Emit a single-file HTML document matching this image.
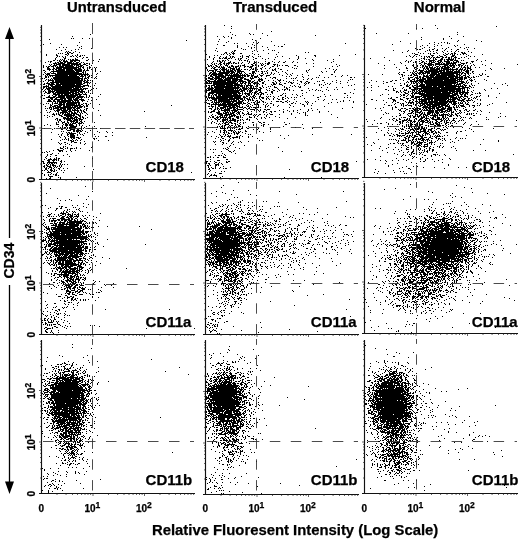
<!DOCTYPE html><html><head><meta charset="utf-8"><title>Figure</title><style>html,body{margin:0;padding:0;background:#fff}#f{position:relative;width:520px;height:540px;overflow:hidden;background:#fff}</style></head><body><div id="f"><svg width="520" height="540" viewBox="0 0 520 540" style="position:absolute;left:0;top:0">
<defs><filter id="b" x="0" y="0" width="520" height="540" filterUnits="userSpaceOnUse"><feGaussianBlur stdDeviation="0.4"/></filter></defs>
<g fill="none" stroke="#000" stroke-width="1.05" stroke-linecap="square" filter="url(#b)">
<path transform="translate(41.5 179.5) scale(1 -1)" d="M0 0m5 1zm3 0zm1 0zm10 0zm-10 1zm8 0zm2 0zm16 0zm-27 1zm1 0zm1 0zm1 0zm-8 1zm4 0zm7 0zm1 0zm2 0zm-14 1zm4 0zm2 0zm3 0zm2 0zm1 0zm-14 1zm9 0zm5 0zm-9 1zm1 0zm1 0zm1 0zm7 0zm6 0zm128 0zm-143 1zm3 0zm2 0zm1 0zm-12 1zm2 0zm3 0zm3 0zm1 0zm1 0zm2 0zm2 0zm5 0zm3 0zm-19 1zm1 0zm4 0zm1 0zm3 0zm5 0zm34 0zm-48 1zm1 0zm2 0zm3 0zm2 0zm5 0zm1 0zm4 0zm4 0zm-23 1zm2 0zm3 0zm1 0zm1 0zm3 0zm2 0zm4 0zm-17 1zm1 0zm3 0zm1 0zm1 0zm1 0zm3 0zm2 0zm2 0zm2 0zm2 0zm23 0zm-40 1zm2 0zm1 0zm3 0zm2 0zm1 0zm1 0zm1 0zm4 0zm2 0zm-15 1zm2 0zm2 0zm2 0zm1 0zm7 0zm2 0zm2 0zm3 0zm-24 1zm1 0zm3 0zm2 0zm2 0zm1 0zm2 0zm2 0zm4 0zm-17 1zm4 0zm1 0zm1 0zm1 0zm1 0zm1 0zm1 0zm1 0zm1 0zm1 0zm5 0zm-19 1zm1 0zm5 0zm1 0zm4 0zm7 0zm1 0zm3 0zm-17 1zm1 0zm1 0zm3 0zm1 0zm1 0zm2 0zm2 0zm3 0zm-17 1zm4 0zm1 0zm1 0zm1 0zm2 0zm1 0zm1 0zm1 0zm2 0zm-12 1zm4 0zm4 0zm2 0zm2 0zm1 0zm33 0zm-47 1zm11 0zm-10 1zm4 0zm19 0zm-22 1zm8 0zm1 0zm7 0zm-16 1zm3 0zm1 0zm16 0zm-15 1zm6 0zm-16 1zm2 0zm3 0zm-1 1zm3 0zm10 0zm1 0zm2 0zm4 0zm5 0zm-18 1zm5 0zm1 0zm1 0zm1 0zm1 0zm8 0zm5 0zm14 0zm-32 1zm1 0zm5 0zm7 0zm-10 1zm1 0zm1 0zm3 0zm2 0zm3 0zm1 0zm1 0zm2 0zm2 0zm4 0zm-20 1zm3 0zm4 0zm9 0zm15 0zm-28 1zm2 0zm27 0zm-21 1zm-11 1zm5 0zm4 0zm15 0zm-25 1zm2 0zm6 0zm13 0zm5 0zm-27 1zm6 0zm1 0zm6 0zm3 0zm1 0zm1 0zm4 0zm-9 1zm1 0zm1 0zm11 0zm-24 1zm8 0zm2 0zm1 0zm2 0zm2 0zm2 0zm3 0zm18 0zm10 0zm-57 1zm11 0zm2 0zm2 0zm2 0zm4 0zm4 0zm5 0zm13 0zm-29 1zm3 0zm3 0zm2 0zm1 0zm4 0zm1 0zm14 0zm1 0zm2 0zm-36 1zm5 0zm5 0zm1 0zm1 0zm1 0zm1 0zm2 0zm1 0zm1 0zm2 0zm66 0zm-87 1zm5 0zm4 0zm2 0zm1 0zm1 0zm1 0zm1 0zm21 0zm3 0zm7 0zm1 0zm-45 1zm6 0zm3 0zm1 0zm1 0zm1 0zm1 0zm3 0zm6 0zm29 0zm-54 1zm3 0zm6 0zm1 0zm2 0zm1 0zm1 0zm1 0zm4 0zm3 0zm2 0zm12 0zm-32 1zm5 0zm2 0zm1 0zm1 0zm1 0zm1 0zm1 0zm1 0zm4 0zm5 0zm-33 1zm15 0zm2 0zm1 0zm2 0zm6 0zm2 0zm8 0zm12 0zm8 0zm5 0zm-51 1zm2 0zm10 0zm1 0zm2 0zm1 0zm1 0zm2 0zm1 0zm4 0zm12 0zm9 0zm-39 1zm1 0zm1 0zm1 0zm3 0zm1 0zm2 0zm1 0zm1 0zm1 0zm1 0zm2 0zm8 0zm-38 1zm9 0zm1 0zm4 0zm4 0zm1 0zm1 0zm1 0zm1 0zm3 0zm1 0zm3 0zm-37 1zm10 0zm7 0zm3 0zm3 0zm2 0zm1 0zm1 0zm3 0zm5 0zm2 0zm2 0zm5 0zm1 0zm7 0zm4 0zm-40 1zm2 0zm2 0zm1 0zm2 0zm2 0zm1 0zm1 0zm1 0zm1 0zm1 0zm1 0zm6 0zm3 0zm-26 1zm4 0zm4 0zm4 0zm1 0zm1 0zm1 0zm1 0zm1 0zm1 0zm5 0zm5 0zm8 0zm51 0zm-101 1zm6 0zm12 0zm3 0zm1 0zm1 0zm2 0zm1 0zm1 0zm1 0zm1 0zm3 0zm3 0zm3 0zm7 0zm-42 1zm9 0zm1 0zm1 0zm5 0zm2 0zm1 0zm1 0zm2 0zm1 0zm1 0zm1 0zm4 0zm3 0zm-23 1zm6 0zm3 0zm1 0zm2 0zm2 0zm2 0zm1 0zm1 0zm1 0zm3 0zm1 0zm1 0zm1 0zm2 0zm-27 1zm2 0zm4 0zm1 0zm1 0zm3 0zm1 0zm3 0zm2 0zm2 0zm1 0zm1 0zm2 0zm2 0zm1 0zm12 0zm-36 1zm3 0zm3 0zm3 0zm3 0zm1 0zm1 0zm1 0zm1 0zm2 0zm1 0zm3 0zm1 0zm3 0zm-27 1zm2 0zm1 0zm7 0zm1 0zm1 0zm1 0zm1 0zm2 0zm1 0zm1 0zm1 0zm1 0zm2 0zm2 0zm-26 1zm2 0zm2 0zm1 0zm4 0zm2 0zm1 0zm1 0zm1 0zm1 0zm2 0zm2 0zm1 0zm1 0zm1 0zm2 0zm1 0zm1 0zm1 0zm-26 1zm1 0zm6 0zm1 0zm1 0zm1 0zm1 0zm1 0zm1 0zm1 0zm1 0zm1 0zm1 0zm1 0zm2 0zm2 0zm1 0zm1 0zm3 0zm2 0zm-38 1zm16 0zm1 0zm1 0zm2 0zm1 0zm2 0zm1 0zm1 0zm2 0zm1 0zm1 0zm1 0zm3 0zm2 0zm1 0zm4 0zm-38 1zm3 0zm9 0zm1 0zm4 0zm1 0zm1 0zm1 0zm1 0zm1 0zm2 0zm2 0zm1 0zm3 0zm1 0zm2 0zm-38 1zm3 0zm7 0zm5 0zm1 0zm1 0zm3 0zm1 0zm1 0zm1 0zm1 0zm1 0zm1 0zm1 0zm1 0zm1 0zm1 0zm4 0zm1 0zm1 0zm5 0zm15 0zm-48 1zm1 0zm1 0zm2 0zm2 0zm1 0zm3 0zm2 0zm1 0zm1 0zm1 0zm1 0zm1 0zm1 0zm1 0zm2 0zm1 0zm2 0zm1 0zm1 0zm2 0zm7 0zm-34 1zm3 0zm2 0zm2 0zm2 0zm1 0zm2 0zm2 0zm1 0zm1 0zm2 0zm1 0zm1 0zm1 0zm1 0zm1 0zm4 0zm2 0zm4 0zm-39 1zm2 0zm9 0zm2 0zm1 0zm1 0zm1 0zm1 0zm1 0zm1 0zm1 0zm2 0zm2 0zm1 0zm2 0zm1 0zm2 0zm2 0zm2 0zm3 0zm1 0zm-35 1zm5 0zm2 0zm1 0zm4 0zm1 0zm1 0zm1 0zm1 0zm2 0zm1 0zm1 0zm1 0zm3 0zm3 0zm1 0zm3 0zm2 0zm1 0zm60 0zm-98 1zm8 0zm2 0zm1 0zm1 0zm1 0zm2 0zm1 0zm1 0zm1 0zm1 0zm1 0zm1 0zm2 0zm1 0zm2 0zm1 0zm1 0zm1 0zm1 0zm1 0zm1 0zm2 0zm1 0zm2 0zm3 0zm12 0zm-48 1zm1 0zm2 0zm4 0zm1 0zm1 0zm1 0zm1 0zm2 0zm1 0zm1 0zm2 0zm1 0zm1 0zm1 0zm2 0zm2 0zm1 0zm2 0zm3 0zm4 0zm2 0zm-41 1zm2 0zm2 0zm2 0zm2 0zm1 0zm1 0zm1 0zm1 0zm1 0zm2 0zm1 0zm1 0zm1 0zm1 0zm1 0zm2 0zm1 0zm1 0zm1 0zm1 0zm2 0zm1 0zm2 0zm1 0zm1 0zm1 0zm7 0zm1 0zm6 0zm-44 1zm1 0zm1 0zm2 0zm2 0zm1 0zm1 0zm1 0zm1 0zm1 0zm1 0zm1 0zm1 0zm1 0zm1 0zm1 0zm1 0zm1 0zm1 0zm1 0zm1 0zm1 0zm1 0zm1 0zm1 0zm2 0zm1 0zm1 0zm1 0zm1 0zm3 0zm-39 1zm5 0zm2 0zm1 0zm1 0zm1 0zm2 0zm1 0zm1 0zm1 0zm3 0zm1 0zm1 0zm1 0zm1 0zm1 0zm1 0zm1 0zm2 0zm2 0zm1 0zm1 0zm1 0zm2 0zm1 0zm1 0zm1 0zm2 0zm2 0zm1 0zm-37 1zm1 0zm3 0zm1 0zm1 0zm1 0zm2 0zm1 0zm1 0zm2 0zm1 0zm2 0zm1 0zm1 0zm1 0zm1 0zm1 0zm1 0zm1 0zm1 0zm1 0zm1 0zm1 0zm1 0zm1 0zm1 0zm3 0zm3 0zm1 0zm84 0zm-128 1zm7 0zm2 0zm6 0zm1 0zm1 0zm1 0zm1 0zm1 0zm1 0zm2 0zm1 0zm1 0zm1 0zm1 0zm1 0zm1 0zm1 0zm1 0zm2 0zm2 0zm1 0zm2 0zm1 0zm4 0zm2 0zm11 0zm-53 1zm2 0zm4 0zm2 0zm1 0zm1 0zm1 0zm2 0zm1 0zm1 0zm2 0zm1 0zm2 0zm1 0zm1 0zm1 0zm1 0zm1 0zm1 0zm1 0zm1 0zm1 0zm1 0zm2 0zm1 0zm4 0zm2 0zm1 0zm4 0zm-38 1zm3 0zm2 0zm2 0zm1 0zm1 0zm1 0zm1 0zm1 0zm1 0zm2 0zm1 0zm1 0zm1 0zm1 0zm1 0zm1 0zm1 0zm1 0zm1 0zm1 0zm1 0zm1 0zm-32 1zm1 0zm1 0zm1 0zm1 0zm2 0zm1 0zm1 0zm2 0zm1 0zm1 0zm1 0zm1 0zm1 0zm1 0zm1 0zm1 0zm1 0zm1 0zm1 0zm1 0zm1 0zm2 0zm1 0zm2 0zm2 0zm1 0zm4 0zm5 0zm-39 1zm1 0zm1 0zm3 0zm1 0zm3 0zm1 0zm1 0zm2 0zm1 0zm1 0zm1 0zm1 0zm1 0zm1 0zm1 0zm1 0zm1 0zm1 0zm1 0zm2 0zm1 0zm1 0zm1 0zm1 0zm3 0zm1 0zm1 0zm1 0zm7 0zm-43 1zm1 0zm2 0zm1 0zm2 0zm1 0zm1 0zm1 0zm1 0zm1 0zm1 0zm1 0zm1 0zm2 0zm1 0zm3 0zm1 0zm1 0zm1 0zm2 0zm1 0zm1 0zm1 0zm1 0zm2 0zm1 0zm1 0zm1 0zm1 0zm5 0zm8 0zm-53 1zm1 0zm6 0zm1 0zm1 0zm3 0zm1 0zm4 0zm1 0zm1 0zm1 0zm1 0zm1 0zm2 0zm1 0zm1 0zm1 0zm1 0zm2 0zm2 0zm1 0zm1 0zm1 0zm3 0zm-35 1zm1 0zm1 0zm1 0zm1 0zm1 0zm1 0zm1 0zm1 0zm2 0zm1 0zm1 0zm1 0zm1 0zm1 0zm1 0zm1 0zm1 0zm2 0zm1 0zm1 0zm1 0zm1 0zm1 0zm1 0zm1 0zm1 0zm2 0zm1 0zm1 0zm1 0zm1 0zm1 0zm1 0zm2 0zm2 0zm2 0zm3 0zm-43 1zm1 0zm4 0zm1 0zm1 0zm3 0zm1 0zm1 0zm1 0zm1 0zm1 0zm1 0zm2 0zm1 0zm1 0zm1 0zm1 0zm1 0zm1 0zm1 0zm1 0zm1 0zm2 0zm1 0zm1 0zm1 0zm1 0zm1 0zm1 0zm3 0zm3 0zm9 0zm-56 1zm2 0zm5 0zm3 0zm3 0zm1 0zm2 0zm1 0zm1 0zm1 0zm1 0zm1 0zm1 0zm1 0zm1 0zm1 0zm1 0zm1 0zm1 0zm1 0zm1 0zm1 0zm1 0zm1 0zm1 0zm1 0zm2 0zm1 0zm6 0zm3 0zm-36 1zm1 0zm1 0zm1 0zm1 0zm1 0zm1 0zm2 0zm1 0zm2 0zm1 0zm1 0zm1 0zm1 0zm2 0zm1 0zm1 0zm1 0zm2 0zm1 0zm1 0zm1 0zm1 0zm1 0zm1 0zm2 0zm1 0zm1 0zm1 0zm14 0zm-56 1zm3 0zm1 0zm1 0zm4 0zm1 0zm1 0zm2 0zm1 0zm1 0zm1 0zm1 0zm1 0zm1 0zm1 0zm1 0zm1 0zm1 0zm1 0zm1 0zm1 0zm2 0zm1 0zm1 0zm1 0zm1 0zm2 0zm1 0zm3 0zm3 0zm5 0zm2 0zm-47 1zm1 0zm2 0zm1 0zm1 0zm2 0zm1 0zm2 0zm1 0zm1 0zm1 0zm1 0zm1 0zm1 0zm1 0zm1 0zm1 0zm1 0zm1 0zm1 0zm1 0zm1 0zm1 0zm1 0zm1 0zm1 0zm2 0zm1 0zm1 0zm1 0zm2 0zm1 0zm1 0zm2 0zm2 0zm2 0zm-45 1zm2 0zm3 0zm1 0zm1 0zm1 0zm1 0zm1 0zm1 0zm2 0zm1 0zm1 0zm1 0zm1 0zm1 0zm1 0zm1 0zm1 0zm1 0zm1 0zm1 0zm1 0zm2 0zm1 0zm1 0zm1 0zm1 0zm1 0zm1 0zm2 0zm1 0zm1 0zm1 0zm1 0zm1 0zm1 0zm4 0zm-44 1zm4 0zm1 0zm1 0zm2 0zm2 0zm1 0zm1 0zm1 0zm1 0zm1 0zm1 0zm1 0zm1 0zm1 0zm1 0zm1 0zm1 0zm1 0zm1 0zm1 0zm1 0zm1 0zm1 0zm1 0zm1 0zm1 0zm1 0zm1 0zm1 0zm1 0zm2 0zm1 0zm6 0zm2 0zm-48 1zm3 0zm2 0zm1 0zm1 0zm2 0zm1 0zm1 0zm1 0zm1 0zm1 0zm1 0zm1 0zm1 0zm1 0zm1 0zm1 0zm1 0zm1 0zm1 0zm1 0zm1 0zm1 0zm1 0zm1 0zm1 0zm1 0zm1 0zm1 0zm1 0zm1 0zm1 0zm1 0zm1 0zm1 0zm1 0zm1 0zm1 0zm2 0zm6 0zm-48 1zm3 0zm1 0zm1 0zm1 0zm1 0zm1 0zm1 0zm1 0zm1 0zm1 0zm1 0zm1 0zm1 0zm1 0zm1 0zm1 0zm1 0zm1 0zm1 0zm1 0zm1 0zm1 0zm1 0zm1 0zm1 0zm1 0zm2 0zm1 0zm1 0zm1 0zm1 0zm1 0zm2 0zm1 0zm2 0zm1 0zm1 0zm1 0zm1 0zm6 0zm3 0zm-53 1zm1 0zm2 0zm2 0zm1 0zm1 0zm2 0zm1 0zm1 0zm1 0zm1 0zm1 0zm1 0zm1 0zm1 0zm1 0zm1 0zm1 0zm1 0zm1 0zm1 0zm1 0zm1 0zm1 0zm1 0zm1 0zm1 0zm1 0zm2 0zm1 0zm1 0zm1 0zm1 0zm1 0zm2 0zm10 0zm-49 1zm1 0zm1 0zm1 0zm1 0zm1 0zm3 0zm1 0zm1 0zm1 0zm1 0zm1 0zm1 0zm1 0zm1 0zm1 0zm1 0zm1 0zm1 0zm1 0zm1 0zm1 0zm1 0zm1 0zm1 0zm1 0zm1 0zm1 0zm1 0zm1 0zm1 0zm1 0zm1 0zm1 0zm1 0zm1 0zm1 0zm1 0zm1 0zm1 0zm4 0zm2 0zm-44 1zm2 0zm2 0zm1 0zm1 0zm3 0zm1 0zm1 0zm1 0zm1 0zm1 0zm2 0zm1 0zm1 0zm1 0zm1 0zm1 0zm1 0zm1 0zm1 0zm1 0zm1 0zm1 0zm1 0zm1 0zm1 0zm1 0zm1 0zm1 0zm1 0zm3 0zm1 0zm1 0zm1 0zm1 0zm1 0zm6 0zm-51 1zm1 0zm4 0zm1 0zm1 0zm1 0zm1 0zm1 0zm1 0zm2 0zm1 0zm1 0zm1 0zm1 0zm1 0zm1 0zm1 0zm1 0zm1 0zm1 0zm1 0zm1 0zm1 0zm1 0zm1 0zm1 0zm1 0zm1 0zm2 0zm1 0zm1 0zm1 0zm1 0zm1 0zm1 0zm5 0zm-43 1zm2 0zm1 0zm1 0zm1 0zm2 0zm1 0zm1 0zm3 0zm1 0zm1 0zm2 0zm1 0zm1 0zm1 0zm1 0zm1 0zm1 0zm1 0zm1 0zm1 0zm1 0zm1 0zm1 0zm1 0zm1 0zm1 0zm1 0zm1 0zm1 0zm1 0zm1 0zm1 0zm2 0zm1 0zm3 0zm2 0zm6 0zm-48 1zm3 0zm1 0zm1 0zm1 0zm1 0zm1 0zm1 0zm1 0zm1 0zm1 0zm1 0zm1 0zm1 0zm1 0zm1 0zm1 0zm1 0zm1 0zm1 0zm1 0zm1 0zm1 0zm1 0zm1 0zm1 0zm1 0zm1 0zm1 0zm1 0zm1 0zm1 0zm1 0zm3 0zm1 0zm1 0zm1 0zm1 0zm2 0zm-47 1zm5 0zm4 0zm1 0zm2 0zm1 0zm1 0zm1 0zm1 0zm1 0zm1 0zm1 0zm1 0zm1 0zm1 0zm1 0zm1 0zm1 0zm1 0zm1 0zm1 0zm1 0zm1 0zm1 0zm1 0zm1 0zm1 0zm1 0zm1 0zm1 0zm1 0zm2 0zm1 0zm2 0zm1 0zm5 0zm-47 1zm3 0zm1 0zm1 0zm1 0zm1 0zm1 0zm2 0zm1 0zm1 0zm1 0zm1 0zm1 0zm1 0zm1 0zm1 0zm1 0zm1 0zm1 0zm1 0zm1 0zm1 0zm1 0zm1 0zm1 0zm1 0zm1 0zm1 0zm1 0zm1 0zm1 0zm1 0zm1 0zm1 0zm1 0zm2 0zm1 0zm2 0zm1 0zm2 0zm2 0zm-46 1zm2 0zm2 0zm2 0zm2 0zm1 0zm1 0zm1 0zm1 0zm1 0zm1 0zm1 0zm1 0zm1 0zm1 0zm1 0zm1 0zm1 0zm1 0zm1 0zm1 0zm1 0zm1 0zm1 0zm1 0zm1 0zm1 0zm1 0zm1 0zm1 0zm2 0zm1 0zm2 0zm3 0zm-45 1zm2 0zm7 0zm2 0zm1 0zm1 0zm1 0zm1 0zm1 0zm1 0zm1 0zm1 0zm1 0zm1 0zm1 0zm1 0zm1 0zm1 0zm1 0zm1 0zm1 0zm1 0zm1 0zm1 0zm1 0zm1 0zm1 0zm1 0zm1 0zm1 0zm1 0zm1 0zm1 0zm2 0zm1 0zm1 0zm2 0zm6 0zm2 0zm-51 1zm1 0zm2 0zm5 0zm1 0zm1 0zm1 0zm1 0zm1 0zm1 0zm1 0zm1 0zm1 0zm1 0zm1 0zm1 0zm1 0zm1 0zm1 0zm1 0zm1 0zm1 0zm1 0zm1 0zm1 0zm1 0zm1 0zm1 0zm1 0zm1 0zm3 0zm3 0zm2 0zm1 0zm3 0zm4 0zm-50 1zm1 0zm2 0zm2 0zm2 0zm3 0zm1 0zm1 0zm1 0zm1 0zm1 0zm1 0zm1 0zm1 0zm1 0zm1 0zm1 0zm1 0zm1 0zm1 0zm1 0zm1 0zm1 0zm1 0zm1 0zm1 0zm1 0zm1 0zm1 0zm2 0zm1 0zm1 0zm1 0zm2 0zm3 0zm1 0zm7 0zm-51 1zm2 0zm2 0zm1 0zm1 0zm1 0zm1 0zm1 0zm1 0zm1 0zm1 0zm1 0zm1 0zm1 0zm1 0zm1 0zm1 0zm1 0zm1 0zm1 0zm1 0zm2 0zm1 0zm1 0zm1 0zm1 0zm1 0zm1 0zm1 0zm3 0zm2 0zm1 0zm2 0zm1 0zm2 0zm2 0zm2 0zm-48 1zm3 0zm1 0zm1 0zm1 0zm6 0zm1 0zm1 0zm1 0zm1 0zm1 0zm1 0zm1 0zm1 0zm1 0zm1 0zm1 0zm1 0zm1 0zm1 0zm1 0zm1 0zm1 0zm1 0zm1 0zm1 0zm1 0zm1 0zm1 0zm1 0zm1 0zm1 0zm1 0zm1 0zm1 0zm1 0zm1 0zm1 0zm1 0zm8 0zm-51 1zm2 0zm1 0zm1 0zm2 0zm1 0zm1 0zm1 0zm1 0zm2 0zm1 0zm1 0zm1 0zm1 0zm1 0zm1 0zm1 0zm1 0zm1 0zm1 0zm1 0zm1 0zm1 0zm1 0zm1 0zm1 0zm1 0zm1 0zm1 0zm1 0zm1 0zm1 0zm1 0zm1 0zm2 0zm2 0zm2 0zm5 0zm5 0zm-53 1zm6 0zm3 0zm4 0zm1 0zm1 0zm1 0zm1 0zm1 0zm1 0zm1 0zm1 0zm1 0zm1 0zm1 0zm1 0zm1 0zm1 0zm1 0zm1 0zm1 0zm1 0zm1 0zm1 0zm1 0zm4 0zm1 0zm2 0zm-40 1zm6 0zm1 0zm1 0zm1 0zm1 0zm1 0zm1 0zm1 0zm1 0zm1 0zm1 0zm1 0zm1 0zm1 0zm1 0zm1 0zm1 0zm1 0zm1 0zm1 0zm1 0zm1 0zm1 0zm1 0zm2 0zm1 0zm1 0zm1 0zm1 0zm1 0zm2 0zm2 0zm10 0zm5 0zm-57 1zm1 0zm5 0zm4 0zm3 0zm1 0zm1 0zm1 0zm1 0zm1 0zm1 0zm1 0zm1 0zm2 0zm1 0zm1 0zm1 0zm1 0zm1 0zm1 0zm1 0zm2 0zm1 0zm1 0zm1 0zm1 0zm1 0zm1 0zm2 0zm1 0zm2 0zm1 0zm1 0zm7 0zm-48 1zm1 0zm1 0zm1 0zm2 0zm1 0zm2 0zm1 0zm2 0zm1 0zm1 0zm1 0zm1 0zm1 0zm1 0zm2 0zm1 0zm1 0zm1 0zm1 0zm1 0zm1 0zm2 0zm1 0zm1 0zm1 0zm1 0zm1 0zm1 0zm1 0zm3 0zm3 0zm4 0zm4 0zm-48 1zm1 0zm1 0zm4 0zm1 0zm2 0zm1 0zm1 0zm1 0zm1 0zm1 0zm2 0zm1 0zm1 0zm1 0zm1 0zm1 0zm1 0zm1 0zm1 0zm1 0zm1 0zm1 0zm1 0zm1 0zm2 0zm1 0zm1 0zm3 0zm4 0zm2 0zm6 0zm-52 1zm4 0zm1 0zm5 0zm3 0zm1 0zm1 0zm1 0zm1 0zm1 0zm1 0zm1 0zm1 0zm1 0zm1 0zm1 0zm1 0zm1 0zm1 0zm1 0zm1 0zm1 0zm1 0zm1 0zm1 0zm1 0zm1 0zm2 0zm2 0zm1 0zm4 0zm2 0zm1 0zm4 0zm2 0zm-53 1zm3 0zm2 0zm1 0zm2 0zm1 0zm1 0zm2 0zm2 0zm2 0zm1 0zm1 0zm1 0zm1 0zm2 0zm1 0zm1 0zm1 0zm1 0zm1 0zm1 0zm1 0zm1 0zm3 0zm2 0zm1 0zm1 0zm1 0zm2 0zm6 0zm-46 1zm7 0zm3 0zm1 0zm1 0zm1 0zm3 0zm1 0zm2 0zm1 0zm1 0zm1 0zm1 0zm1 0zm1 0zm1 0zm1 0zm1 0zm1 0zm2 0zm2 0zm1 0zm1 0zm2 0zm1 0zm1 0zm4 0zm1 0zm4 0zm-42 1zm2 0zm3 0zm2 0zm1 0zm1 0zm1 0zm1 0zm2 0zm1 0zm1 0zm1 0zm1 0zm1 0zm1 0zm1 0zm2 0zm1 0zm1 0zm1 0zm1 0zm1 0zm1 0zm1 0zm1 0zm1 0zm3 0zm1 0zm1 0zm4 0zm-36 1zm1 0zm1 0zm1 0zm2 0zm1 0zm1 0zm1 0zm1 0zm1 0zm1 0zm3 0zm1 0zm1 0zm1 0zm1 0zm1 0zm1 0zm1 0zm1 0zm1 0zm1 0zm2 0zm1 0zm4 0zm2 0zm1 0zm2 0zm3 0zm-47 1zm5 0zm5 0zm2 0zm1 0zm2 0zm1 0zm1 0zm2 0zm1 0zm2 0zm1 0zm1 0zm1 0zm1 0zm2 0zm3 0zm1 0zm1 0zm3 0zm2 0zm-35 1zm2 0zm1 0zm8 0zm1 0zm3 0zm1 0zm1 0zm1 0zm1 0zm3 0zm1 0zm1 0zm2 0zm1 0zm4 0zm19 0zm-45 1zm1 0zm3 0zm2 0zm2 0zm2 0zm1 0zm2 0zm4 0zm1 0zm1 0zm1 0zm1 0zm1 0zm1 0zm1 0zm1 0zm1 0zm7 0zm1 0zm6 0zm-38 1zm5 0zm2 0zm2 0zm4 0zm2 0zm2 0zm1 0zm2 0zm1 0zm1 0zm11 0zm11 0zm-44 1zm9 0zm1 0zm10 0zm7 0zm-26 1zm7 0zm2 0zm12 0zm6 0zm3 0zm1 0zm-30 1zm2 0zm3 0zm3 0zm5 0zm1 0zm2 0zm3 0zm3 0zm1 0zm-34 1zm10 0zm1 0zm10 0zm5 0zm3 0zm2 0zm3 0zm2 0zm2 0zm-38 1zm10 0zm9 0zm1 0zm2 0zm9 0zm-19 1zm2 0zm2 0zm5 0zm1 0zm3 0zm1 0zm-7 1zm2 0zm2 0zm1 0zm3 0zm6 0zm-13 1zm2 0zm7 0zm-14 1zm10 0zm-15 1zm9 0zm10 0zm3 0zm3 1zm10 0zm-32 1zm4 0zm3 0zm13 0zm2 1zm-4 1zm-34 1zm18 0zm-11 1zm29 1zm107 2zm-137 1zm22 1zm2 0zm9 0zm7 0zm-17 2zm18 2z"/>
<path transform="translate(205.5 178.5) scale(1 -1)" d="M0 0m15 1zm64 0zm37 0zm-112 1zm7 0zm6 0zm-12 1zm1 0zm2 0zm1 0zm1 0zm1 0zm-9 1zm4 0zm3 0zm-6 1zm11 0zm1 0zm1 0zm-6 1zm-6 1zm12 0zm3 0zm-14 1zm124 0zm-126 1zm1 0zm80 0zm-80 1zm3 0zm1 0zm2 0zm4 0zm4 0zm2 0zm1 0zm-18 1zm3 0zm4 0zm5 0zm10 0zm-22 1zm7 0zm8 0zm-16 1zm1 0zm2 0zm5 0zm1 0zm2 0zm126 0zm-135 1zm6 0zm1 0zm1 0zm1 0zm4 0zm-16 1zm2 0zm1 0zm5 0zm4 0zm3 0zm-15 1zm9 0zm1 0zm3 0zm7 0zm1 0zm-21 1zm1 0zm3 0zm4 0zm12 0zm2 0zm1 0zm127 0zm-139 1zm1 0zm1 0zm-9 1zm16 0zm1 0zm-20 2zm1 0zm2 0zm3 0zm4 0zm1 0zm5 0zm1 0zm1 0zm-15 1zm13 0zm-8 1zm3 0zm1 0zm2 0zm4 0zm-1 1zm-2 1zm13 0zm-22 1zm18 0zm-10 1zm8 0zm1 0zm3 0zm49 0zm19 0zm-73 1zm6 0zm-24 1zm3 0zm2 0zm11 0zm1 0zm-4 1zm2 0zm3 0zm11 0zm-12 1zm8 0zm43 0zm-49 1zm1 1zm14 0zm-29 1zm7 0zm11 0zm-10 1zm3 0zm5 0zm-17 1zm8 0zm1 0zm9 0zm6 0zm3 0zm-28 1zm2 0zm5 0zm8 0zm5 0zm7 0zm8 0zm-27 1zm2 0zm5 0zm1 0zm30 0zm3 0zm-42 1zm5 0zm4 0zm-14 1zm7 0zm1 0zm7 0zm3 0zm6 0zm18 0zm27 0zm-66 1zm3 0zm8 0zm3 0zm1 0zm1 0zm1 0zm1 0zm1 0zm2 0zm9 0zm-37 1zm5 0zm5 0zm1 0zm2 0zm3 0zm1 0zm1 0zm1 0zm6 0zm1 0zm2 0zm3 0zm6 0zm4 0zm-32 1zm5 0zm3 0zm2 0zm10 0zm40 0zm8 0zm-81 1zm12 0zm4 0zm2 0zm2 0zm7 0zm3 0zm11 0zm2 0zm62 0zm39 0zm-127 1zm4 0zm1 0zm2 0zm3 0zm2 0zm1 0zm1 0zm7 0zm-37 1zm6 0zm6 0zm3 0zm1 0zm2 0zm2 0zm5 0zm1 0zm2 0zm2 0zm1 0zm3 0zm21 0zm-51 1zm8 0zm4 0zm2 0zm5 0zm2 0zm2 0zm3 0zm2 0zm5 0zm1 0zm13 0zm11 0zm-50 1zm3 0zm1 0zm1 0zm3 0zm1 0zm1 0zm1 0zm1 0zm2 0zm11 0zm-29 1zm8 0zm6 0zm6 0zm2 0zm1 0zm1 0zm13 0zm4 0zm13 0zm-50 1zm1 0zm1 0zm1 0zm1 0zm1 0zm2 0zm3 0zm2 0zm2 0zm5 0zm2 0zm1 0zm5 0zm1 0zm10 0zm12 0zm33 0zm9 0zm-100 1zm5 0zm3 0zm2 0zm2 0zm3 0zm2 0zm4 0zm2 0zm1 0zm6 0zm4 0zm33 0zm16 0zm-78 1zm2 0zm2 0zm1 0zm2 0zm4 0zm2 0zm4 0zm2 0zm2 0zm1 0zm1 0zm2 0zm6 0zm15 0zm20 0zm-61 1zm2 0zm1 0zm4 0zm2 0zm1 0zm3 0zm3 0zm1 0zm14 0zm8 0zm2 0zm-45 1zm2 0zm5 0zm1 0zm1 0zm1 0zm7 0zm2 0zm3 0zm13 0zm10 0zm1 0zm4 0zm17 0zm1 0zm16 0zm-91 1zm5 0zm3 0zm3 0zm2 0zm1 0zm3 0zm3 0zm1 0zm2 0zm1 0zm4 0zm4 0zm18 0zm28 0zm-78 1zm3 0zm9 0zm2 0zm1 0zm1 0zm2 0zm1 0zm1 0zm6 0zm3 0zm3 0zm2 0zm7 0zm1 0zm6 0zm1 0zm3 0zm1 0zm20 0zm36 0zm-108 1zm5 0zm3 0zm2 0zm1 0zm3 0zm2 0zm2 0zm4 0zm1 0zm2 0zm21 0zm-50 1zm9 0zm5 0zm1 0zm1 0zm1 0zm2 0zm2 0zm1 0zm1 0zm1 0zm1 0zm1 0zm1 0zm2 0zm1 0zm2 0zm3 0zm6 0zm23 0zm-61 1zm4 0zm1 0zm2 0zm1 0zm3 0zm1 0zm1 0zm1 0zm1 0zm1 0zm3 0zm2 0zm1 0zm1 0zm1 0zm5 0zm2 0zm4 0zm1 0zm2 0zm8 0zm-49 1zm6 0zm1 0zm2 0zm3 0zm3 0zm2 0zm2 0zm2 0zm1 0zm2 0zm1 0zm4 0zm1 0zm9 0zm9 0zm5 0zm4 0zm22 0zm-77 1zm2 0zm1 0zm3 0zm1 0zm1 0zm2 0zm1 0zm1 0zm1 0zm1 0zm1 0zm1 0zm2 0zm1 0zm1 0zm6 0zm1 0zm1 0zm2 0zm2 0zm7 0zm1 0zm1 0zm3 0zm7 0zm3 0zm5 0zm10 0zm16 0zm42 0zm-128 1zm3 0zm1 0zm4 0zm2 0zm1 0zm2 0zm2 0zm2 0zm3 0zm1 0zm1 0zm1 0zm2 0zm2 0zm1 0zm1 0zm2 0zm9 0zm5 0zm3 0zm9 0zm9 0zm-64 1zm4 0zm5 0zm1 0zm1 0zm2 0zm1 0zm1 0zm1 0zm2 0zm2 0zm1 0zm1 0zm1 0zm1 0zm5 0zm3 0zm10 0zm2 0zm3 0zm8 0zm39 0zm2 0zm-95 1zm6 0zm1 0zm1 0zm1 0zm1 0zm3 0zm1 0zm1 0zm1 0zm1 0zm1 0zm1 0zm2 0zm1 0zm3 0zm2 0zm5 0zm2 0zm2 0zm1 0zm1 0zm1 0zm3 0zm2 0zm3 0zm1 0zm4 0zm3 0zm3 0zm1 0zm1 0zm7 0zm12 0zm14 0zm26 0zm-114 1zm1 0zm1 0zm1 0zm1 0zm2 0zm1 0zm1 0zm1 0zm2 0zm2 0zm1 0zm1 0zm1 0zm3 0zm2 0zm1 0zm3 0zm1 0zm4 0zm1 0zm3 0zm18 0zm22 0zm8 0zm6 0zm-97 1zm2 0zm1 0zm5 0zm1 0zm1 0zm1 0zm4 0zm2 0zm1 0zm1 0zm1 0zm2 0zm2 0zm1 0zm1 0zm3 0zm1 0zm1 0zm3 0zm6 0zm15 0zm3 0zm5 0zm12 0zm14 0zm6 0zm2 0zm14 0zm-111 1zm3 0zm1 0zm1 0zm1 0zm4 0zm1 0zm5 0zm1 0zm2 0zm2 0zm3 0zm2 0zm1 0zm1 0zm2 0zm2 0zm7 0zm4 0zm8 0zm4 0zm1 0zm6 0zm1 0zm3 0zm1 0zm8 0zm6 0zm4 0zm14 0zm12 0zm9 0zm-115 1zm1 0zm4 0zm3 0zm1 0zm1 0zm1 0zm1 0zm1 0zm1 0zm1 0zm1 0zm2 0zm1 0zm1 0zm1 0zm1 0zm1 0zm1 0zm6 0zm11 0zm4 0zm2 0zm6 0zm13 0zm8 0zm6 0zm4 0zm11 0zm4 0zm-101 1zm3 0zm1 0zm2 0zm2 0zm2 0zm3 0zm1 0zm1 0zm1 0zm1 0zm1 0zm4 0zm1 0zm1 0zm2 0zm1 0zm1 0zm1 0zm1 0zm1 0zm5 0zm3 0zm1 0zm1 0zm1 0zm1 0zm3 0zm3 0zm4 0zm1 0zm2 0zm1 0zm1 0zm14 0zm17 0zm8 0zm9 0zm-108 1zm1 0zm1 0zm4 0zm2 0zm1 0zm2 0zm1 0zm1 0zm1 0zm2 0zm2 0zm1 0zm1 0zm1 0zm1 0zm2 0zm1 0zm2 0zm1 0zm6 0zm3 0zm2 0zm1 0zm6 0zm56 0zm31 0zm-130 1zm3 0zm2 0zm3 0zm1 0zm1 0zm1 0zm1 0zm1 0zm2 0zm2 0zm1 0zm1 0zm1 0zm1 0zm1 0zm1 0zm2 0zm2 0zm1 0zm1 0zm1 0zm2 0zm1 0zm4 0zm2 0zm2 0zm1 0zm1 0zm1 0zm1 0zm1 0zm2 0zm5 0zm5 0zm19 0zm63 0zm-144 1zm1 0zm2 0zm1 0zm1 0zm2 0zm3 0zm1 0zm4 0zm1 0zm1 0zm1 0zm1 0zm1 0zm1 0zm1 0zm2 0zm1 0zm1 0zm2 0zm1 0zm1 0zm1 0zm3 0zm5 0zm1 0zm2 0zm8 0zm7 0zm2 0zm10 0zm16 0zm11 0zm20 0zm-113 1zm4 0zm3 0zm1 0zm1 0zm1 0zm1 0zm1 0zm1 0zm1 0zm1 0zm2 0zm1 0zm1 0zm1 0zm1 0zm1 0zm1 0zm1 0zm1 0zm1 0zm2 0zm7 0zm2 0zm4 0zm6 0zm7 0zm3 0zm5 0zm5 0zm12 0zm14 0zm7 0zm-102 1zm2 0zm1 0zm1 0zm1 0zm1 0zm1 0zm1 0zm1 0zm1 0zm1 0zm1 0zm1 0zm1 0zm1 0zm1 0zm1 0zm1 0zm1 0zm1 0zm1 0zm1 0zm1 0zm1 0zm1 0zm1 0zm1 0zm2 0zm1 0zm3 0zm5 0zm3 0zm4 0zm1 0zm2 0zm1 0zm5 0zm3 0zm7 0zm16 0zm13 0zm1 0zm4 0zm-100 1zm1 0zm1 0zm4 0zm2 0zm1 0zm2 0zm2 0zm2 0zm1 0zm1 0zm1 0zm2 0zm1 0zm1 0zm1 0zm1 0zm1 0zm2 0zm1 0zm1 0zm1 0zm1 0zm1 0zm1 0zm1 0zm2 0zm1 0zm1 0zm3 0zm1 0zm5 0zm3 0zm10 0zm3 0zm1 0zm20 0zm1 0zm3 0zm5 0zm7 0zm5 0zm16 0zm-122 1zm5 0zm1 0zm2 0zm1 0zm1 0zm1 0zm1 0zm1 0zm2 0zm2 0zm1 0zm1 0zm1 0zm1 0zm1 0zm1 0zm1 0zm2 0zm1 0zm3 0zm1 0zm1 0zm1 0zm1 0zm1 0zm2 0zm4 0zm4 0zm2 0zm1 0zm3 0zm1 0zm1 0zm4 0zm2 0zm17 0zm1 0zm4 0zm6 0zm13 0zm2 0zm23 0zm6 0zm16 0zm-141 1zm2 0zm2 0zm2 0zm1 0zm1 0zm1 0zm1 0zm1 0zm1 0zm1 0zm1 0zm1 0zm1 0zm1 0zm1 0zm1 0zm1 0zm1 0zm1 0zm1 0zm1 0zm2 0zm1 0zm1 0zm1 0zm1 0zm6 0zm7 0zm2 0zm2 0zm3 0zm1 0zm8 0zm5 0zm1 0zm1 0zm2 0zm1 0zm4 0zm1 0zm3 0zm7 0zm9 0zm2 0zm8 0zm25 0zm3 0zm10 0zm-147 1zm2 0zm2 0zm1 0zm3 0zm1 0zm1 0zm2 0zm1 0zm1 0zm1 0zm1 0zm1 0zm1 0zm1 0zm1 0zm1 0zm1 0zm1 0zm2 0zm2 0zm1 0zm1 0zm1 0zm2 0zm1 0zm3 0zm1 0zm2 0zm3 0zm2 0zm2 0zm1 0zm3 0zm1 0zm4 0zm26 0zm36 0zm20 0zm6 0zm-142 1zm5 0zm1 0zm1 0zm1 0zm1 0zm2 0zm1 0zm1 0zm1 0zm1 0zm1 0zm1 0zm1 0zm1 0zm1 0zm1 0zm1 0zm1 0zm1 0zm1 0zm1 0zm1 0zm2 0zm1 0zm1 0zm2 0zm1 0zm1 0zm2 0zm3 0zm1 0zm1 0zm1 0zm2 0zm8 0zm6 0zm3 0zm4 0zm5 0zm1 0zm3 0zm1 0zm11 0zm24 0zm6 0zm8 0zm4 0zm-129 1zm2 0zm2 0zm1 0zm1 0zm1 0zm1 0zm1 0zm1 0zm1 0zm1 0zm1 0zm1 0zm1 0zm1 0zm1 0zm1 0zm1 0zm1 0zm2 0zm1 0zm1 0zm1 0zm1 0zm1 0zm1 0zm1 0zm1 0zm1 0zm1 0zm1 0zm1 0zm1 0zm2 0zm2 0zm1 0zm2 0zm3 0zm2 0zm2 0zm3 0zm3 0zm1 0zm3 0zm2 0zm5 0zm4 0zm5 0zm3 0zm3 0zm16 0zm-98 1zm2 0zm1 0zm1 0zm1 0zm1 0zm1 0zm1 0zm2 0zm1 0zm1 0zm1 0zm1 0zm1 0zm1 0zm1 0zm1 0zm1 0zm1 0zm1 0zm1 0zm1 0zm1 0zm1 0zm1 0zm2 0zm1 0zm1 0zm1 0zm1 0zm1 0zm1 0zm3 0zm1 0zm1 0zm4 0zm2 0zm2 0zm1 0zm5 0zm2 0zm1 0zm1 0zm4 0zm7 0zm8 0zm1 0zm4 0zm4 0zm3 0zm2 0zm21 0zm1 0zm26 0zm3 0zm3 0zm-144 1zm2 0zm3 0zm2 0zm3 0zm1 0zm1 0zm1 0zm1 0zm1 0zm1 0zm1 0zm1 0zm1 0zm1 0zm1 0zm1 0zm1 0zm1 0zm1 0zm1 0zm1 0zm1 0zm1 0zm1 0zm1 0zm1 0zm1 0zm1 0zm3 0zm1 0zm2 0zm1 0zm3 0zm2 0zm1 0zm2 0zm4 0zm1 0zm6 0zm2 0zm2 0zm3 0zm5 0zm7 0zm15 0zm20 0zm5 0zm-117 1zm1 0zm2 0zm2 0zm2 0zm1 0zm2 0zm1 0zm1 0zm2 0zm1 0zm1 0zm1 0zm1 0zm1 0zm1 0zm1 0zm1 0zm1 0zm1 0zm1 0zm1 0zm1 0zm1 0zm1 0zm1 0zm1 0zm1 0zm1 0zm5 0zm2 0zm1 0zm4 0zm1 0zm6 0zm20 0zm1 0zm4 0zm12 0zm5 0zm11 0zm17 0zm17 0zm-139 1zm1 0zm3 0zm2 0zm1 0zm1 0zm2 0zm1 0zm1 0zm1 0zm1 0zm1 0zm1 0zm1 0zm1 0zm1 0zm1 0zm1 0zm1 0zm1 0zm2 0zm1 0zm1 0zm1 0zm1 0zm2 0zm3 0zm3 0zm2 0zm1 0zm1 0zm2 0zm3 0zm2 0zm2 0zm2 0zm1 0zm2 0zm4 0zm3 0zm12 0zm10 0zm4 0zm28 0zm-116 1zm1 0zm1 0zm1 0zm1 0zm1 0zm3 0zm1 0zm1 0zm1 0zm1 0zm1 0zm1 0zm1 0zm1 0zm1 0zm1 0zm1 0zm1 0zm1 0zm1 0zm1 0zm1 0zm1 0zm1 0zm1 0zm1 0zm2 0zm1 0zm1 0zm2 0zm2 0zm1 0zm1 0zm1 0zm1 0zm1 0zm2 0zm3 0zm1 0zm2 0zm1 0zm3 0zm1 0zm1 0zm9 0zm11 0zm2 0zm17 0zm42 0zm1 0zm8 0zm-147 1zm3 0zm1 0zm1 0zm1 0zm1 0zm1 0zm1 0zm1 0zm1 0zm1 0zm1 0zm1 0zm1 0zm1 0zm1 0zm1 0zm1 0zm1 0zm1 0zm1 0zm1 0zm1 0zm1 0zm1 0zm1 0zm1 0zm1 0zm1 0zm1 0zm1 0zm1 0zm3 0zm3 0zm4 0zm1 0zm2 0zm2 0zm1 0zm1 0zm3 0zm1 0zm1 0zm4 0zm1 0zm5 0zm1 0zm34 0zm44 0zm-144 1zm5 0zm1 0zm1 0zm1 0zm1 0zm1 0zm1 0zm1 0zm1 0zm1 0zm1 0zm1 0zm1 0zm1 0zm1 0zm1 0zm1 0zm1 0zm1 0zm1 0zm1 0zm1 0zm1 0zm1 0zm1 0zm1 0zm1 0zm1 0zm2 0zm1 0zm1 0zm2 0zm3 0zm2 0zm1 0zm1 0zm4 0zm1 0zm1 0zm3 0zm11 0zm1 0zm5 0zm45 0zm-116 1zm1 0zm1 0zm1 0zm2 0zm1 0zm1 0zm1 0zm1 0zm1 0zm1 0zm1 0zm1 0zm1 0zm1 0zm1 0zm1 0zm1 0zm1 0zm1 0zm1 0zm1 0zm1 0zm1 0zm1 0zm1 0zm1 0zm1 0zm1 0zm1 0zm1 0zm1 0zm1 0zm2 0zm1 0zm1 0zm1 0zm3 0zm2 0zm1 0zm1 0zm1 0zm6 0zm1 0zm1 0zm7 0zm2 0zm4 0zm1 0zm5 0zm5 0zm5 0zm4 0zm8 0zm1 0zm7 0zm6 0zm3 0zm2 0zm8 0zm-122 1zm2 0zm1 0zm1 0zm1 0zm1 0zm2 0zm1 0zm1 0zm1 0zm1 0zm1 0zm1 0zm1 0zm1 0zm1 0zm1 0zm1 0zm1 0zm1 0zm1 0zm1 0zm1 0zm1 0zm1 0zm1 0zm2 0zm2 0zm2 0zm1 0zm1 0zm2 0zm1 0zm1 0zm1 0zm2 0zm2 0zm2 0zm2 0zm2 0zm2 0zm1 0zm1 0zm6 0zm6 0zm6 0zm4 0zm2 0zm1 0zm2 0zm2 0zm23 0zm4 0zm10 0zm8 0zm3 0zm17 0zm-147 1zm1 0zm1 0zm1 0zm1 0zm1 0zm1 0zm2 0zm1 0zm1 0zm1 0zm1 0zm1 0zm1 0zm1 0zm1 0zm2 0zm1 0zm1 0zm1 0zm1 0zm1 0zm1 0zm1 0zm1 0zm1 0zm1 0zm1 0zm1 0zm1 0zm2 0zm2 0zm1 0zm1 0zm1 0zm1 0zm1 0zm2 0zm1 0zm1 0zm1 0zm1 0zm1 0zm1 0zm2 0zm3 0zm1 0zm8 0zm8 0zm9 0zm1 0zm21 0zm-100 1zm1 0zm2 0zm1 0zm2 0zm1 0zm1 0zm1 0zm1 0zm1 0zm1 0zm1 0zm1 0zm1 0zm1 0zm1 0zm1 0zm1 0zm1 0zm1 0zm1 0zm1 0zm1 0zm1 0zm1 0zm1 0zm1 0zm1 0zm1 0zm1 0zm3 0zm1 0zm1 0zm2 0zm2 0zm2 0zm1 0zm2 0zm6 0zm1 0zm3 0zm3 0zm8 0zm1 0zm1 0zm8 0zm2 0zm3 0zm10 0zm1 0zm21 0zm6 0zm9 0zm6 0zm-136 1zm3 0zm2 0zm3 0zm1 0zm1 0zm1 0zm1 0zm1 0zm1 0zm1 0zm1 0zm1 0zm1 0zm1 0zm1 0zm1 0zm1 0zm1 0zm1 0zm1 0zm1 0zm2 0zm1 0zm2 0zm1 0zm2 0zm1 0zm1 0zm2 0zm2 0zm1 0zm3 0zm1 0zm2 0zm2 0zm2 0zm5 0zm6 0zm2 0zm4 0zm10 0zm8 0zm3 0zm3 0zm2 0zm-94 1zm2 0zm1 0zm2 0zm1 0zm1 0zm1 0zm2 0zm1 0zm1 0zm1 0zm1 0zm1 0zm1 0zm1 0zm1 0zm2 0zm1 0zm1 0zm1 0zm1 0zm1 0zm1 0zm1 0zm1 0zm1 0zm1 0zm1 0zm1 0zm1 0zm1 0zm1 0zm1 0zm2 0zm2 0zm1 0zm1 0zm1 0zm1 0zm1 0zm1 0zm4 0zm1 0zm5 0zm10 0zm10 0zm8 0zm4 0zm10 0zm15 0zm4 0zm25 0zm3 0zm-138 1zm1 0zm1 0zm1 0zm1 0zm1 0zm1 0zm1 0zm1 0zm1 0zm1 0zm1 0zm1 0zm1 0zm1 0zm1 0zm1 0zm1 0zm1 0zm1 0zm2 0zm1 0zm1 0zm1 0zm1 0zm1 0zm2 0zm4 0zm3 0zm2 0zm4 0zm3 0zm2 0zm6 0zm6 0zm2 0zm1 0zm1 0zm4 0zm1 0zm1 0zm18 0zm6 0zm14 0zm2 0zm4 0zm4 0zm25 0zm-148 1zm1 0zm1 0zm1 0zm1 0zm1 0zm2 0zm1 0zm1 0zm1 0zm1 0zm1 0zm1 0zm1 0zm1 0zm1 0zm1 0zm1 0zm1 0zm1 0zm1 0zm1 0zm1 0zm1 0zm1 0zm1 0zm1 0zm1 0zm1 0zm1 0zm1 0zm3 0zm1 0zm1 0zm2 0zm1 0zm3 0zm1 0zm1 0zm3 0zm1 0zm1 0zm2 0zm1 0zm4 0zm1 0zm10 0zm1 0zm2 0zm3 0zm5 0zm1 0zm6 0zm1 0zm5 0zm7 0zm2 0zm2 0zm6 0zm13 0zm3 0zm10 0zm-134 1zm1 0zm2 0zm2 0zm2 0zm1 0zm1 0zm1 0zm1 0zm1 0zm1 0zm1 0zm1 0zm1 0zm1 0zm1 0zm1 0zm1 0zm1 0zm1 0zm1 0zm1 0zm1 0zm1 0zm1 0zm1 0zm1 0zm2 0zm3 0zm2 0zm1 0zm2 0zm1 0zm2 0zm1 0zm2 0zm1 0zm2 0zm1 0zm1 0zm1 0zm5 0zm1 0zm9 0zm1 0zm3 0zm4 0zm8 0zm2 0zm1 0zm2 0zm8 0zm4 0zm3 0zm1 0zm15 0zm12 0zm11 0zm-141 1zm2 0zm1 0zm1 0zm1 0zm1 0zm1 0zm1 0zm1 0zm1 0zm1 0zm1 0zm1 0zm1 0zm1 0zm1 0zm1 0zm1 0zm1 0zm2 0zm1 0zm1 0zm1 0zm1 0zm1 0zm1 0zm1 0zm1 0zm1 0zm2 0zm1 0zm1 0zm1 0zm1 0zm1 0zm1 0zm1 0zm3 0zm1 0zm1 0zm2 0zm1 0zm4 0zm2 0zm1 0zm4 0zm11 0zm4 0zm7 0zm3 0zm11 0zm1 0zm5 0zm1 0zm10 0zm2 0zm13 0zm8 0zm-133 1zm1 0zm1 0zm5 0zm1 0zm2 0zm1 0zm1 0zm1 0zm1 0zm1 0zm1 0zm1 0zm1 0zm1 0zm1 0zm1 0zm1 0zm1 0zm2 0zm1 0zm1 0zm1 0zm1 0zm1 0zm2 0zm1 0zm1 0zm1 0zm5 0zm1 0zm1 0zm1 0zm4 0zm4 0zm1 0zm2 0zm1 0zm6 0zm5 0zm5 0zm1 0zm1 0zm3 0zm10 0zm4 0zm25 0zm1 0zm13 0zm12 0zm-142 1zm4 0zm1 0zm1 0zm1 0zm2 0zm1 0zm2 0zm1 0zm1 0zm1 0zm1 0zm2 0zm1 0zm1 0zm1 0zm1 0zm1 0zm1 0zm2 0zm1 0zm1 0zm1 0zm1 0zm1 0zm1 0zm1 0zm1 0zm1 0zm3 0zm1 0zm1 0zm1 0zm1 0zm3 0zm7 0zm1 0zm1 0zm1 0zm1 0zm15 0zm3 0zm23 0zm4 0zm4 0zm39 0zm2 0zm-146 1zm2 0zm1 0zm1 0zm1 0zm1 0zm2 0zm1 0zm1 0zm1 0zm1 0zm1 0zm1 0zm1 0zm2 0zm2 0zm1 0zm1 0zm1 0zm1 0zm1 0zm1 0zm1 0zm1 0zm1 0zm1 0zm1 0zm1 0zm3 0zm1 0zm1 0zm2 0zm1 0zm5 0zm1 0zm1 0zm1 0zm6 0zm2 0zm4 0zm7 0zm3 0zm11 0zm5 0zm2 0zm2 0zm13 0zm4 0zm-104 1zm1 0zm3 0zm1 0zm2 0zm1 0zm1 0zm1 0zm1 0zm2 0zm1 0zm1 0zm1 0zm1 0zm2 0zm1 0zm1 0zm1 0zm1 0zm1 0zm2 0zm2 0zm1 0zm1 0zm1 0zm1 0zm1 0zm1 0zm1 0zm7 0zm2 0zm2 0zm1 0zm1 0zm2 0zm12 0zm3 0zm1 0zm1 0zm21 0zm7 0zm13 0zm2 0zm6 0zm4 0zm22 0zm1 0zm3 0zm-148 1zm4 0zm1 0zm1 0zm3 0zm1 0zm1 0zm1 0zm1 0zm1 0zm1 0zm1 0zm1 0zm1 0zm1 0zm3 0zm2 0zm1 0zm1 0zm1 0zm1 0zm1 0zm1 0zm1 0zm1 0zm1 0zm1 0zm2 0zm2 0zm1 0zm2 0zm1 0zm3 0zm1 0zm2 0zm1 0zm1 0zm1 0zm4 0zm5 0zm20 0zm3 0zm13 0zm33 0zm6 0zm-135 1zm2 0zm2 0zm1 0zm2 0zm1 0zm1 0zm1 0zm2 0zm1 0zm1 0zm1 0zm1 0zm1 0zm2 0zm1 0zm1 0zm1 0zm1 0zm1 0zm1 0zm1 0zm1 0zm1 0zm1 0zm1 0zm1 0zm1 0zm1 0zm1 0zm1 0zm1 0zm1 0zm1 0zm1 0zm2 0zm1 0zm1 0zm2 0zm1 0zm1 0zm4 0zm3 0zm1 0zm1 0zm4 0zm1 0zm1 0zm1 0zm13 0zm9 0zm6 0zm11 0zm11 0zm23 0zm5 0zm-138 1zm2 0zm1 0zm1 0zm1 0zm1 0zm1 0zm1 0zm1 0zm1 0zm1 0zm1 0zm1 0zm3 0zm1 0zm1 0zm2 0zm2 0zm2 0zm1 0zm1 0zm1 0zm1 0zm1 0zm2 0zm2 0zm2 0zm2 0zm1 0zm4 0zm2 0zm6 0zm4 0zm7 0zm3 0zm6 0zm8 0zm3 0zm12 0zm29 0zm1 0zm-123 1zm1 0zm2 0zm1 0zm1 0zm1 0zm1 0zm2 0zm1 0zm1 0zm1 0zm1 0zm1 0zm1 0zm1 0zm1 0zm1 0zm1 0zm2 0zm1 0zm1 0zm2 0zm2 0zm1 0zm2 0zm1 0zm1 0zm4 0zm4 0zm1 0zm2 0zm1 0zm2 0zm6 0zm1 0zm3 0zm2 0zm4 0zm3 0zm12 0zm6 0zm-82 1zm1 0zm2 0zm1 0zm1 0zm4 0zm1 0zm1 0zm1 0zm1 0zm1 0zm1 0zm1 0zm1 0zm1 0zm1 0zm2 0zm1 0zm1 0zm1 0zm3 0zm1 0zm1 0zm2 0zm3 0zm8 0zm1 0zm1 0zm8 0zm5 0zm4 0zm7 0zm7 0zm22 0zm15 0zm12 0zm-126 1zm4 0zm1 0zm2 0zm2 0zm1 0zm1 0zm1 0zm3 0zm1 0zm2 0zm1 0zm1 0zm1 0zm1 0zm1 0zm1 0zm1 0zm2 0zm2 0zm1 0zm1 0zm1 0zm1 0zm1 0zm1 0zm9 0zm1 0zm1 0zm2 0zm2 0zm3 0zm1 0zm2 0zm2 0zm10 0zm6 0zm24 0zm15 0zm5 0zm8 0zm-127 1zm2 0zm1 0zm1 0zm1 0zm1 0zm2 0zm1 0zm4 0zm2 0zm1 0zm1 0zm2 0zm1 0zm1 0zm2 0zm1 0zm1 0zm2 0zm1 0zm2 0zm1 0zm1 0zm1 0zm9 0zm6 0zm1 0zm11 0zm5 0zm1 0zm2 0zm12 0zm19 0zm2 0zm27 0zm-128 1zm7 0zm1 0zm1 0zm1 0zm2 0zm2 0zm1 0zm1 0zm1 0zm1 0zm1 0zm2 0zm2 0zm2 0zm1 0zm1 0zm2 0zm1 0zm1 0zm1 0zm2 0zm3 0zm1 0zm2 0zm3 0zm2 0zm1 0zm2 0zm2 0zm4 0zm11 0zm2 0zm1 0zm5 0zm1 0zm28 0zm24 0zm3 0zm-130 1zm5 0zm2 0zm1 0zm6 0zm2 0zm1 0zm1 0zm2 0zm4 0zm1 0zm1 0zm1 0zm1 0zm2 0zm2 0zm1 0zm12 0zm2 0zm2 0zm5 0zm1 0zm4 0zm4 0zm6 0zm3 0zm16 0zm2 0zm29 0zm4 0zm-123 1zm6 0zm2 0zm1 0zm3 0zm1 0zm2 0zm1 0zm1 0zm1 0zm4 0zm1 0zm1 0zm3 0zm2 0zm1 0zm3 0zm5 0zm5 0zm1 0zm1 0zm4 0zm1 0zm6 0zm8 0zm22 0zm-84 1zm1 0zm2 0zm2 0zm3 0zm1 0zm2 0zm2 0zm2 0zm4 0zm2 0zm2 0zm1 0zm1 0zm2 0zm1 0zm1 0zm1 0zm2 0zm4 0zm1 0zm2 0zm1 0zm2 0zm1 0zm1 0zm6 0zm6 0zm8 0zm1 0zm4 0zm11 0zm9 0zm16 0zm19 0zm5 0zm-129 1zm2 0zm1 0zm4 0zm1 0zm4 0zm5 0zm1 0zm1 0zm4 0zm1 0zm6 0zm2 0zm2 0zm1 0zm1 0zm8 0zm1 0zm2 0zm3 0zm3 0zm1 0zm3 0zm9 0zm3 0zm2 0zm3 0zm3 0zm1 0zm1 0zm7 0zm1 0zm44 0zm-132 1zm5 0zm2 0zm4 0zm2 0zm1 0zm3 0zm2 0zm2 0zm16 0zm7 0zm1 0zm3 0zm6 0zm2 0zm4 0zm1 0zm5 0zm1 0zm1 0zm2 0zm59 0zm-125 1zm3 0zm2 0zm3 0zm1 0zm3 0zm1 0zm2 0zm1 0zm1 0zm1 0zm2 0zm2 0zm2 0zm1 0zm2 0zm3 0zm7 0zm5 0zm1 0zm6 0zm2 0zm3 0zm2 0zm1 0zm1 0zm37 0zm7 0zm-101 1zm8 0zm1 0zm3 0zm4 0zm1 0zm1 0zm3 0zm1 0zm4 0zm4 0zm7 0zm5 0zm1 0zm3 0zm10 0zm1 0zm5 0zm4 0zm5 0zm1 0zm8 0zm5 0zm34 0zm-118 1zm4 0zm2 0zm1 0zm2 0zm2 0zm6 0zm17 0zm2 0zm5 0zm11 0zm7 0zm7 0zm6 0zm8 0zm40 0zm-116 1zm2 0zm3 0zm1 0zm2 0zm3 0zm11 0zm2 0zm3 0zm1 0zm2 0zm66 0zm14 0zm-120 1zm6 0zm14 0zm8 0zm3 0zm2 0zm8 0zm5 0zm12 0zm9 0zm23 0zm15 0zm21 0zm-120 1zm6 0zm1 0zm2 0zm2 0zm1 0zm1 0zm2 0zm1 0zm2 0zm7 0zm2 0zm1 0zm5 0zm9 0zm1 0zm6 0zm6 0zm21 0zm9 0zm7 0zm-96 1zm5 0zm5 0zm4 0zm2 0zm1 0zm4 0zm2 0zm2 0zm8 0zm6 0zm5 0zm22 0zm23 0zm-89 1zm11 0zm6 0zm4 0zm2 0zm1 0zm7 0zm2 0zm4 0zm1 0zm1 0zm4 0zm6 0zm2 0zm17 0zm5 0zm16 0zm17 0zm-101 1zm3 0zm12 0zm13 0zm7 0zm47 0zm18 0zm1 0zm24 0zm-133 1zm15 0zm2 0zm4 0zm3 0zm3 0zm21 0zm4 0zm18 0zm79 0zm-131 1zm2 0zm3 0zm3 0zm1 0zm1 0zm6 0zm1 0zm11 0zm16 0zm-43 1zm1 0zm5 0zm2 0zm45 0zm27 0zm3 0zm-91 1zm15 0zm2 0zm18 0zm5 0zm-42 1zm19 0zm1 0zm19 0zm9 0zm9 0zm2 0zm-31 1zm2 0zm23 0zm-52 1zm25 0zm10 0zm-14 1zm14 0zm3 0zm13 0zm-30 1zm11 0zm14 0zm16 0zm3 0zm1 0zm-59 1zm1 0zm13 0zm17 0zm20 0zm-57 1zm35 0zm32 0zm-50 1zm3 0zm9 0zm11 0zm88 0zm-119 1zm27 0zm5 0zm-40 1zm10 0zm43 0zm-16 1zm-36 1zm33 0zm-21 1zm29 0zm-36 1zm7 0zm-14 1zm6 0zm5 0zm7 1zm32 0zm48 0zm-83 1zm18 0zm3 0zm-4 1zm13 0zm-32 1zm41 1zm-40 3zm0 2zm-7 1z"/>
<path transform="translate(364.5 177.5) scale(1 -1)" d="M0 0m13 4zm8 0zm19 0zm2 0zm-32 1zm20 0zm17 0zm-33 1zm22 0zm3 0zm-10 1zm-18 1zm35 0zm-11 1zm9 0zm1 0zm35 0zm-42 1zm21 0zm11 0zm24 0zm8 0zm-78 1zm18 0zm7 0zm4 0zm58 0zm-87 1zm60 0zm-56 1zm56 0zm-63 1zm12 0zm19 0zm-5 1zm31 0zm-56 1zm34 0zm3 0zm1 0zm10 0zm-54 1zm5 0zm7 0zm6 0zm8 0zm19 0zm13 0zm-71 1zm8 0zm28 0zm5 0zm12 0zm5 0zm7 0zm10 0zm8 0zm-54 1zm16 0zm8 0zm7 0zm22 0zm-36 1zm3 0zm6 0zm-42 1zm21 0zm11 0zm2 0zm17 0zm-29 1zm3 0zm5 0zm14 0zm1 0zm6 0zm4 0zm4 0zm6 0zm-48 1zm6 0zm6 0zm2 0zm5 0zm3 0zm3 0zm11 0zm1 0zm1 0zm2 0zm7 0zm69 0zm-119 1zm17 0zm2 0zm1 0zm2 0zm4 0zm-33 1zm16 0zm4 0zm4 0zm1 0zm7 0zm2 0zm2 0zm4 0zm9 0zm-37 1zm9 0zm4 0zm1 0zm11 0zm2 0zm1 0zm5 0zm-61 1zm11 0zm19 0zm12 0zm3 0zm3 0zm3 0zm2 0zm3 0zm2 0zm3 0zm1 0zm23 0zm17 0zm12 0zm-92 1zm5 0zm8 0zm1 0zm1 0zm5 0zm5 0zm2 0zm4 0zm5 0zm3 0zm1 0zm-54 1zm7 0zm20 0zm5 0zm7 0zm2 0zm6 0zm3 0zm1 0zm25 0zm-67 1zm7 0zm6 0zm6 0zm1 0zm3 0zm8 0zm5 0zm5 0zm4 0zm6 0zm3 0zm9 0zm-71 1zm26 0zm5 0zm6 0zm1 0zm3 0zm2 0zm1 0zm1 0zm1 0zm1 0zm3 0zm7 0zm2 0zm4 0zm10 0zm-82 1zm30 0zm2 0zm2 0zm3 0zm5 0zm4 0zm1 0zm1 0zm1 0zm4 0zm3 0zm13 0zm-73 1zm21 0zm14 0zm9 0zm3 0zm1 0zm3 0zm1 0zm2 0zm3 0zm1 0zm1 0zm1 0zm4 0zm3 0zm46 0zm-106 1zm16 0zm3 0zm1 0zm4 0zm2 0zm2 0zm1 0zm8 0zm1 0zm2 0zm2 0zm1 0zm2 0zm1 0zm1 0zm6 0zm2 0zm2 0zm9 0zm2 0zm-69 1zm24 0zm9 0zm1 0zm4 0zm1 0zm1 0zm4 0zm1 0zm1 0zm1 0zm1 0zm1 0zm2 0zm1 0zm4 0zm1 0zm1 0zm1 0zm2 0zm16 0zm4 0zm-56 1zm8 0zm2 0zm3 0zm2 0zm2 0zm2 0zm2 0zm4 0zm4 0zm4 0zm4 0zm17 0zm46 0zm-102 1zm2 0zm3 0zm1 0zm1 0zm1 0zm1 0zm3 0zm1 0zm1 0zm2 0zm4 0zm5 0zm1 0zm1 0zm2 0zm2 0zm2 0zm2 0zm6 0zm5 0zm3 0zm13 0zm40 0zm-120 1zm11 0zm2 0zm2 0zm2 0zm8 0zm2 0zm3 0zm4 0zm1 0zm2 0zm1 0zm2 0zm1 0zm1 0zm2 0zm1 0zm1 0zm2 0zm1 0zm1 0zm10 0zm2 0zm4 0zm6 0zm33 0zm-84 1zm6 0zm1 0zm2 0zm5 0zm3 0zm2 0zm2 0zm1 0zm1 0zm1 0zm5 0zm3 0zm1 0zm4 0zm2 0zm1 0zm3 0zm2 0zm11 0zm5 0zm2 0zm3 0zm-99 1zm38 0zm1 0zm3 0zm1 0zm3 0zm1 0zm1 0zm7 0zm1 0zm2 0zm1 0zm1 0zm3 0zm1 0zm5 0zm1 0zm20 0zm-64 1zm5 0zm2 0zm2 0zm5 0zm1 0zm2 0zm2 0zm3 0zm1 0zm1 0zm1 0zm3 0zm1 0zm1 0zm8 0zm2 0zm2 0zm2 0zm1 0zm1 0zm1 0zm1 0zm2 0zm-58 1zm5 0zm1 0zm4 0zm3 0zm1 0zm1 0zm1 0zm2 0zm1 0zm1 0zm3 0zm2 0zm1 0zm2 0zm2 0zm1 0zm4 0zm1 0zm2 0zm1 0zm2 0zm5 0zm5 0zm2 0zm2 0zm5 0zm3 0zm19 0zm-82 1zm9 0zm3 0zm1 0zm8 0zm7 0zm4 0zm1 0zm1 0zm1 0zm3 0zm3 0zm2 0zm2 0zm4 0zm5 0zm-50 1zm3 0zm8 0zm2 0zm1 0zm1 0zm2 0zm1 0zm1 0zm1 0zm2 0zm2 0zm4 0zm2 0zm5 0zm2 0zm1 0zm1 0zm1 0zm5 0zm1 0zm2 0zm4 0zm16 0zm-80 1zm11 0zm12 0zm6 0zm3 0zm1 0zm2 0zm1 0zm1 0zm2 0zm3 0zm1 0zm1 0zm4 0zm1 0zm1 0zm3 0zm2 0zm1 0zm3 0zm1 0zm2 0zm1 0zm7 0zm1 0zm9 0zm-61 1zm6 0zm6 0zm2 0zm5 0zm2 0zm1 0zm1 0zm2 0zm1 0zm1 0zm1 0zm1 0zm1 0zm2 0zm1 0zm3 0zm1 0zm1 0zm2 0zm3 0zm19 0zm3 0zm1 0zm12 0zm-92 1zm7 0zm11 0zm6 0zm3 0zm2 0zm3 0zm1 0zm2 0zm4 0zm3 0zm1 0zm1 0zm3 0zm2 0zm1 0zm3 0zm7 0zm2 0zm22 0zm-69 1zm2 0zm3 0zm1 0zm1 0zm7 0zm1 0zm1 0zm1 0zm2 0zm1 0zm1 0zm1 0zm2 0zm1 0zm2 0zm1 0zm1 0zm3 0zm1 0zm1 0zm1 0zm5 0zm4 0zm2 0zm2 0zm1 0zm26 0zm-93 1zm10 0zm7 0zm5 0zm2 0zm4 0zm2 0zm1 0zm3 0zm2 0zm1 0zm2 0zm1 0zm1 0zm2 0zm1 0zm1 0zm1 0zm2 0zm5 0zm1 0zm2 0zm3 0zm1 0zm1 0zm8 0zm22 0zm24 0zm-109 1zm20 0zm5 0zm2 0zm3 0zm4 0zm1 0zm2 0zm1 0zm2 0zm2 0zm8 0zm9 0zm3 0zm7 0zm9 0zm-75 1zm3 0zm12 0zm2 0zm2 0zm2 0zm1 0zm1 0zm1 0zm3 0zm1 0zm1 0zm2 0zm1 0zm2 0zm1 0zm6 0zm2 0zm1 0zm4 0zm4 0zm6 0zm3 0zm2 0zm-48 1zm4 0zm2 0zm2 0zm1 0zm4 0zm1 0zm1 0zm2 0zm1 0zm5 0zm1 0zm2 0zm6 0zm1 0zm2 0zm1 0zm1 0zm1 0zm2 0zm1 0zm3 0zm5 0zm1 0zm18 0zm-98 1zm16 0zm4 0zm5 0zm2 0zm7 0zm2 0zm2 0zm1 0zm1 0zm2 0zm1 0zm2 0zm2 0zm1 0zm1 0zm1 0zm8 0zm1 0zm1 0zm1 0zm3 0zm1 0zm1 0zm1 0zm6 0zm3 0zm15 0zm8 0zm7 0zm-101 1zm3 0zm1 0zm7 0zm12 0zm2 0zm8 0zm1 0zm5 0zm1 0zm2 0zm3 0zm6 0zm2 0zm3 0zm2 0zm1 0zm1 0zm2 0zm2 0zm4 0zm1 0zm4 0zm2 0zm4 0zm8 0zm-78 1zm13 0zm1 0zm2 0zm4 0zm2 0zm2 0zm2 0zm2 0zm3 0zm2 0zm3 0zm1 0zm2 0zm1 0zm1 0zm2 0zm1 0zm2 0zm3 0zm1 0zm2 0zm1 0zm5 0zm2 0zm1 0zm1 0zm2 0zm4 0zm11 0zm-98 1zm28 0zm4 0zm1 0zm2 0zm1 0zm4 0zm3 0zm1 0zm2 0zm1 0zm1 0zm3 0zm2 0zm1 0zm1 0zm1 0zm1 0zm3 0zm1 0zm2 0zm2 0zm4 0zm1 0zm3 0zm1 0zm3 0zm2 0zm5 0zm4 0zm3 0zm18 0zm-102 1zm19 0zm3 0zm1 0zm5 0zm1 0zm1 0zm1 0zm1 0zm2 0zm1 0zm1 0zm1 0zm3 0zm4 0zm1 0zm2 0zm1 0zm1 0zm2 0zm1 0zm1 0zm2 0zm6 0zm1 0zm5 0zm1 0zm2 0zm2 0zm1 0zm2 0zm3 0zm1 0zm1 0zm5 0zm2 0zm2 0zm53 0zm-150 1zm23 0zm3 0zm4 0zm3 0zm1 0zm4 0zm2 0zm1 0zm2 0zm5 0zm2 0zm3 0zm1 0zm1 0zm3 0zm2 0zm3 0zm3 0zm1 0zm1 0zm1 0zm1 0zm1 0zm1 0zm1 0zm1 0zm1 0zm2 0zm2 0zm3 0zm5 0zm9 0zm24 0zm2 0zm-108 1zm13 0zm1 0zm5 0zm8 0zm2 0zm6 0zm1 0zm4 0zm1 0zm1 0zm3 0zm1 0zm1 0zm1 0zm3 0zm1 0zm1 0zm4 0zm1 0zm1 0zm2 0zm2 0zm1 0zm2 0zm2 0zm5 0zm1 0zm2 0zm4 0zm9 0zm2 0zm-90 1zm20 0zm2 0zm1 0zm1 0zm5 0zm3 0zm1 0zm4 0zm3 0zm1 0zm1 0zm1 0zm2 0zm4 0zm2 0zm1 0zm2 0zm2 0zm1 0zm1 0zm3 0zm1 0zm2 0zm2 0zm14 0zm2 0zm2 0zm5 0zm16 0zm12 0zm-106 1zm4 0zm13 0zm1 0zm3 0zm1 0zm1 0zm2 0zm1 0zm1 0zm2 0zm2 0zm1 0zm2 0zm2 0zm5 0zm1 0zm1 0zm2 0zm5 0zm1 0zm2 0zm4 0zm1 0zm1 0zm6 0zm3 0zm40 0zm5 0zm-106 1zm1 0zm8 0zm2 0zm2 0zm3 0zm2 0zm2 0zm1 0zm3 0zm2 0zm1 0zm1 0zm3 0zm1 0zm1 0zm1 0zm1 0zm1 0zm1 0zm1 0zm2 0zm1 0zm1 0zm1 0zm1 0zm2 0zm2 0zm1 0zm2 0zm1 0zm2 0zm3 0zm1 0zm2 0zm14 0zm1 0zm-91 1zm17 0zm7 0zm8 0zm1 0zm1 0zm3 0zm1 0zm2 0zm1 0zm1 0zm2 0zm1 0zm1 0zm3 0zm2 0zm1 0zm2 0zm2 0zm2 0zm1 0zm1 0zm1 0zm1 0zm1 0zm1 0zm2 0zm2 0zm1 0zm3 0zm1 0zm10 0zm1 0zm2 0zm2 0zm9 0zm-94 1zm2 0zm11 0zm4 0zm5 0zm1 0zm1 0zm1 0zm2 0zm2 0zm4 0zm2 0zm1 0zm2 0zm3 0zm1 0zm1 0zm1 0zm2 0zm2 0zm2 0zm1 0zm1 0zm5 0zm5 0zm3 0zm4 0zm2 0zm1 0zm2 0zm7 0zm2 0zm2 0zm2 0zm3 0zm24 0zm-115 1zm19 0zm7 0zm1 0zm3 0zm2 0zm1 0zm1 0zm1 0zm2 0zm2 0zm3 0zm1 0zm1 0zm1 0zm1 0zm1 0zm1 0zm2 0zm1 0zm1 0zm1 0zm2 0zm1 0zm1 0zm2 0zm2 0zm5 0zm1 0zm1 0zm6 0zm2 0zm3 0zm25 0zm-88 1zm2 0zm1 0zm5 0zm3 0zm1 0zm2 0zm2 0zm3 0zm1 0zm7 0zm1 0zm1 0zm1 0zm1 0zm1 0zm2 0zm1 0zm1 0zm2 0zm2 0zm1 0zm1 0zm1 0zm1 0zm2 0zm1 0zm1 0zm2 0zm2 0zm3 0zm4 0zm7 0zm1 0zm9 0zm4 0zm-100 1zm18 0zm1 0zm5 0zm4 0zm2 0zm1 0zm2 0zm1 0zm1 0zm1 0zm1 0zm3 0zm2 0zm1 0zm1 0zm1 0zm1 0zm1 0zm1 0zm1 0zm1 0zm1 0zm1 0zm2 0zm1 0zm1 0zm1 0zm1 0zm1 0zm1 0zm1 0zm3 0zm1 0zm1 0zm2 0zm1 0zm1 0zm4 0zm4 0zm1 0zm4 0zm2 0zm3 0zm4 0zm1 0zm6 0zm-88 1zm6 0zm2 0zm6 0zm1 0zm6 0zm1 0zm1 0zm1 0zm1 0zm2 0zm1 0zm2 0zm2 0zm2 0zm1 0zm2 0zm1 0zm2 0zm2 0zm3 0zm1 0zm1 0zm1 0zm1 0zm1 0zm1 0zm1 0zm3 0zm1 0zm1 0zm1 0zm1 0zm3 0zm1 0zm2 0zm8 0zm1 0zm9 0zm-100 1zm5 0zm12 0zm9 0zm1 0zm2 0zm1 0zm4 0zm1 0zm2 0zm1 0zm2 0zm1 0zm1 0zm1 0zm1 0zm1 0zm3 0zm2 0zm1 0zm2 0zm1 0zm1 0zm1 0zm1 0zm1 0zm1 0zm2 0zm1 0zm1 0zm3 0zm1 0zm1 0zm1 0zm1 0zm2 0zm1 0zm1 0zm1 0zm1 0zm3 0zm9 0zm-80 1zm9 0zm3 0zm1 0zm18 0zm3 0zm5 0zm1 0zm1 0zm1 0zm1 0zm1 0zm1 0zm1 0zm1 0zm2 0zm1 0zm1 0zm2 0zm1 0zm1 0zm1 0zm1 0zm2 0zm1 0zm2 0zm3 0zm1 0zm1 0zm1 0zm2 0zm1 0zm2 0zm1 0zm2 0zm6 0zm8 0zm-78 1zm8 0zm8 0zm8 0zm1 0zm3 0zm1 0zm1 0zm1 0zm1 0zm2 0zm1 0zm1 0zm1 0zm1 0zm1 0zm1 0zm1 0zm2 0zm1 0zm1 0zm1 0zm1 0zm3 0zm1 0zm1 0zm1 0zm1 0zm4 0zm3 0zm2 0zm3 0zm1 0zm1 0zm1 0zm5 0zm5 0zm-86 1zm1 0zm2 0zm10 0zm2 0zm2 0zm1 0zm2 0zm1 0zm1 0zm1 0zm4 0zm3 0zm2 0zm1 0zm1 0zm2 0zm1 0zm2 0zm1 0zm1 0zm1 0zm2 0zm1 0zm1 0zm1 0zm1 0zm1 0zm1 0zm1 0zm2 0zm1 0zm1 0zm1 0zm1 0zm1 0zm1 0zm2 0zm5 0zm2 0zm2 0zm2 0zm1 0zm1 0zm1 0zm6 0zm3 0zm1 0zm1 0zm3 0zm2 0zm8 0zm-121 1zm18 0zm10 0zm7 0zm2 0zm4 0zm6 0zm2 0zm1 0zm4 0zm2 0zm1 0zm1 0zm2 0zm1 0zm1 0zm1 0zm1 0zm1 0zm1 0zm1 0zm1 0zm1 0zm1 0zm1 0zm1 0zm1 0zm1 0zm1 0zm1 0zm1 0zm1 0zm1 0zm2 0zm1 0zm4 0zm1 0zm1 0zm1 0zm4 0zm4 0zm3 0zm1 0zm1 0zm12 0zm9 0zm-94 1zm5 0zm2 0zm1 0zm5 0zm2 0zm1 0zm2 0zm3 0zm1 0zm2 0zm1 0zm1 0zm1 0zm1 0zm1 0zm1 0zm1 0zm1 0zm2 0zm1 0zm1 0zm1 0zm2 0zm1 0zm1 0zm1 0zm1 0zm1 0zm1 0zm1 0zm1 0zm1 0zm1 0zm1 0zm1 0zm2 0zm3 0zm2 0zm1 0zm1 0zm1 0zm2 0zm2 0zm1 0zm1 0zm3 0zm2 0zm10 0zm3 0zm12 0zm-106 1zm6 0zm5 0zm1 0zm8 0zm2 0zm1 0zm1 0zm1 0zm1 0zm1 0zm3 0zm2 0zm1 0zm2 0zm1 0zm2 0zm1 0zm1 0zm1 0zm1 0zm1 0zm1 0zm1 0zm1 0zm1 0zm1 0zm1 0zm1 0zm1 0zm1 0zm1 0zm1 0zm1 0zm1 0zm1 0zm1 0zm1 0zm1 0zm1 0zm2 0zm1 0zm1 0zm2 0zm1 0zm1 0zm3 0zm2 0zm2 0zm3 0zm3 0zm5 0zm33 0zm-113 1zm2 0zm10 0zm4 0zm3 0zm3 0zm1 0zm1 0zm2 0zm1 0zm1 0zm1 0zm1 0zm1 0zm1 0zm1 0zm2 0zm1 0zm1 0zm1 0zm1 0zm1 0zm1 0zm1 0zm1 0zm1 0zm2 0zm1 0zm1 0zm1 0zm1 0zm1 0zm1 0zm1 0zm1 0zm1 0zm1 0zm1 0zm1 0zm1 0zm1 0zm1 0zm1 0zm1 0zm5 0zm2 0zm1 0zm3 0zm7 0zm-98 1zm7 0zm10 0zm1 0zm1 0zm8 0zm6 0zm1 0zm3 0zm3 0zm3 0zm2 0zm1 0zm1 0zm1 0zm1 0zm1 0zm2 0zm1 0zm2 0zm1 0zm2 0zm1 0zm1 0zm1 0zm1 0zm1 0zm1 0zm1 0zm1 0zm1 0zm1 0zm1 0zm2 0zm1 0zm2 0zm2 0zm1 0zm1 0zm4 0zm1 0zm1 0zm1 0zm1 0zm1 0zm3 0zm1 0zm1 0zm1 0zm1 0zm2 0zm8 0zm-109 1zm1 0zm20 0zm1 0zm1 0zm6 0zm1 0zm1 0zm5 0zm5 0zm1 0zm3 0zm2 0zm1 0zm1 0zm1 0zm1 0zm1 0zm1 0zm1 0zm1 0zm1 0zm1 0zm1 0zm1 0zm1 0zm1 0zm2 0zm1 0zm1 0zm1 0zm1 0zm1 0zm1 0zm1 0zm1 0zm1 0zm1 0zm1 0zm1 0zm2 0zm1 0zm1 0zm1 0zm1 0zm1 0zm1 0zm1 0zm2 0zm1 0zm1 0zm3 0zm1 0zm1 0zm4 0zm3 0zm6 0zm3 0zm-92 1zm2 0zm1 0zm9 0zm6 0zm1 0zm1 0zm2 0zm4 0zm1 0zm1 0zm3 0zm2 0zm3 0zm1 0zm1 0zm1 0zm1 0zm1 0zm1 0zm1 0zm1 0zm1 0zm1 0zm1 0zm1 0zm1 0zm1 0zm1 0zm1 0zm1 0zm1 0zm1 0zm1 0zm1 0zm1 0zm1 0zm1 0zm2 0zm2 0zm1 0zm1 0zm1 0zm1 0zm1 0zm2 0zm2 0zm3 0zm1 0zm3 0zm1 0zm4 0zm2 0zm-84 1zm5 0zm1 0zm6 0zm1 0zm7 0zm1 0zm1 0zm2 0zm1 0zm1 0zm1 0zm1 0zm3 0zm1 0zm1 0zm1 0zm2 0zm1 0zm1 0zm1 0zm1 0zm1 0zm1 0zm1 0zm1 0zm1 0zm1 0zm1 0zm1 0zm1 0zm1 0zm1 0zm1 0zm1 0zm1 0zm1 0zm1 0zm1 0zm2 0zm1 0zm1 0zm1 0zm1 0zm1 0zm1 0zm2 0zm1 0zm1 0zm3 0zm4 0zm4 0zm3 0zm2 0zm20 0zm-96 1zm6 0zm5 0zm1 0zm1 0zm2 0zm1 0zm1 0zm1 0zm1 0zm1 0zm1 0zm2 0zm1 0zm1 0zm1 0zm1 0zm1 0zm1 0zm1 0zm1 0zm1 0zm2 0zm1 0zm1 0zm1 0zm1 0zm1 0zm1 0zm1 0zm1 0zm1 0zm1 0zm1 0zm1 0zm1 0zm1 0zm1 0zm1 0zm1 0zm1 0zm1 0zm3 0zm2 0zm2 0zm1 0zm1 0zm2 0zm1 0zm1 0zm1 0zm9 0zm1 0zm2 0zm9 0zm-108 1zm21 0zm2 0zm1 0zm3 0zm3 0zm2 0zm1 0zm8 0zm1 0zm1 0zm1 0zm1 0zm1 0zm1 0zm1 0zm1 0zm1 0zm1 0zm1 0zm1 0zm1 0zm1 0zm1 0zm1 0zm1 0zm1 0zm1 0zm1 0zm1 0zm1 0zm1 0zm1 0zm1 0zm1 0zm1 0zm1 0zm1 0zm1 0zm1 0zm1 0zm1 0zm1 0zm2 0zm1 0zm3 0zm3 0zm1 0zm5 0zm10 0zm8 0zm-106 1zm6 0zm12 0zm3 0zm1 0zm4 0zm4 0zm2 0zm5 0zm1 0zm1 0zm1 0zm1 0zm1 0zm1 0zm1 0zm1 0zm1 0zm1 0zm1 0zm1 0zm1 0zm1 0zm1 0zm1 0zm1 0zm1 0zm1 0zm1 0zm1 0zm1 0zm1 0zm1 0zm1 0zm1 0zm1 0zm1 0zm1 0zm1 0zm3 0zm1 0zm1 0zm1 0zm1 0zm1 0zm3 0zm1 0zm1 0zm2 0zm1 0zm2 0zm4 0zm1 0zm-67 1zm1 0zm1 0zm4 0zm1 0zm2 0zm1 0zm1 0zm1 0zm1 0zm1 0zm1 0zm1 0zm1 0zm1 0zm1 0zm2 0zm1 0zm1 0zm1 0zm1 0zm1 0zm1 0zm1 0zm1 0zm1 0zm1 0zm1 0zm1 0zm1 0zm1 0zm1 0zm1 0zm1 0zm1 0zm1 0zm1 0zm1 0zm1 0zm1 0zm1 0zm1 0zm1 0zm2 0zm1 0zm1 0zm1 0zm2 0zm1 0zm2 0zm1 0zm2 0zm1 0zm1 0zm8 0zm2 0zm2 0zm1 0zm19 0zm-103 1zm2 0zm3 0zm3 0zm1 0zm3 0zm4 0zm1 0zm2 0zm1 0zm2 0zm1 0zm1 0zm2 0zm2 0zm1 0zm1 0zm1 0zm1 0zm1 0zm1 0zm1 0zm1 0zm1 0zm1 0zm1 0zm1 0zm1 0zm1 0zm1 0zm1 0zm2 0zm1 0zm1 0zm1 0zm1 0zm1 0zm1 0zm1 0zm1 0zm2 0zm1 0zm1 0zm2 0zm1 0zm2 0zm1 0zm1 0zm1 0zm1 0zm1 0zm1 0zm1 0zm1 0zm1 0zm4 0zm7 0zm-83 1zm1 0zm3 0zm3 0zm5 0zm2 0zm2 0zm2 0zm2 0zm1 0zm2 0zm1 0zm1 0zm1 0zm1 0zm1 0zm1 0zm1 0zm1 0zm1 0zm1 0zm1 0zm1 0zm1 0zm1 0zm1 0zm1 0zm1 0zm1 0zm1 0zm1 0zm1 0zm1 0zm1 0zm1 0zm1 0zm1 0zm1 0zm1 0zm2 0zm1 0zm1 0zm1 0zm1 0zm1 0zm1 0zm1 0zm1 0zm1 0zm1 0zm1 0zm2 0zm1 0zm1 0zm3 0zm4 0zm-100 1zm17 0zm5 0zm1 0zm6 0zm4 0zm1 0zm1 0zm6 0zm1 0zm1 0zm2 0zm2 0zm1 0zm2 0zm1 0zm1 0zm1 0zm1 0zm1 0zm1 0zm1 0zm1 0zm1 0zm1 0zm1 0zm1 0zm1 0zm1 0zm1 0zm1 0zm1 0zm1 0zm1 0zm1 0zm1 0zm1 0zm1 0zm1 0zm1 0zm1 0zm1 0zm1 0zm1 0zm1 0zm1 0zm1 0zm1 0zm2 0zm1 0zm1 0zm1 0zm1 0zm2 0zm2 0zm3 0zm1 0zm5 0zm12 0zm-100 1zm1 0zm7 0zm11 0zm2 0zm5 0zm1 0zm1 0zm1 0zm1 0zm1 0zm1 0zm2 0zm1 0zm1 0zm2 0zm1 0zm1 0zm1 0zm1 0zm1 0zm1 0zm1 0zm1 0zm1 0zm1 0zm1 0zm1 0zm1 0zm1 0zm1 0zm1 0zm1 0zm1 0zm1 0zm1 0zm1 0zm1 0zm1 0zm1 0zm1 0zm1 0zm1 0zm1 0zm1 0zm1 0zm1 0zm1 0zm1 0zm1 0zm1 0zm1 0zm1 0zm2 0zm2 0zm3 0zm17 0zm-91 1zm2 0zm7 0zm7 0zm1 0zm4 0zm1 0zm1 0zm1 0zm1 0zm1 0zm1 0zm1 0zm1 0zm1 0zm1 0zm1 0zm1 0zm1 0zm1 0zm1 0zm1 0zm1 0zm1 0zm1 0zm1 0zm1 0zm1 0zm1 0zm1 0zm1 0zm2 0zm1 0zm1 0zm1 0zm1 0zm1 0zm1 0zm1 0zm1 0zm1 0zm1 0zm1 0zm1 0zm1 0zm1 0zm1 0zm1 0zm1 0zm1 0zm1 0zm1 0zm1 0zm1 0zm1 0zm3 0zm2 0zm22 0zm6 0zm-130 1zm4 0zm32 0zm6 0zm1 0zm3 0zm1 0zm1 0zm1 0zm1 0zm4 0zm1 0zm1 0zm1 0zm1 0zm1 0zm1 0zm1 0zm1 0zm1 0zm1 0zm1 0zm1 0zm1 0zm1 0zm1 0zm1 0zm1 0zm1 0zm1 0zm1 0zm1 0zm1 0zm1 0zm1 0zm1 0zm1 0zm1 0zm1 0zm1 0zm1 0zm1 0zm1 0zm1 0zm1 0zm3 0zm1 0zm3 0zm1 0zm1 0zm1 0zm1 0zm1 0zm1 0zm3 0zm2 0zm-95 1zm10 0zm4 0zm14 0zm1 0zm1 0zm4 0zm1 0zm3 0zm1 0zm1 0zm1 0zm1 0zm1 0zm1 0zm1 0zm1 0zm1 0zm1 0zm1 0zm1 0zm1 0zm1 0zm1 0zm2 0zm1 0zm1 0zm1 0zm2 0zm1 0zm1 0zm1 0zm1 0zm1 0zm2 0zm1 0zm1 0zm1 0zm1 0zm1 0zm1 0zm1 0zm1 0zm1 0zm1 0zm1 0zm1 0zm1 0zm1 0zm1 0zm1 0zm1 0zm1 0zm2 0zm4 0zm1 0zm-99 1zm29 0zm1 0zm5 0zm1 0zm2 0zm3 0zm2 0zm1 0zm2 0zm2 0zm1 0zm1 0zm1 0zm1 0zm1 0zm2 0zm1 0zm1 0zm1 0zm1 0zm1 0zm1 0zm1 0zm1 0zm1 0zm1 0zm1 0zm1 0zm1 0zm1 0zm1 0zm1 0zm1 0zm1 0zm1 0zm1 0zm1 0zm1 0zm1 0zm1 0zm1 0zm1 0zm1 0zm1 0zm1 0zm1 0zm2 0zm2 0zm2 0zm2 0zm1 0zm1 0zm3 0zm3 0zm2 0zm33 0zm-103 1zm3 0zm3 0zm6 0zm1 0zm3 0zm1 0zm1 0zm1 0zm1 0zm2 0zm1 0zm1 0zm1 0zm1 0zm1 0zm1 0zm1 0zm1 0zm1 0zm1 0zm1 0zm1 0zm1 0zm1 0zm1 0zm1 0zm1 0zm1 0zm1 0zm1 0zm1 0zm1 0zm1 0zm1 0zm1 0zm3 0zm2 0zm1 0zm1 0zm1 0zm1 0zm3 0zm1 0zm7 0zm31 0zm-119 1zm11 0zm6 0zm4 0zm7 0zm2 0zm1 0zm2 0zm1 0zm2 0zm2 0zm1 0zm3 0zm1 0zm1 0zm1 0zm1 0zm1 0zm1 0zm1 0zm1 0zm1 0zm1 0zm1 0zm1 0zm1 0zm1 0zm1 0zm1 0zm1 0zm1 0zm1 0zm1 0zm1 0zm1 0zm1 0zm1 0zm1 0zm1 0zm1 0zm1 0zm1 0zm1 0zm2 0zm2 0zm1 0zm1 0zm1 0zm3 0zm2 0zm4 0zm7 0zm16 0zm11 0zm-136 1zm17 0zm1 0zm19 0zm2 0zm3 0zm2 0zm2 0zm1 0zm2 0zm2 0zm1 0zm1 0zm2 0zm1 0zm1 0zm1 0zm1 0zm1 0zm1 0zm1 0zm1 0zm1 0zm1 0zm1 0zm1 0zm1 0zm1 0zm1 0zm1 0zm1 0zm1 0zm1 0zm1 0zm1 0zm1 0zm1 0zm1 0zm1 0zm1 0zm1 0zm1 0zm1 0zm1 0zm1 0zm1 0zm1 0zm4 0zm1 0zm1 0zm1 0zm2 0zm2 0zm-92 1zm7 0zm7 0zm1 0zm16 0zm3 0zm1 0zm1 0zm1 0zm1 0zm1 0zm1 0zm1 0zm2 0zm1 0zm1 0zm1 0zm1 0zm1 0zm1 0zm1 0zm1 0zm1 0zm1 0zm1 0zm1 0zm1 0zm1 0zm1 0zm1 0zm1 0zm1 0zm1 0zm1 0zm1 0zm1 0zm1 0zm1 0zm1 0zm1 0zm1 0zm1 0zm1 0zm1 0zm1 0zm1 0zm1 0zm1 0zm1 0zm1 0zm2 0zm1 0zm1 0zm1 0zm1 0zm1 0zm1 0zm3 0zm5 0zm4 0zm-104 1zm21 0zm3 0zm1 0zm7 0zm7 0zm1 0zm3 0zm2 0zm1 0zm1 0zm1 0zm1 0zm1 0zm1 0zm1 0zm2 0zm1 0zm1 0zm1 0zm1 0zm1 0zm1 0zm1 0zm1 0zm1 0zm1 0zm1 0zm1 0zm1 0zm1 0zm1 0zm1 0zm1 0zm2 0zm1 0zm1 0zm1 0zm1 0zm1 0zm1 0zm1 0zm1 0zm1 0zm1 0zm1 0zm1 0zm1 0zm2 0zm2 0zm6 0zm3 0zm1 0zm1 0zm14 0zm-86 1zm8 0zm1 0zm3 0zm1 0zm1 0zm3 0zm2 0zm1 0zm1 0zm1 0zm1 0zm1 0zm1 0zm2 0zm1 0zm1 0zm1 0zm1 0zm1 0zm1 0zm1 0zm1 0zm1 0zm1 0zm1 0zm1 0zm1 0zm1 0zm1 0zm1 0zm1 0zm1 0zm1 0zm1 0zm1 0zm1 0zm1 0zm1 0zm1 0zm1 0zm1 0zm1 0zm2 0zm1 0zm1 0zm1 0zm1 0zm1 0zm2 0zm5 0zm2 0zm3 0zm10 0zm-81 1zm5 0zm1 0zm5 0zm2 0zm1 0zm1 0zm2 0zm2 0zm1 0zm1 0zm1 0zm2 0zm1 0zm1 0zm1 0zm1 0zm2 0zm1 0zm1 0zm1 0zm1 0zm1 0zm1 0zm1 0zm1 0zm1 0zm1 0zm1 0zm1 0zm1 0zm1 0zm1 0zm2 0zm1 0zm1 0zm1 0zm1 0zm1 0zm1 0zm1 0zm2 0zm1 0zm1 0zm1 0zm2 0zm1 0zm1 0zm4 0zm-70 1zm8 0zm2 0zm1 0zm1 0zm3 0zm1 0zm1 0zm2 0zm1 0zm2 0zm1 0zm3 0zm1 0zm1 0zm1 0zm1 0zm1 0zm1 0zm1 0zm1 0zm1 0zm1 0zm1 0zm1 0zm1 0zm1 0zm1 0zm1 0zm1 0zm1 0zm1 0zm1 0zm1 0zm1 0zm1 0zm1 0zm1 0zm1 0zm1 0zm2 0zm1 0zm1 0zm1 0zm1 0zm1 0zm1 0zm1 0zm2 0zm1 0zm1 0zm2 0zm1 0zm2 0zm2 0zm1 0zm-72 1zm11 0zm4 0zm2 0zm1 0zm3 0zm1 0zm1 0zm1 0zm1 0zm1 0zm2 0zm1 0zm1 0zm1 0zm2 0zm1 0zm1 0zm1 0zm1 0zm1 0zm1 0zm1 0zm1 0zm1 0zm1 0zm1 0zm2 0zm1 0zm1 0zm1 0zm1 0zm1 0zm1 0zm1 0zm1 0zm1 0zm2 0zm2 0zm1 0zm3 0zm2 0zm1 0zm5 0zm3 0zm2 0zm9 0zm1 0zm-86 1zm2 0zm4 0zm2 0zm1 0zm3 0zm1 0zm1 0zm1 0zm6 0zm1 0zm2 0zm1 0zm2 0zm1 0zm1 0zm1 0zm1 0zm1 0zm2 0zm1 0zm1 0zm1 0zm1 0zm1 0zm1 0zm1 0zm1 0zm1 0zm1 0zm1 0zm1 0zm1 0zm1 0zm1 0zm1 0zm1 0zm1 0zm2 0zm1 0zm2 0zm1 0zm3 0zm1 0zm1 0zm4 0zm11 0zm1 0zm-113 1zm14 0zm17 0zm2 0zm1 0zm9 0zm2 0zm1 0zm2 0zm3 0zm2 0zm2 0zm4 0zm3 0zm1 0zm1 0zm1 0zm1 0zm1 0zm1 0zm1 0zm1 0zm1 0zm2 0zm1 0zm1 0zm1 0zm1 0zm1 0zm1 0zm1 0zm1 0zm1 0zm1 0zm1 0zm1 0zm3 0zm1 0zm1 0zm1 0zm2 0zm4 0zm3 0zm11 0zm3 0zm3 0zm-87 1zm14 0zm1 0zm2 0zm1 0zm2 0zm1 0zm1 0zm2 0zm1 0zm1 0zm1 0zm2 0zm1 0zm1 0zm2 0zm1 0zm1 0zm1 0zm1 0zm1 0zm2 0zm1 0zm1 0zm1 0zm1 0zm1 0zm1 0zm1 0zm1 0zm1 0zm1 0zm1 0zm1 0zm1 0zm1 0zm1 0zm1 0zm1 0zm1 0zm1 0zm2 0zm2 0zm1 0zm2 0zm1 0zm2 0zm1 0zm2 0zm3 0zm9 0zm-83 1zm4 0zm1 0zm6 0zm2 0zm2 0zm3 0zm2 0zm1 0zm1 0zm1 0zm1 0zm2 0zm1 0zm1 0zm1 0zm1 0zm2 0zm1 0zm1 0zm1 0zm1 0zm1 0zm1 0zm1 0zm2 0zm1 0zm1 0zm1 0zm1 0zm1 0zm1 0zm1 0zm1 0zm1 0zm1 0zm1 0zm1 0zm1 0zm1 0zm1 0zm1 0zm1 0zm1 0zm1 0zm1 0zm2 0zm1 0zm3 0zm1 0zm1 0zm4 0zm-59 1zm2 0zm1 0zm4 0zm1 0zm1 0zm2 0zm1 0zm1 0zm1 0zm1 0zm1 0zm1 0zm1 0zm1 0zm1 0zm1 0zm1 0zm1 0zm1 0zm1 0zm1 0zm1 0zm1 0zm2 0zm1 0zm2 0zm1 0zm1 0zm1 0zm1 0zm1 0zm1 0zm2 0zm1 0zm1 0zm1 0zm1 0zm1 0zm2 0zm4 0zm1 0zm1 0zm1 0zm4 0zm1 0zm-66 1zm6 0zm5 0zm1 0zm1 0zm1 0zm1 0zm1 0zm3 0zm2 0zm1 0zm1 0zm1 0zm1 0zm1 0zm1 0zm1 0zm1 0zm1 0zm2 0zm1 0zm1 0zm1 0zm1 0zm1 0zm2 0zm1 0zm1 0zm2 0zm2 0zm1 0zm3 0zm2 0zm1 0zm2 0zm2 0zm1 0zm2 0zm1 0zm1 0zm2 0zm15 0zm-86 1zm16 0zm1 0zm3 0zm4 0zm2 0zm2 0zm1 0zm2 0zm1 0zm1 0zm1 0zm1 0zm1 0zm1 0zm1 0zm1 0zm1 0zm2 0zm2 0zm1 0zm1 0zm1 0zm1 0zm1 0zm1 0zm1 0zm1 0zm1 0zm1 0zm1 0zm1 0zm1 0zm1 0zm2 0zm1 0zm1 0zm1 0zm2 0zm1 0zm2 0zm3 0zm1 0zm20 0zm-107 1zm22 0zm1 0zm7 0zm3 0zm6 0zm1 0zm2 0zm1 0zm1 0zm2 0zm1 0zm1 0zm1 0zm1 0zm2 0zm1 0zm1 0zm1 0zm2 0zm1 0zm1 0zm1 0zm1 0zm1 0zm1 0zm1 0zm2 0zm2 0zm4 0zm1 0zm3 0zm2 0zm3 0zm2 0zm1 0zm1 0zm1 0zm20 0zm14 0zm-108 1zm10 0zm8 0zm1 0zm1 0zm4 0zm2 0zm2 0zm2 0zm1 0zm2 0zm1 0zm1 0zm1 0zm2 0zm1 0zm2 0zm2 0zm2 0zm1 0zm2 0zm1 0zm1 0zm1 0zm1 0zm1 0zm3 0zm1 0zm1 0zm4 0zm3 0zm2 0zm1 0zm1 0zm2 0zm1 0zm2 0zm5 0zm4 0zm-66 1zm4 0zm5 0zm1 0zm2 0zm1 0zm1 0zm2 0zm3 0zm4 0zm1 0zm1 0zm2 0zm2 0zm1 0zm1 0zm1 0zm2 0zm1 0zm2 0zm1 0zm2 0zm1 0zm5 0zm2 0zm3 0zm3 0zm3 0zm-86 1zm21 0zm7 0zm1 0zm4 0zm3 0zm2 0zm1 0zm2 0zm3 0zm1 0zm1 0zm1 0zm2 0zm2 0zm4 0zm5 0zm1 0zm1 0zm1 0zm2 0zm1 0zm1 0zm1 0zm1 0zm1 0zm2 0zm2 0zm1 0zm2 0zm1 0zm3 0zm2 0zm4 0zm3 0zm11 0zm-91 1zm19 0zm3 0zm5 0zm3 0zm3 0zm1 0zm1 0zm1 0zm1 0zm1 0zm1 0zm2 0zm1 0zm1 0zm1 0zm1 0zm1 0zm1 0zm1 0zm1 0zm1 0zm1 0zm1 0zm1 0zm1 0zm2 0zm2 0zm1 0zm2 0zm3 0zm1 0zm1 0zm3 0zm10 0zm9 0zm35 0zm-139 1zm23 0zm15 0zm3 0zm1 0zm4 0zm1 0zm1 0zm2 0zm1 0zm1 0zm1 0zm4 0zm1 0zm1 0zm1 0zm1 0zm2 0zm2 0zm1 0zm2 0zm1 0zm1 0zm1 0zm1 0zm1 0zm1 0zm1 0zm1 0zm1 0zm6 0zm1 0zm1 0zm1 0zm2 0zm4 0zm21 0zm-91 1zm8 0zm5 0zm2 0zm6 0zm1 0zm2 0zm5 0zm2 0zm1 0zm1 0zm1 0zm4 0zm1 0zm1 0zm2 0zm4 0zm1 0zm1 0zm1 0zm2 0zm2 0zm1 0zm1 0zm1 0zm2 0zm2 0zm6 0zm1 0zm5 0zm-67 1zm3 0zm2 0zm5 0zm1 0zm3 0zm3 0zm1 0zm3 0zm3 0zm1 0zm1 0zm2 0zm2 0zm2 0zm1 0zm2 0zm1 0zm3 0zm1 0zm1 0zm1 0zm1 0zm1 0zm4 0zm3 0zm1 0zm1 0zm13 0zm1 0zm1 0zm8 0zm-92 1zm17 0zm5 0zm10 0zm8 0zm1 0zm1 0zm1 0zm1 0zm1 0zm4 0zm1 0zm1 0zm1 0zm3 0zm3 0zm1 0zm2 0zm1 0zm1 0zm2 0zm1 0zm1 0zm1 0zm4 0zm2 0zm13 0zm9 0zm-69 1zm3 0zm5 0zm2 0zm2 0zm1 0zm4 0zm2 0zm1 0zm4 0zm1 0zm1 0zm2 0zm2 0zm1 0zm1 0zm1 0zm1 0zm1 0zm1 0zm1 0zm2 0zm22 0zm-107 1zm51 0zm2 0zm1 0zm6 0zm3 0zm2 0zm6 0zm1 0zm6 0zm1 0zm2 0zm2 0zm2 0zm3 0zm1 0zm9 0zm-84 1zm28 0zm12 0zm3 0zm2 0zm2 0zm2 0zm1 0zm2 0zm1 0zm1 0zm1 0zm3 0zm1 0zm2 0zm1 0zm2 0zm1 0zm2 0zm3 0zm1 0zm1 0zm5 0zm3 0zm-58 1zm4 0zm3 0zm3 0zm5 0zm3 0zm2 0zm2 0zm1 0zm3 0zm5 0zm3 0zm1 0zm1 0zm4 0zm5 0zm1 0zm1 0zm2 0zm11 0zm4 0zm4 0zm-65 1zm5 0zm5 0zm12 0zm1 0zm1 0zm6 0zm5 0zm1 0zm7 0zm1 0zm1 0zm14 0zm-53 1zm1 0zm1 0zm13 0zm13 0zm3 0zm1 0zm3 0zm2 0zm2 0zm3 0zm3 0zm3 0zm3 0zm16 0zm-70 1zm2 0zm6 0zm3 0zm5 0zm2 0zm3 0zm1 0zm3 0zm8 0zm3 0zm3 0zm1 0zm2 0zm1 0zm7 0zm1 0zm1 0zm1 0zm-63 1zm16 0zm18 0zm7 0zm11 0zm7 0zm1 0zm2 0zm7 0zm-64 1zm18 0zm5 0zm3 0zm9 0zm5 0zm4 0zm4 0zm3 0zm10 0zm-75 1zm15 0zm19 0zm2 0zm7 0zm1 0zm7 0zm12 0zm-39 1zm2 0zm1 0zm9 0zm3 0zm1 0zm4 0zm8 0zm6 0zm6 0zm1 0zm9 0zm-52 1zm7 0zm12 0zm8 0zm4 0zm18 0zm10 0zm-50 1zm5 0zm19 0zm12 0zm6 0zm2 0zm-48 1zm14 0zm21 0zm-33 1zm5 0zm10 0zm4 0zm13 0zm3 0zm-65 1zm42 0zm30 0zm-54 1zm19 0zm9 0zm9 0zm2 0zm-15 1zm7 0zm3 0zm3 0zm-47 1zm57 0zm24 0zm-23 1zm18 0zm-55 1zm22 0zm0 1zm8 0zm-30 1zm28 1zm14 0zm-6 2zm-81 1zm32 0zm49 1zm-92 4zm51 0zm6 0zm15 0zm59 2zm-61 1z"/>
<path transform="translate(41.5 334.5) scale(1 -1)" d="M0 0m12 1zm-7 1zm1 0zm3 0zm2 0zm6 0zm-13 1zm1 0zm5 0zm-6 1zm6 0zm7 0zm-12 1zm1 0zm-3 1zm3 0zm1 0zm1 0zm1 0zm2 0zm14 0zm80 0zm48 0zm-149 1zm1 0zm6 0zm4 0zm1 0zm7 0zm-10 1zm1 0zm7 0zm5 0zm3 0zm29 0zm-52 1zm2 0zm2 0zm9 0zm5 0zm25 0zm4 0zm-51 1zm2 0zm2 0zm2 0zm2 0zm2 0zm1 0zm1 0zm3 0zm1 0zm-14 1zm1 0zm11 0zm12 0zm-27 1zm3 0zm3 0zm1 0zm1 0zm1 0zm1 0zm5 0zm6 0zm-15 1zm3 0zm2 0zm3 0zm2 0zm9 0zm-25 1zm2 0zm1 0zm2 0zm4 0zm2 0zm11 0zm-20 1zm3 0zm3 0zm4 0zm1 0zm6 0zm-17 1zm1 0zm3 0zm6 0zm-3 1zm3 0zm4 0zm6 0zm-18 1zm5 0zm5 0zm-11 1zm2 0zm6 0zm11 0zm3 0zm2 0zm-26 1zm7 0zm7 0zm1 0zm7 0zm-23 1zm14 0zm2 0zm2 0zm4 0zm-14 1zm4 0zm-11 1zm4 0zm10 0zm8 0zm-10 1zm1 0zm3 0zm-7 1zm6 0zm1 0zm15 0zm31 0zm64 0zm-124 1zm18 0zm-16 1zm6 0zm2 0zm7 0zm2 0zm2 0zm7 0zm-17 1zm11 0zm-21 1zm31 0zm-30 1zm18 0zm3 0zm5 0zm-19 1zm1 0zm9 0zm13 0zm-9 1zm1 0zm2 0zm7 0zm-33 1zm19 0zm1 0zm-5 1zm4 0zm3 0zm4 0zm2 0zm3 0zm4 0zm3 0zm2 0zm10 0zm-24 1zm1 0zm2 0zm1 0zm5 0zm3 0zm2 0zm3 0zm-26 1zm5 0zm4 0zm1 0zm3 0zm2 0zm-13 1zm3 0zm1 0zm1 0zm3 0zm1 0zm19 0zm6 0zm-40 1zm1 0zm1 0zm7 0zm3 0zm1 0zm2 0zm19 0zm-27 1zm1 0zm9 0zm1 0zm-20 1zm5 0zm7 0zm1 0zm3 0zm1 0zm1 0zm5 0zm1 0zm1 0zm1 0zm8 0zm2 0zm1 0zm-46 1zm18 0zm2 0zm1 0zm1 0zm3 0zm5 0zm9 0zm3 0zm-46 1zm23 0zm3 0zm1 0zm2 0zm1 0zm2 0zm3 0zm1 0zm4 0zm2 0zm11 0zm2 0zm1 0zm-33 1zm1 0zm1 0zm1 0zm1 0zm5 0zm1 0zm1 0zm2 0zm1 0zm2 0zm19 0zm-35 1zm1 0zm1 0zm3 0zm1 0zm1 0zm1 0zm3 0zm3 0zm1 0zm1 0zm18 0zm-39 1zm1 0zm2 0zm3 0zm3 0zm4 0zm4 0zm1 0zm3 0zm1 0zm1 0zm4 0zm2 0zm8 0zm-47 1zm13 0zm1 0zm2 0zm2 0zm1 0zm2 0zm1 0zm1 0zm3 0zm4 0zm1 0zm1 0zm1 0zm8 0zm-36 1zm5 0zm5 0zm1 0zm1 0zm1 0zm1 0zm3 0zm1 0zm1 0zm2 0zm2 0zm1 0zm2 0zm3 0zm16 0zm12 0zm-64 1zm5 0zm10 0zm2 0zm2 0zm1 0zm1 0zm1 0zm3 0zm1 0zm4 0zm-26 1zm5 0zm4 0zm3 0zm1 0zm1 0zm1 0zm1 0zm2 0zm1 0zm3 0zm1 0zm1 0zm3 0zm1 0zm1 0zm1 0zm22 0zm6 0zm-48 1zm3 0zm2 0zm1 0zm1 0zm1 0zm2 0zm1 0zm2 0zm1 0zm2 0zm2 0zm12 0zm11 0zm-55 1zm8 0zm4 0zm2 0zm2 0zm3 0zm2 0zm2 0zm1 0zm1 0zm1 0zm6 0zm2 0zm10 0zm20 0zm-60 1zm1 0zm5 0zm3 0zm1 0zm1 0zm3 0zm4 0zm1 0zm1 0zm2 0zm1 0zm2 0zm2 0zm3 0zm11 0zm-33 1zm1 0zm1 0zm3 0zm1 0zm2 0zm1 0zm1 0zm2 0zm1 0zm1 0zm3 0zm17 0zm4 0zm-48 1zm5 0zm3 0zm2 0zm4 0zm1 0zm1 0zm1 0zm1 0zm1 0zm2 0zm1 0zm2 0zm3 0zm1 0zm5 0zm9 0zm-42 1zm6 0zm6 0zm4 0zm1 0zm2 0zm1 0zm1 0zm1 0zm2 0zm1 0zm1 0zm1 0zm1 0zm3 0zm1 0zm2 0zm-31 1zm10 0zm3 0zm2 0zm1 0zm1 0zm2 0zm3 0zm1 0zm1 0zm2 0zm4 0zm1 0zm-30 1zm2 0zm1 0zm3 0zm3 0zm2 0zm1 0zm1 0zm2 0zm1 0zm1 0zm2 0zm2 0zm2 0zm2 0zm1 0zm2 0zm2 0zm-34 1zm8 0zm1 0zm3 0zm1 0zm1 0zm1 0zm1 0zm3 0zm1 0zm1 0zm1 0zm1 0zm2 0zm1 0zm1 0zm-25 1zm1 0zm5 0zm2 0zm2 0zm1 0zm1 0zm1 0zm1 0zm1 0zm2 0zm1 0zm3 0zm1 0zm2 0zm3 0zm2 0zm2 0zm-33 1zm3 0zm3 0zm1 0zm1 0zm1 0zm1 0zm1 0zm1 0zm1 0zm1 0zm1 0zm1 0zm1 0zm4 0zm3 0zm1 0zm1 0zm3 0zm3 0zm-35 1zm3 0zm3 0zm1 0zm1 0zm5 0zm3 0zm1 0zm1 0zm2 0zm1 0zm1 0zm1 0zm1 0zm1 0zm1 0zm1 0zm2 0zm2 0zm8 0zm-41 1zm13 0zm2 0zm1 0zm1 0zm1 0zm1 0zm1 0zm1 0zm1 0zm1 0zm1 0zm2 0zm1 0zm1 0zm2 0zm1 0zm1 0zm7 0zm3 0zm-36 1zm3 0zm4 0zm1 0zm2 0zm1 0zm1 0zm1 0zm1 0zm1 0zm1 0zm1 0zm1 0zm1 0zm1 0zm1 0zm1 0zm1 0zm1 0zm1 0zm2 0zm2 0zm7 0zm-36 1zm5 0zm3 0zm1 0zm2 0zm2 0zm1 0zm1 0zm2 0zm1 0zm2 0zm1 0zm1 0zm2 0zm1 0zm1 0zm1 0zm3 0zm3 0zm3 0zm2 0zm-34 1zm1 0zm3 0zm1 0zm3 0zm2 0zm1 0zm1 0zm2 0zm1 0zm1 0zm1 0zm1 0zm1 0zm2 0zm2 0zm1 0zm1 0zm6 0zm4 0zm-40 1zm2 0zm1 0zm2 0zm2 0zm1 0zm1 0zm1 0zm1 0zm1 0zm2 0zm1 0zm3 0zm1 0zm1 0zm1 0zm1 0zm1 0zm1 0zm1 0zm1 0zm2 0zm2 0zm1 0zm7 0zm37 0zm-71 1zm2 0zm1 0zm1 0zm1 0zm2 0zm1 0zm1 0zm1 0zm1 0zm2 0zm1 0zm1 0zm4 0zm1 0zm2 0zm2 0zm1 0zm1 0zm1 0zm1 0zm7 0zm-34 1zm3 0zm2 0zm1 0zm2 0zm1 0zm1 0zm1 0zm1 0zm1 0zm1 0zm1 0zm1 0zm5 0zm1 0zm1 0zm1 0zm1 0zm-31 1zm3 0zm1 0zm2 0zm5 0zm1 0zm1 0zm2 0zm1 0zm1 0zm1 0zm2 0zm1 0zm1 0zm1 0zm1 0zm1 0zm1 0zm2 0zm1 0zm1 0zm5 0zm10 0zm-46 1zm2 0zm1 0zm2 0zm2 0zm2 0zm1 0zm1 0zm1 0zm1 0zm1 0zm1 0zm1 0zm1 0zm1 0zm1 0zm1 0zm1 0zm1 0zm1 0zm1 0zm1 0zm1 0zm1 0zm1 0zm1 0zm2 0zm1 0zm2 0zm2 0zm4 0zm-46 1zm5 0zm1 0zm4 0zm2 0zm3 0zm1 0zm1 0zm1 0zm1 0zm1 0zm2 0zm1 0zm1 0zm1 0zm1 0zm1 0zm1 0zm1 0zm1 0zm1 0zm1 0zm3 0zm2 0zm1 0zm2 0zm1 0zm16 0zm-56 1zm3 0zm3 0zm3 0zm2 0zm1 0zm2 0zm1 0zm1 0zm2 0zm1 0zm2 0zm1 0zm1 0zm1 0zm1 0zm1 0zm1 0zm1 0zm2 0zm4 0zm1 0zm2 0zm1 0zm4 0zm1 0zm4 0zm-40 1zm2 0zm3 0zm1 0zm2 0zm1 0zm2 0zm1 0zm2 0zm1 0zm1 0zm1 0zm1 0zm1 0zm1 0zm2 0zm1 0zm1 0zm3 0zm4 0zm3 0zm11 0zm-50 1zm2 0zm2 0zm1 0zm2 0zm2 0zm1 0zm1 0zm1 0zm1 0zm1 0zm1 0zm1 0zm1 0zm1 0zm1 0zm1 0zm1 0zm1 0zm1 0zm1 0zm1 0zm2 0zm1 0zm1 0zm1 0zm1 0zm1 0zm1 0zm1 0zm1 0zm1 0zm2 0zm4 0zm3 0zm-40 1zm3 0zm1 0zm2 0zm1 0zm1 0zm1 0zm1 0zm1 0zm1 0zm1 0zm1 0zm2 0zm2 0zm1 0zm1 0zm1 0zm1 0zm3 0zm1 0zm2 0zm1 0zm5 0zm2 0zm-42 1zm2 0zm2 0zm6 0zm2 0zm1 0zm1 0zm1 0zm1 0zm1 0zm1 0zm1 0zm1 0zm1 0zm2 0zm1 0zm1 0zm1 0zm1 0zm3 0zm1 0zm3 0zm1 0zm1 0zm2 0zm1 0zm1 0zm4 0zm3 0zm17 0zm-62 1zm3 0zm1 0zm6 0zm1 0zm1 0zm1 0zm1 0zm1 0zm1 0zm1 0zm1 0zm1 0zm1 0zm1 0zm1 0zm1 0zm2 0zm1 0zm1 0zm1 0zm1 0zm1 0zm1 0zm5 0zm7 0zm1 0zm11 0zm-56 1zm4 0zm3 0zm2 0zm1 0zm2 0zm1 0zm2 0zm2 0zm1 0zm1 0zm1 0zm2 0zm1 0zm1 0zm1 0zm1 0zm1 0zm1 0zm1 0zm1 0zm1 0zm1 0zm1 0zm1 0zm1 0zm3 0zm5 0zm6 0zm-53 1zm9 0zm4 0zm1 0zm1 0zm1 0zm1 0zm1 0zm2 0zm2 0zm1 0zm1 0zm1 0zm2 0zm1 0zm1 0zm1 0zm1 0zm1 0zm1 0zm1 0zm1 0zm3 0zm2 0zm3 0zm6 0zm2 0zm-51 1zm1 0zm4 0zm1 0zm2 0zm4 0zm1 0zm1 0zm1 0zm2 0zm1 0zm1 0zm1 0zm1 0zm1 0zm1 0zm1 0zm1 0zm1 0zm2 0zm1 0zm1 0zm2 0zm1 0zm1 0zm1 0zm2 0zm1 0zm1 0zm1 0zm2 0zm9 0zm-49 1zm2 0zm3 0zm2 0zm3 0zm2 0zm2 0zm1 0zm1 0zm1 0zm1 0zm1 0zm2 0zm1 0zm1 0zm1 0zm1 0zm1 0zm1 0zm1 0zm1 0zm1 0zm2 0zm1 0zm1 0zm2 0zm1 0zm1 0zm1 0zm2 0zm1 0zm2 0zm-43 1zm1 0zm3 0zm3 0zm2 0zm1 0zm1 0zm1 0zm1 0zm1 0zm2 0zm1 0zm1 0zm1 0zm1 0zm1 0zm1 0zm1 0zm1 0zm1 0zm1 0zm1 0zm1 0zm1 0zm1 0zm1 0zm1 0zm1 0zm1 0zm1 0zm1 0zm1 0zm9 0zm-46 1zm2 0zm3 0zm1 0zm1 0zm1 0zm1 0zm1 0zm1 0zm1 0zm1 0zm1 0zm1 0zm1 0zm1 0zm1 0zm1 0zm1 0zm1 0zm1 0zm1 0zm1 0zm1 0zm1 0zm1 0zm2 0zm1 0zm1 0zm1 0zm1 0zm1 0zm1 0zm1 0zm4 0zm1 0zm3 0zm-40 1zm1 0zm1 0zm1 0zm1 0zm1 0zm1 0zm1 0zm2 0zm1 0zm1 0zm1 0zm1 0zm1 0zm1 0zm1 0zm1 0zm1 0zm2 0zm1 0zm1 0zm1 0zm1 0zm1 0zm1 0zm1 0zm1 0zm1 0zm1 0zm1 0zm1 0zm1 0zm1 0zm2 0zm1 0zm3 0zm-46 1zm2 0zm2 0zm2 0zm1 0zm2 0zm1 0zm1 0zm1 0zm1 0zm1 0zm1 0zm1 0zm1 0zm1 0zm1 0zm1 0zm1 0zm1 0zm1 0zm1 0zm1 0zm1 0zm1 0zm1 0zm1 0zm1 0zm1 0zm1 0zm1 0zm1 0zm1 0zm1 0zm1 0zm1 0zm2 0zm2 0zm4 0zm1 0zm4 0zm1 0zm-50 1zm5 0zm1 0zm2 0zm1 0zm1 0zm1 0zm1 0zm1 0zm1 0zm1 0zm1 0zm1 0zm1 0zm1 0zm1 0zm1 0zm1 0zm1 0zm1 0zm1 0zm1 0zm1 0zm1 0zm1 0zm1 0zm1 0zm1 0zm1 0zm1 0zm1 0zm1 0zm3 0zm1 0zm1 0zm1 0zm-45 1zm2 0zm1 0zm6 0zm1 0zm2 0zm1 0zm1 0zm2 0zm1 0zm1 0zm1 0zm1 0zm1 0zm1 0zm1 0zm1 0zm1 0zm1 0zm1 0zm1 0zm1 0zm1 0zm1 0zm1 0zm1 0zm2 0zm1 0zm1 0zm1 0zm1 0zm1 0zm1 0zm2 0zm1 0zm1 0zm3 0zm4 0zm-49 1zm1 0zm2 0zm1 0zm1 0zm2 0zm1 0zm3 0zm1 0zm2 0zm1 0zm1 0zm1 0zm2 0zm1 0zm1 0zm1 0zm1 0zm1 0zm1 0zm1 0zm1 0zm1 0zm1 0zm1 0zm1 0zm1 0zm1 0zm1 0zm1 0zm2 0zm1 0zm2 0zm1 0zm1 0zm8 0zm8 0zm-57 1zm2 0zm1 0zm1 0zm4 0zm1 0zm1 0zm1 0zm1 0zm1 0zm1 0zm1 0zm1 0zm1 0zm1 0zm1 0zm1 0zm1 0zm1 0zm1 0zm1 0zm1 0zm1 0zm1 0zm1 0zm1 0zm1 0zm1 0zm1 0zm1 0zm1 0zm1 0zm2 0zm-39 1zm2 0zm2 0zm1 0zm1 0zm1 0zm1 0zm1 0zm1 0zm1 0zm2 0zm2 0zm1 0zm1 0zm1 0zm1 0zm1 0zm1 0zm1 0zm1 0zm1 0zm1 0zm1 0zm1 0zm1 0zm1 0zm1 0zm1 0zm1 0zm1 0zm2 0zm2 0zm1 0zm2 0zm2 0zm3 0zm9 0zm47 0zm-98 1zm2 0zm1 0zm1 0zm2 0zm1 0zm1 0zm1 0zm1 0zm1 0zm1 0zm1 0zm1 0zm1 0zm1 0zm1 0zm1 0zm1 0zm1 0zm1 0zm1 0zm1 0zm1 0zm1 0zm1 0zm1 0zm1 0zm1 0zm1 0zm1 0zm1 0zm2 0zm2 0zm1 0zm1 0zm1 0zm3 0zm6 0zm2 0zm-51 1zm2 0zm3 0zm3 0zm1 0zm1 0zm1 0zm1 0zm1 0zm1 0zm1 0zm1 0zm1 0zm1 0zm1 0zm1 0zm1 0zm1 0zm1 0zm1 0zm1 0zm1 0zm1 0zm1 0zm1 0zm1 0zm1 0zm1 0zm1 0zm1 0zm1 0zm1 0zm1 0zm14 0zm-55 1zm1 0zm3 0zm2 0zm2 0zm1 0zm1 0zm1 0zm1 0zm2 0zm1 0zm1 0zm1 0zm1 0zm1 0zm1 0zm1 0zm1 0zm1 0zm1 0zm1 0zm1 0zm1 0zm1 0zm1 0zm1 0zm1 0zm1 0zm1 0zm1 0zm1 0zm1 0zm1 0zm1 0zm1 0zm1 0zm1 0zm1 0zm1 0zm1 0zm5 0zm2 0zm-51 1zm1 0zm1 0zm1 0zm3 0zm1 0zm2 0zm1 0zm1 0zm1 0zm1 0zm1 0zm1 0zm2 0zm1 0zm1 0zm1 0zm1 0zm1 0zm1 0zm1 0zm1 0zm1 0zm1 0zm1 0zm1 0zm1 0zm1 0zm1 0zm1 0zm1 0zm1 0zm1 0zm1 0zm2 0zm4 0zm3 0zm2 0zm2 0zm-49 1zm2 0zm4 0zm1 0zm2 0zm2 0zm2 0zm1 0zm1 0zm1 0zm1 0zm1 0zm1 0zm1 0zm1 0zm1 0zm1 0zm2 0zm1 0zm1 0zm1 0zm2 0zm3 0zm4 0zm1 0zm1 0zm1 0zm2 0zm1 0zm1 0zm2 0zm6 0zm12 0zm-62 1zm3 0zm1 0zm2 0zm2 0zm1 0zm1 0zm1 0zm1 0zm1 0zm1 0zm1 0zm1 0zm1 0zm1 0zm1 0zm1 0zm1 0zm1 0zm1 0zm1 0zm1 0zm1 0zm1 0zm1 0zm1 0zm1 0zm1 0zm1 0zm1 0zm1 0zm1 0zm1 0zm1 0zm1 0zm1 0zm1 0zm1 0zm2 0zm-45 1zm3 0zm2 0zm2 0zm1 0zm1 0zm2 0zm1 0zm1 0zm1 0zm1 0zm1 0zm1 0zm1 0zm1 0zm1 0zm1 0zm1 0zm1 0zm1 0zm1 0zm1 0zm1 0zm1 0zm1 0zm1 0zm1 0zm1 0zm1 0zm1 0zm1 0zm1 0zm1 0zm1 0zm1 0zm1 0zm1 0zm1 0zm1 0zm1 0zm4 0zm4 0zm-50 1zm2 0zm1 0zm1 0zm1 0zm1 0zm2 0zm1 0zm1 0zm1 0zm1 0zm1 0zm1 0zm1 0zm1 0zm1 0zm1 0zm1 0zm1 0zm1 0zm1 0zm1 0zm1 0zm1 0zm1 0zm1 0zm1 0zm1 0zm1 0zm1 0zm2 0zm1 0zm1 0zm1 0zm1 0zm1 0zm1 0zm1 0zm1 0zm2 0zm1 0zm2 0zm2 0zm-46 1zm2 0zm1 0zm1 0zm1 0zm1 0zm1 0zm1 0zm1 0zm1 0zm1 0zm1 0zm1 0zm1 0zm1 0zm1 0zm1 0zm1 0zm1 0zm1 0zm1 0zm1 0zm1 0zm1 0zm1 0zm1 0zm1 0zm1 0zm1 0zm1 0zm1 0zm1 0zm1 0zm2 0zm4 0zm2 0zm2 0zm7 0zm-50 1zm1 0zm1 0zm1 0zm1 0zm1 0zm1 0zm1 0zm1 0zm1 0zm1 0zm1 0zm1 0zm2 0zm1 0zm1 0zm1 0zm2 0zm1 0zm1 0zm1 0zm1 0zm1 0zm1 0zm1 0zm1 0zm1 0zm1 0zm1 0zm1 0zm1 0zm1 0zm1 0zm2 0zm1 0zm4 0zm3 0zm4 0zm-53 1zm4 0zm1 0zm3 0zm1 0zm1 0zm1 0zm1 0zm1 0zm1 0zm1 0zm1 0zm1 0zm1 0zm1 0zm1 0zm1 0zm1 0zm1 0zm1 0zm1 0zm1 0zm1 0zm1 0zm2 0zm1 0zm1 0zm1 0zm1 0zm1 0zm1 0zm1 0zm1 0zm2 0zm1 0zm1 0zm2 0zm8 0zm3 0zm-53 1zm2 0zm2 0zm2 0zm1 0zm2 0zm1 0zm1 0zm1 0zm1 0zm1 0zm1 0zm2 0zm1 0zm1 0zm1 0zm1 0zm1 0zm1 0zm1 0zm1 0zm1 0zm1 0zm1 0zm1 0zm1 0zm1 0zm1 0zm1 0zm1 0zm1 0zm1 0zm1 0zm1 0zm1 0zm2 0zm1 0zm1 0zm7 0zm-52 1zm7 0zm1 0zm2 0zm1 0zm1 0zm1 0zm1 0zm1 0zm1 0zm1 0zm1 0zm1 0zm1 0zm1 0zm1 0zm1 0zm1 0zm1 0zm1 0zm1 0zm1 0zm1 0zm1 0zm1 0zm1 0zm1 0zm1 0zm1 0zm1 0zm1 0zm1 0zm1 0zm1 0zm1 0zm2 0zm1 0zm1 0zm1 0zm2 0zm-44 1zm3 0zm3 0zm3 0zm1 0zm1 0zm1 0zm1 0zm1 0zm1 0zm1 0zm1 0zm1 0zm1 0zm1 0zm1 0zm1 0zm1 0zm1 0zm1 0zm1 0zm1 0zm1 0zm1 0zm2 0zm1 0zm1 0zm1 0zm2 0zm1 0zm-39 1zm3 0zm1 0zm1 0zm2 0zm1 0zm1 0zm1 0zm1 0zm1 0zm1 0zm1 0zm1 0zm1 0zm1 0zm1 0zm1 0zm1 0zm1 0zm1 0zm1 0zm1 0zm1 0zm1 0zm2 0zm1 0zm1 0zm1 0zm1 0zm1 0zm1 0zm1 0zm1 0zm3 0zm68 0zm-105 1zm1 0zm1 0zm1 0zm2 0zm2 0zm1 0zm1 0zm1 0zm1 0zm1 0zm1 0zm1 0zm1 0zm1 0zm1 0zm1 0zm1 0zm1 0zm1 0zm1 0zm1 0zm1 0zm1 0zm1 0zm1 0zm1 0zm1 0zm1 0zm1 0zm1 0zm1 0zm1 0zm1 0zm4 0zm1 0zm1 0zm2 0zm-44 1zm1 0zm2 0zm3 0zm1 0zm1 0zm1 0zm1 0zm2 0zm1 0zm1 0zm1 0zm1 0zm1 0zm1 0zm1 0zm1 0zm1 0zm1 0zm1 0zm1 0zm1 0zm1 0zm1 0zm1 0zm1 0zm3 0zm1 0zm2 0zm1 0zm2 0zm2 0zm1 0zm2 0zm3 0zm1 0zm1 0zm-49 1zm2 0zm2 0zm7 0zm1 0zm1 0zm1 0zm1 0zm1 0zm1 0zm1 0zm1 0zm1 0zm1 0zm1 0zm1 0zm1 0zm1 0zm1 0zm1 0zm1 0zm1 0zm1 0zm1 0zm1 0zm1 0zm3 0zm1 0zm2 0zm1 0zm1 0zm2 0zm2 0zm9 0zm9 0zm32 0zm-96 1zm8 0zm1 0zm1 0zm1 0zm1 0zm1 0zm2 0zm1 0zm1 0zm1 0zm1 0zm1 0zm3 0zm3 0zm1 0zm1 0zm1 0zm1 0zm1 0zm1 0zm1 0zm1 0zm1 0zm2 0zm2 0zm2 0zm1 0zm2 0zm-45 1zm3 0zm8 0zm2 0zm1 0zm2 0zm1 0zm1 0zm1 0zm1 0zm1 0zm1 0zm1 0zm1 0zm1 0zm1 0zm1 0zm1 0zm1 0zm1 0zm1 0zm1 0zm1 0zm1 0zm1 0zm1 0zm4 0zm1 0zm1 0zm-41 1zm7 0zm1 0zm1 0zm2 0zm1 0zm1 0zm3 0zm1 0zm2 0zm1 0zm1 0zm2 0zm1 0zm2 0zm1 0zm1 0zm1 0zm1 0zm1 0zm2 0zm1 0zm1 0zm1 0zm1 0zm1 0zm2 0zm2 0zm2 0zm2 0zm4 0zm3 0zm-52 1zm10 0zm3 0zm2 0zm1 0zm1 0zm1 0zm1 0zm1 0zm3 0zm1 0zm1 0zm1 0zm1 0zm1 0zm1 0zm1 0zm1 0zm1 0zm1 0zm1 0zm1 0zm1 0zm1 0zm5 0zm3 0zm3 0zm1 0zm2 0zm-46 1zm2 0zm1 0zm2 0zm1 0zm5 0zm4 0zm1 0zm2 0zm2 0zm1 0zm1 0zm1 0zm1 0zm1 0zm1 0zm1 0zm1 0zm1 0zm1 0zm1 0zm1 0zm1 0zm2 0zm1 0zm-41 1zm5 0zm2 0zm1 0zm1 0zm1 0zm1 0zm1 0zm2 0zm1 0zm2 0zm1 0zm2 0zm1 0zm1 0zm2 0zm1 0zm1 0zm1 0zm3 0zm1 0zm2 0zm3 0zm2 0zm1 0zm16 0zm-56 1zm6 0zm4 0zm4 0zm1 0zm1 0zm2 0zm1 0zm1 0zm1 0zm1 0zm1 0zm1 0zm1 0zm1 0zm2 0zm1 0zm2 0zm3 0zm4 0zm5 0zm7 0zm-43 1zm2 0zm1 0zm1 0zm1 0zm5 0zm1 0zm1 0zm1 0zm1 0zm4 0zm1 0zm2 0zm1 0zm3 0zm1 0zm4 0zm4 0zm1 0zm-39 1zm15 0zm1 0zm1 0zm3 0zm1 0zm1 0zm2 0zm1 0zm2 0zm4 0zm10 0zm9 0zm-53 1zm5 0zm1 0zm2 0zm2 0zm3 0zm3 0zm3 0zm1 0zm1 0zm3 0zm2 0zm1 0zm1 0zm1 0zm2 0zm1 0zm1 0zm1 0zm1 0zm5 0zm10 0zm-46 1zm2 0zm9 0zm2 0zm1 0zm4 0zm3 0zm2 0zm1 0zm1 0zm4 0zm2 0zm4 0zm3 0zm4 0zm-41 1zm1 0zm1 0zm4 0zm4 0zm4 0zm1 0zm2 0zm2 0zm1 0zm1 0zm1 0zm2 0zm2 0zm1 0zm2 0zm1 0zm-27 1zm9 0zm1 0zm1 0zm1 0zm1 0zm1 0zm3 0zm4 0zm6 0zm22 0zm-58 1zm6 0zm13 0zm2 0zm3 0zm1 0zm6 0zm2 0zm12 0zm-24 1zm3 0zm3 0zm3 0zm2 0zm6 0zm2 0zm-27 1zm9 0zm3 0zm12 0zm-23 1zm11 0zm2 0zm7 0zm2 0zm-30 1zm8 0zm1 0zm3 0zm1 0zm18 0zm-29 1zm11 0zm4 0zm1 0zm7 0zm2 0zm11 0zm-27 1zm2 0zm1 0zm21 0zm-41 1zm3 0zm27 0zm5 0zm11 1zm-29 1zm24 0zm-23 3zm5 0zm6 0zm-2 1zm17 0zm-29 1zm31 2zm-10 1zm-32 2zm46 2zm-42 3zm35 2z"/>
<path transform="translate(205.5 334.5) scale(1 -1)" d="M0 0m12 1zm2 0zm-9 1zm48 0zm-48 1zm1 0zm5 0zm101 0zm-108 1zm3 0zm2 0zm1 0zm26 0zm-28 1zm8 0zm68 0zm-80 1zm7 0zm-9 1zm3 0zm2 0zm49 0zm-55 1zm8 0zm1 0zm2 0zm16 0zm-24 1zm3 0zm2 0zm3 0zm-10 1zm1 0zm5 0zm2 0zm2 0zm-7 1zm1 0zm-3 1zm10 0zm6 0zm36 0zm-45 1zm11 0zm1 0zm-15 1zm3 0zm-4 1zm1 0zm1 0zm-7 1zm11 0zm2 0zm1 0zm-12 2zm2 0zm12 0zm128 0zm-129 1zm1 0zm2 0zm-11 1zm1 0zm4 0zm-6 1zm5 0zm12 0zm14 0zm-30 1zm1 0zm4 0zm3 0zm3 0zm17 0zm-21 1zm11 0zm-20 1zm10 0zm2 0zm1 0zm122 1zm-121 1zm-13 1zm7 0zm12 0zm7 0zm-30 1zm8 0zm4 0zm4 0zm7 0zm2 0zm-8 1zm5 0zm1 0zm63 0zm-71 1zm4 0zm5 0zm2 0zm6 0zm-21 1zm2 0zm4 0zm10 0zm3 0zm-16 1zm6 0zm7 0zm6 0zm-17 1zm2 0zm8 0zm1 0zm1 0zm34 0zm-52 1zm10 0zm12 0zm1 0zm-16 1zm4 0zm5 0zm4 0zm8 0zm103 0zm-132 1zm4 0zm4 0zm2 0zm1 0zm5 0zm4 0zm1 0zm1 0zm2 0zm3 0zm-23 1zm5 0zm6 0zm2 0zm5 0zm1 0zm-32 1zm15 0zm2 0zm6 0zm6 0zm-20 1zm7 0zm2 0zm3 0zm6 0zm5 0zm6 0zm61 0zm-94 1zm9 0zm1 0zm1 0zm1 0zm1 0zm1 0zm5 0zm1 0zm5 0zm3 0zm2 0zm1 0zm2 0zm77 0zm-96 1zm2 0zm1 0zm2 0zm3 0zm2 0zm1 0zm10 0zm3 0zm-34 1zm6 0zm3 0zm4 0zm2 0zm2 0zm1 0zm3 0zm4 0zm18 0zm-39 1zm2 0zm2 0zm2 0zm3 0zm2 0zm1 0zm7 0zm2 0zm2 0zm49 0zm-80 1zm12 0zm3 0zm1 0zm3 0zm2 0zm1 0zm6 0zm51 0zm-69 1zm5 0zm3 0zm1 0zm2 0zm2 0zm5 0zm1 0zm1 0zm-21 1zm3 0zm1 0zm1 0zm1 0zm1 0zm3 0zm1 0zm4 0zm2 0zm5 0zm7 0zm-25 1zm2 0zm2 0zm1 0zm2 0zm3 0zm1 0zm1 0zm6 0zm2 0zm15 0zm-54 1zm8 0zm10 0zm3 0zm4 0zm1 0zm3 0zm4 0zm3 0zm3 0zm25 0zm28 0zm-91 1zm5 0zm10 0zm2 0zm3 0zm2 0zm1 0zm3 0zm2 0zm5 0zm1 0zm1 0zm4 0zm-31 1zm5 0zm2 0zm3 0zm1 0zm2 0zm1 0zm1 0zm2 0zm2 0zm2 0zm3 0zm7 0zm3 0zm63 0zm-99 1zm7 0zm1 0zm1 0zm1 0zm1 0zm7 0zm4 0zm2 0zm1 0zm1 0zm2 0zm-32 1zm12 0zm11 0zm1 0zm3 0zm4 0zm10 0zm2 0zm12 0zm74 0zm-129 1zm8 0zm4 0zm2 0zm4 0zm1 0zm1 0zm1 0zm1 0zm2 0zm1 0zm2 0zm2 0zm1 0zm2 0zm7 0zm-43 1zm1 0zm1 0zm11 0zm1 0zm4 0zm1 0zm1 0zm1 0zm1 0zm2 0zm1 0zm2 0zm1 0zm1 0zm3 0zm1 0zm2 0zm16 0zm36 0zm11 0zm-93 1zm4 0zm2 0zm2 0zm1 0zm1 0zm3 0zm2 0zm2 0zm1 0zm2 0zm3 0zm1 0zm1 0zm5 0zm1 0zm5 0zm5 0zm13 0zm1 0zm-48 1zm2 0zm4 0zm1 0zm3 0zm2 0zm1 0zm4 0zm2 0zm1 0zm4 0zm3 0zm1 0zm-33 1zm8 0zm3 0zm2 0zm1 0zm1 0zm3 0zm1 0zm1 0zm1 0zm1 0zm1 0zm4 0zm1 0zm7 0zm5 0zm15 0zm8 0zm-62 1zm2 0zm4 0zm1 0zm4 0zm1 0zm1 0zm2 0zm1 0zm1 0zm2 0zm2 0zm1 0zm1 0zm11 0zm4 0zm6 0zm22 0zm-71 1zm1 0zm4 0zm2 0zm1 0zm1 0zm6 0zm1 0zm1 0zm3 0zm1 0zm2 0zm1 0zm2 0zm1 0zm1 0zm1 0zm4 0zm1 0zm3 0zm5 0zm3 0zm21 0zm-65 1zm2 0zm11 0zm2 0zm2 0zm2 0zm1 0zm1 0zm1 0zm2 0zm1 0zm2 0zm1 0zm3 0zm1 0zm5 0zm1 0zm2 0zm12 0zm4 0zm12 0zm10 0zm5 0zm21 0zm-104 1zm4 0zm4 0zm5 0zm1 0zm2 0zm1 0zm1 0zm1 0zm1 0zm2 0zm1 0zm1 0zm1 0zm1 0zm3 0zm2 0zm1 0zm1 0zm2 0zm2 0zm2 0zm1 0zm6 0zm67 0zm-117 1zm6 0zm5 0zm3 0zm2 0zm3 0zm1 0zm1 0zm4 0zm1 0zm1 0zm1 0zm1 0zm2 0zm3 0zm2 0zm2 0zm13 0zm2 0zm-52 1zm4 0zm10 0zm2 0zm4 0zm2 0zm2 0zm3 0zm1 0zm1 0zm3 0zm2 0zm1 0zm1 0zm2 0zm3 0zm3 0zm2 0zm34 0zm29 0zm-107 1zm3 0zm1 0zm3 0zm4 0zm3 0zm1 0zm2 0zm1 0zm1 0zm2 0zm1 0zm1 0zm4 0zm9 0zm1 0zm2 0zm1 0zm1 0zm7 0zm1 0zm-49 1zm1 0zm4 0zm5 0zm1 0zm2 0zm6 0zm1 0zm1 0zm2 0zm1 0zm1 0zm5 0zm1 0zm2 0zm1 0zm1 0zm1 0zm4 0zm2 0zm4 0zm2 0zm37 0zm9 0zm-87 1zm1 0zm3 0zm1 0zm1 0zm4 0zm1 0zm3 0zm2 0zm1 0zm2 0zm3 0zm1 0zm1 0zm3 0zm1 0zm3 0zm14 0zm6 0zm14 0zm19 0zm-88 1zm3 0zm1 0zm4 0zm2 0zm4 0zm1 0zm1 0zm1 0zm2 0zm1 0zm3 0zm1 0zm6 0zm9 0zm4 0zm11 0zm5 0zm6 0zm11 0zm3 0zm12 0zm13 0zm-107 1zm4 0zm1 0zm1 0zm1 0zm4 0zm2 0zm1 0zm1 0zm1 0zm4 0zm1 0zm3 0zm1 0zm1 0zm4 0zm1 0zm2 0zm1 0zm7 0zm1 0zm4 0zm6 0zm1 0zm3 0zm2 0zm7 0zm4 0zm-69 1zm2 0zm2 0zm4 0zm1 0zm1 0zm1 0zm1 0zm2 0zm2 0zm1 0zm1 0zm2 0zm2 0zm2 0zm1 0zm2 0zm1 0zm1 0zm6 0zm2 0zm1 0zm1 0zm6 0zm2 0zm4 0zm10 0zm9 0zm4 0zm7 0zm9 0zm20 0zm17 0zm-130 1zm2 0zm1 0zm1 0zm2 0zm1 0zm2 0zm1 0zm1 0zm2 0zm1 0zm3 0zm1 0zm1 0zm1 0zm2 0zm1 0zm1 0zm1 0zm1 0zm3 0zm1 0zm2 0zm3 0zm8 0zm3 0zm3 0zm1 0zm4 0zm14 0zm16 0zm8 0zm-90 1zm2 0zm2 0zm1 0zm1 0zm2 0zm3 0zm1 0zm1 0zm2 0zm1 0zm2 0zm1 0zm1 0zm2 0zm1 0zm2 0zm2 0zm1 0zm2 0zm1 0zm2 0zm1 0zm4 0zm3 0zm1 0zm2 0zm3 0zm3 0zm7 0zm16 0zm7 0zm17 0zm7 0zm28 0zm-133 1zm2 0zm1 0zm1 0zm1 0zm1 0zm2 0zm1 0zm1 0zm2 0zm1 0zm2 0zm1 0zm1 0zm1 0zm1 0zm1 0zm1 0zm2 0zm1 0zm2 0zm1 0zm1 0zm1 0zm1 0zm1 0zm2 0zm4 0zm1 0zm2 0zm1 0zm2 0zm3 0zm8 0zm1 0zm2 0zm6 0zm3 0zm20 0zm6 0zm-91 1zm1 0zm2 0zm2 0zm2 0zm1 0zm1 0zm1 0zm1 0zm1 0zm1 0zm1 0zm1 0zm1 0zm2 0zm1 0zm3 0zm1 0zm1 0zm1 0zm1 0zm1 0zm1 0zm1 0zm1 0zm1 0zm1 0zm3 0zm1 0zm1 0zm2 0zm1 0zm1 0zm1 0zm2 0zm39 0zm5 0zm36 0zm-126 1zm1 0zm4 0zm3 0zm3 0zm1 0zm1 0zm1 0zm1 0zm1 0zm1 0zm1 0zm1 0zm1 0zm1 0zm1 0zm2 0zm1 0zm1 0zm1 0zm1 0zm2 0zm3 0zm2 0zm2 0zm1 0zm1 0zm2 0zm1 0zm1 0zm1 0zm7 0zm8 0zm2 0zm12 0zm14 0zm3 0zm3 0zm-93 1zm2 0zm1 0zm1 0zm4 0zm2 0zm1 0zm1 0zm1 0zm1 0zm1 0zm1 0zm1 0zm1 0zm1 0zm1 0zm1 0zm1 0zm1 0zm3 0zm1 0zm1 0zm1 0zm2 0zm3 0zm1 0zm1 0zm2 0zm3 0zm7 0zm2 0zm15 0zm5 0zm5 0zm8 0zm15 0zm-95 1zm2 0zm1 0zm1 0zm2 0zm1 0zm1 0zm1 0zm1 0zm1 0zm1 0zm1 0zm2 0zm1 0zm1 0zm1 0zm2 0zm1 0zm1 0zm1 0zm1 0zm1 0zm1 0zm2 0zm3 0zm2 0zm2 0zm4 0zm3 0zm5 0zm1 0zm1 0zm4 0zm1 0zm6 0zm12 0zm4 0zm7 0zm3 0zm7 0zm17 0zm12 0zm-125 1zm1 0zm2 0zm1 0zm2 0zm1 0zm2 0zm1 0zm1 0zm1 0zm1 0zm1 0zm1 0zm1 0zm1 0zm1 0zm2 0zm1 0zm1 0zm1 0zm1 0zm1 0zm1 0zm2 0zm2 0zm1 0zm1 0zm1 0zm1 0zm1 0zm2 0zm5 0zm3 0zm2 0zm2 0zm12 0zm4 0zm1 0zm2 0zm2 0zm14 0zm13 0zm-97 1zm1 0zm2 0zm5 0zm1 0zm1 0zm1 0zm1 0zm1 0zm1 0zm1 0zm2 0zm1 0zm1 0zm1 0zm1 0zm1 0zm1 0zm1 0zm1 0zm2 0zm1 0zm2 0zm1 0zm1 0zm2 0zm1 0zm1 0zm2 0zm3 0zm1 0zm1 0zm2 0zm3 0zm2 0zm2 0zm6 0zm4 0zm4 0zm7 0zm3 0zm6 0zm10 0zm17 0zm-109 1zm2 0zm1 0zm1 0zm2 0zm1 0zm2 0zm1 0zm2 0zm1 0zm1 0zm1 0zm1 0zm1 0zm1 0zm1 0zm1 0zm2 0zm1 0zm1 0zm1 0zm1 0zm1 0zm1 0zm1 0zm1 0zm1 0zm1 0zm2 0zm3 0zm1 0zm4 0zm6 0zm1 0zm1 0zm3 0zm8 0zm1 0zm4 0zm6 0zm4 0zm2 0zm1 0zm2 0zm21 0zm-102 1zm2 0zm1 0zm2 0zm1 0zm1 0zm1 0zm1 0zm1 0zm1 0zm1 0zm1 0zm1 0zm1 0zm1 0zm1 0zm1 0zm1 0zm1 0zm1 0zm1 0zm1 0zm1 0zm1 0zm1 0zm1 0zm1 0zm1 0zm1 0zm2 0zm5 0zm3 0zm1 0zm1 0zm2 0zm1 0zm2 0zm2 0zm3 0zm3 0zm1 0zm4 0zm3 0zm1 0zm2 0zm6 0zm8 0zm15 0zm5 0zm31 0zm-130 1zm1 0zm2 0zm2 0zm1 0zm3 0zm1 0zm1 0zm2 0zm1 0zm1 0zm1 0zm1 0zm1 0zm1 0zm1 0zm1 0zm1 0zm2 0zm1 0zm1 0zm2 0zm1 0zm1 0zm1 0zm2 0zm1 0zm1 0zm1 0zm3 0zm1 0zm2 0zm2 0zm1 0zm6 0zm1 0zm1 0zm7 0zm25 0zm1 0zm1 0zm15 0zm6 0zm11 0zm3 0zm22 0zm-144 1zm2 0zm2 0zm1 0zm2 0zm1 0zm1 0zm1 0zm1 0zm1 0zm1 0zm1 0zm1 0zm1 0zm1 0zm1 0zm1 0zm1 0zm1 0zm2 0zm1 0zm1 0zm1 0zm1 0zm1 0zm1 0zm1 0zm1 0zm1 0zm2 0zm1 0zm3 0zm1 0zm1 0zm2 0zm7 0zm2 0zm3 0zm3 0zm1 0zm2 0zm4 0zm2 0zm2 0zm15 0zm3 0zm2 0zm10 0zm6 0zm12 0zm14 0zm-131 1zm3 0zm1 0zm1 0zm2 0zm2 0zm1 0zm1 0zm1 0zm1 0zm1 0zm1 0zm1 0zm1 0zm1 0zm1 0zm1 0zm1 0zm1 0zm1 0zm1 0zm1 0zm1 0zm1 0zm1 0zm2 0zm1 0zm2 0zm1 0zm2 0zm2 0zm3 0zm1 0zm2 0zm1 0zm2 0zm1 0zm4 0zm2 0zm5 0zm3 0zm4 0zm3 0zm8 0zm1 0zm2 0zm7 0zm20 0zm36 0zm-142 1zm2 0zm1 0zm1 0zm1 0zm1 0zm1 0zm1 0zm1 0zm1 0zm1 0zm1 0zm2 0zm1 0zm1 0zm1 0zm1 0zm1 0zm1 0zm1 0zm1 0zm1 0zm1 0zm2 0zm1 0zm1 0zm1 0zm1 0zm1 0zm1 0zm2 0zm1 0zm1 0zm1 0zm2 0zm3 0zm2 0zm3 0zm1 0zm1 0zm1 0zm1 0zm5 0zm3 0zm3 0zm5 0zm3 0zm1 0zm8 0zm49 0zm-129 1zm1 0zm1 0zm1 0zm1 0zm1 0zm1 0zm1 0zm1 0zm1 0zm1 0zm1 0zm1 0zm1 0zm1 0zm1 0zm1 0zm1 0zm1 0zm1 0zm1 0zm1 0zm1 0zm1 0zm2 0zm2 0zm1 0zm1 0zm1 0zm1 0zm1 0zm1 0zm1 0zm1 0zm1 0zm6 0zm1 0zm3 0zm1 0zm3 0zm1 0zm5 0zm3 0zm2 0zm2 0zm2 0zm1 0zm4 0zm1 0zm2 0zm2 0zm1 0zm7 0zm9 0zm12 0zm4 0zm1 0zm11 0zm6 0zm2 0zm16 0zm-144 1zm1 0zm3 0zm1 0zm2 0zm1 0zm1 0zm1 0zm1 0zm1 0zm1 0zm1 0zm1 0zm1 0zm1 0zm1 0zm1 0zm1 0zm1 0zm1 0zm1 0zm1 0zm1 0zm1 0zm1 0zm1 0zm1 0zm1 0zm1 0zm1 0zm1 0zm1 0zm1 0zm4 0zm3 0zm2 0zm1 0zm1 0zm1 0zm3 0zm4 0zm1 0zm4 0zm1 0zm8 0zm4 0zm4 0zm8 0zm4 0zm2 0zm10 0zm1 0zm7 0zm12 0zm15 0zm-134 1zm2 0zm1 0zm1 0zm1 0zm1 0zm1 0zm2 0zm1 0zm2 0zm1 0zm1 0zm1 0zm1 0zm1 0zm1 0zm1 0zm1 0zm1 0zm1 0zm1 0zm1 0zm1 0zm1 0zm1 0zm2 0zm1 0zm3 0zm2 0zm1 0zm1 0zm1 0zm3 0zm1 0zm1 0zm1 0zm3 0zm1 0zm15 0zm1 0zm3 0zm2 0zm1 0zm16 0zm2 0zm16 0zm20 0zm6 0zm-130 1zm1 0zm1 0zm1 0zm2 0zm1 0zm1 0zm1 0zm1 0zm1 0zm1 0zm1 0zm1 0zm1 0zm1 0zm1 0zm1 0zm1 0zm1 0zm1 0zm1 0zm1 0zm1 0zm1 0zm1 0zm1 0zm1 0zm1 0zm1 0zm1 0zm1 0zm1 0zm2 0zm1 0zm1 0zm2 0zm3 0zm2 0zm1 0zm2 0zm2 0zm1 0zm1 0zm1 0zm1 0zm3 0zm1 0zm1 0zm4 0zm4 0zm3 0zm2 0zm4 0zm1 0zm2 0zm5 0zm1 0zm13 0zm19 0zm9 0zm1 0zm-125 1zm3 0zm1 0zm1 0zm1 0zm1 0zm2 0zm1 0zm1 0zm1 0zm1 0zm1 0zm1 0zm1 0zm1 0zm1 0zm1 0zm1 0zm1 0zm1 0zm1 0zm1 0zm1 0zm1 0zm1 0zm1 0zm1 0zm1 0zm1 0zm1 0zm1 0zm4 0zm2 0zm2 0zm1 0zm2 0zm3 0zm1 0zm9 0zm2 0zm2 0zm3 0zm2 0zm8 0zm3 0zm7 0zm2 0zm8 0zm11 0zm10 0zm14 0zm9 0zm-139 1zm2 0zm2 0zm1 0zm1 0zm1 0zm1 0zm1 0zm1 0zm1 0zm1 0zm1 0zm1 0zm1 0zm1 0zm1 0zm1 0zm1 0zm1 0zm1 0zm1 0zm1 0zm1 0zm1 0zm1 0zm1 0zm1 0zm1 0zm1 0zm1 0zm1 0zm1 0zm2 0zm3 0zm1 0zm2 0zm1 0zm1 0zm1 0zm1 0zm1 0zm2 0zm1 0zm1 0zm1 0zm1 0zm9 0zm1 0zm2 0zm7 0zm5 0zm2 0zm5 0zm4 0zm2 0zm8 0zm2 0zm8 0zm4 0zm2 0zm29 0zm-139 1zm2 0zm1 0zm1 0zm1 0zm1 0zm1 0zm1 0zm1 0zm1 0zm1 0zm1 0zm1 0zm1 0zm1 0zm1 0zm1 0zm1 0zm1 0zm1 0zm1 0zm1 0zm1 0zm1 0zm1 0zm1 0zm1 0zm1 0zm1 0zm1 0zm1 0zm1 0zm1 0zm1 0zm1 0zm2 0zm1 0zm1 0zm4 0zm2 0zm2 0zm1 0zm1 0zm3 0zm9 0zm1 0zm7 0zm5 0zm1 0zm6 0zm4 0zm5 0zm3 0zm5 0zm1 0zm1 0zm18 0zm5 0zm8 0zm5 0zm-139 1zm2 0zm1 0zm1 0zm1 0zm2 0zm1 0zm1 0zm1 0zm1 0zm1 0zm1 0zm1 0zm1 0zm1 0zm1 0zm1 0zm1 0zm1 0zm1 0zm1 0zm1 0zm1 0zm1 0zm1 0zm1 0zm1 0zm1 0zm1 0zm1 0zm2 0zm1 0zm1 0zm1 0zm1 0zm1 0zm1 0zm2 0zm1 0zm1 0zm1 0zm1 0zm2 0zm1 0zm1 0zm1 0zm1 0zm1 0zm2 0zm2 0zm4 0zm3 0zm2 0zm3 0zm3 0zm10 0zm21 0zm10 0zm7 0zm1 0zm9 0zm13 0zm-141 1zm2 0zm1 0zm1 0zm1 0zm1 0zm1 0zm1 0zm1 0zm1 0zm1 0zm1 0zm1 0zm1 0zm2 0zm1 0zm1 0zm1 0zm1 0zm1 0zm1 0zm1 0zm1 0zm1 0zm1 0zm1 0zm1 0zm1 0zm1 0zm1 0zm1 0zm2 0zm2 0zm5 0zm1 0zm2 0zm3 0zm2 0zm1 0zm2 0zm6 0zm1 0zm2 0zm6 0zm4 0zm2 0zm1 0zm4 0zm7 0zm2 0zm15 0zm1 0zm14 0zm5 0zm9 0zm15 0zm-146 1zm1 0zm1 0zm1 0zm1 0zm1 0zm1 0zm1 0zm1 0zm1 0zm1 0zm1 0zm1 0zm1 0zm2 0zm1 0zm1 0zm1 0zm1 0zm1 0zm1 0zm1 0zm1 0zm1 0zm1 0zm1 0zm1 0zm1 0zm1 0zm1 0zm1 0zm1 0zm2 0zm2 0zm2 0zm1 0zm1 0zm2 0zm3 0zm4 0zm6 0zm1 0zm5 0zm2 0zm2 0zm4 0zm10 0zm18 0zm4 0zm33 0zm6 0zm-141 1zm1 0zm1 0zm1 0zm1 0zm1 0zm1 0zm1 0zm2 0zm1 0zm1 0zm1 0zm2 0zm1 0zm1 0zm1 0zm1 0zm1 0zm1 0zm1 0zm1 0zm1 0zm1 0zm1 0zm2 0zm1 0zm1 0zm1 0zm1 0zm1 0zm1 0zm4 0zm2 0zm1 0zm2 0zm1 0zm1 0zm5 0zm1 0zm1 0zm1 0zm2 0zm1 0zm2 0zm3 0zm4 0zm3 0zm2 0zm1 0zm2 0zm4 0zm2 0zm10 0zm1 0zm1 0zm19 0zm1 0zm6 0zm21 0zm-137 1zm1 0zm1 0zm1 0zm1 0zm1 0zm1 0zm1 0zm2 0zm1 0zm2 0zm1 0zm1 0zm1 0zm1 0zm1 0zm1 0zm1 0zm1 0zm1 0zm1 0zm1 0zm2 0zm1 0zm1 0zm1 0zm1 0zm1 0zm1 0zm2 0zm1 0zm1 0zm1 0zm1 0zm2 0zm1 0zm2 0zm1 0zm1 0zm2 0zm3 0zm9 0zm2 0zm4 0zm3 0zm5 0zm1 0zm1 0zm4 0zm2 0zm8 0zm2 0zm21 0zm2 0zm9 0zm2 0zm-121 1zm1 0zm1 0zm1 0zm1 0zm1 0zm2 0zm1 0zm2 0zm1 0zm1 0zm1 0zm1 0zm1 0zm1 0zm1 0zm1 0zm1 0zm1 0zm1 0zm1 0zm1 0zm2 0zm1 0zm1 0zm1 0zm1 0zm1 0zm1 0zm1 0zm1 0zm5 0zm2 0zm1 0zm1 0zm2 0zm1 0zm2 0zm1 0zm2 0zm1 0zm3 0zm1 0zm17 0zm5 0zm10 0zm13 0zm3 0zm10 0zm13 0zm-126 1zm2 0zm1 0zm1 0zm1 0zm1 0zm1 0zm1 0zm1 0zm1 0zm1 0zm1 0zm1 0zm1 0zm1 0zm1 0zm1 0zm1 0zm1 0zm1 0zm1 0zm2 0zm2 0zm1 0zm2 0zm1 0zm1 0zm1 0zm1 0zm3 0zm1 0zm3 0zm3 0zm2 0zm1 0zm1 0zm2 0zm2 0zm3 0zm1 0zm2 0zm4 0zm9 0zm1 0zm3 0zm1 0zm2 0zm2 0zm1 0zm3 0zm3 0zm3 0zm8 0zm6 0zm6 0zm7 0zm3 0zm5 0zm11 0zm9 0zm-146 1zm1 0zm1 0zm1 0zm2 0zm1 0zm1 0zm1 0zm1 0zm1 0zm1 0zm1 0zm1 0zm1 0zm1 0zm1 0zm1 0zm1 0zm1 0zm1 0zm1 0zm1 0zm1 0zm1 0zm1 0zm1 0zm1 0zm1 0zm1 0zm1 0zm2 0zm1 0zm1 0zm1 0zm1 0zm3 0zm1 0zm1 0zm1 0zm1 0zm1 0zm2 0zm1 0zm9 0zm2 0zm1 0zm1 0zm3 0zm2 0zm2 0zm3 0zm1 0zm2 0zm1 0zm1 0zm1 0zm2 0zm3 0zm4 0zm9 0zm1 0zm10 0zm7 0zm30 0zm-142 1zm1 0zm1 0zm1 0zm1 0zm1 0zm1 0zm1 0zm1 0zm1 0zm1 0zm1 0zm1 0zm1 0zm1 0zm1 0zm1 0zm1 0zm1 0zm1 0zm4 0zm1 0zm1 0zm1 0zm1 0zm1 0zm1 0zm1 0zm1 0zm1 0zm1 0zm3 0zm1 0zm1 0zm2 0zm1 0zm1 0zm1 0zm1 0zm1 0zm1 0zm5 0zm2 0zm1 0zm5 0zm3 0zm1 0zm1 0zm4 0zm9 0zm1 0zm7 0zm1 0zm3 0zm2 0zm3 0zm2 0zm9 0zm2 0zm31 0zm2 0zm1 0zm4 0zm-144 1zm2 0zm1 0zm1 0zm1 0zm1 0zm2 0zm1 0zm1 0zm1 0zm1 0zm1 0zm1 0zm1 0zm1 0zm1 0zm1 0zm2 0zm1 0zm1 0zm1 0zm1 0zm1 0zm1 0zm2 0zm1 0zm2 0zm1 0zm1 0zm1 0zm1 0zm1 0zm1 0zm1 0zm2 0zm2 0zm1 0zm1 0zm2 0zm2 0zm1 0zm2 0zm4 0zm2 0zm2 0zm12 0zm1 0zm7 0zm1 0zm2 0zm2 0zm3 0zm30 0zm8 0zm-125 1zm2 0zm1 0zm1 0zm1 0zm2 0zm1 0zm1 0zm1 0zm1 0zm1 0zm2 0zm1 0zm1 0zm1 0zm1 0zm2 0zm1 0zm1 0zm1 0zm1 0zm1 0zm1 0zm1 0zm1 0zm1 0zm1 0zm1 0zm4 0zm1 0zm1 0zm2 0zm3 0zm2 0zm1 0zm2 0zm3 0zm1 0zm1 0zm1 0zm2 0zm2 0zm2 0zm2 0zm16 0zm6 0zm4 0zm4 0zm4 0zm2 0zm29 0zm10 0zm-134 1zm1 0zm1 0zm1 0zm1 0zm1 0zm2 0zm1 0zm1 0zm1 0zm1 0zm1 0zm2 0zm1 0zm1 0zm1 0zm1 0zm2 0zm1 0zm1 0zm1 0zm1 0zm1 0zm1 0zm2 0zm2 0zm1 0zm1 0zm7 0zm3 0zm1 0zm2 0zm1 0zm6 0zm1 0zm2 0zm1 0zm4 0zm5 0zm1 0zm4 0zm6 0zm5 0zm13 0zm1 0zm1 0zm8 0zm1 0zm6 0zm4 0zm29 0zm-146 1zm5 0zm1 0zm2 0zm1 0zm1 0zm1 0zm1 0zm1 0zm1 0zm1 0zm1 0zm1 0zm1 0zm1 0zm1 0zm1 0zm1 0zm1 0zm1 0zm1 0zm1 0zm1 0zm1 0zm3 0zm3 0zm1 0zm1 0zm1 0zm2 0zm3 0zm1 0zm1 0zm1 0zm1 0zm2 0zm2 0zm1 0zm4 0zm1 0zm7 0zm4 0zm2 0zm2 0zm7 0zm7 0zm5 0zm15 0zm2 0zm12 0zm4 0zm5 0zm-129 1zm1 0zm1 0zm1 0zm1 0zm1 0zm2 0zm2 0zm2 0zm1 0zm1 0zm1 0zm1 0zm1 0zm1 0zm1 0zm1 0zm1 0zm1 0zm1 0zm1 0zm1 0zm1 0zm1 0zm1 0zm1 0zm1 0zm2 0zm2 0zm1 0zm1 0zm7 0zm4 0zm2 0zm5 0zm1 0zm7 0zm3 0zm2 0zm13 0zm6 0zm6 0zm9 0zm17 0zm18 0zm-135 1zm3 0zm1 0zm1 0zm2 0zm1 0zm1 0zm2 0zm1 0zm1 0zm1 0zm1 0zm1 0zm2 0zm1 0zm1 0zm1 0zm1 0zm1 0zm1 0zm1 0zm1 0zm1 0zm1 0zm1 0zm1 0zm1 0zm1 0zm1 0zm1 0zm4 0zm1 0zm3 0zm1 0zm1 0zm2 0zm3 0zm1 0zm1 0zm5 0zm3 0zm1 0zm4 0zm1 0zm16 0zm4 0zm3 0zm1 0zm2 0zm16 0zm-106 1zm3 0zm2 0zm1 0zm1 0zm1 0zm1 0zm2 0zm1 0zm1 0zm1 0zm1 0zm1 0zm1 0zm1 0zm1 0zm1 0zm1 0zm1 0zm1 0zm1 0zm1 0zm1 0zm1 0zm1 0zm2 0zm1 0zm1 0zm1 0zm1 0zm3 0zm2 0zm3 0zm1 0zm2 0zm1 0zm4 0zm1 0zm16 0zm1 0zm3 0zm11 0zm18 0zm5 0zm5 0zm18 0zm-128 1zm1 0zm2 0zm1 0zm1 0zm1 0zm1 0zm1 0zm1 0zm1 0zm3 0zm1 0zm1 0zm1 0zm2 0zm1 0zm1 0zm3 0zm5 0zm1 0zm2 0zm1 0zm1 0zm1 0zm5 0zm1 0zm1 0zm1 0zm1 0zm3 0zm6 0zm4 0zm2 0zm14 0zm1 0zm17 0zm12 0zm22 0zm-124 1zm5 0zm2 0zm1 0zm1 0zm1 0zm1 0zm1 0zm3 0zm1 0zm1 0zm1 0zm1 0zm2 0zm1 0zm1 0zm3 0zm1 0zm2 0zm1 0zm2 0zm3 0zm4 0zm1 0zm1 0zm6 0zm1 0zm1 0zm7 0zm1 0zm3 0zm1 0zm1 0zm2 0zm3 0zm9 0zm2 0zm13 0zm1 0zm14 0zm12 0zm3 0zm5 0zm6 0zm6 0zm1 0zm-139 1zm1 0zm1 0zm1 0zm4 0zm2 0zm1 0zm1 0zm1 0zm2 0zm3 0zm1 0zm1 0zm3 0zm1 0zm1 0zm2 0zm1 0zm1 0zm1 0zm5 0zm1 0zm1 0zm1 0zm1 0zm6 0zm1 0zm3 0zm1 0zm2 0zm1 0zm1 0zm3 0zm2 0zm2 0zm3 0zm3 0zm5 0zm2 0zm3 0zm6 0zm1 0zm8 0zm42 0zm-133 1zm1 0zm1 0zm2 0zm2 0zm3 0zm2 0zm1 0zm1 0zm3 0zm2 0zm1 0zm1 0zm1 0zm1 0zm2 0zm2 0zm1 0zm5 0zm2 0zm1 0zm12 0zm1 0zm1 0zm9 0zm3 0zm4 0zm3 0zm10 0zm16 0zm26 0zm-120 1zm2 0zm2 0zm1 0zm1 0zm2 0zm3 0zm4 0zm1 0zm1 0zm1 0zm1 0zm1 0zm1 0zm1 0zm1 0zm1 0zm1 0zm1 0zm4 0zm2 0zm1 0zm4 0zm1 0zm3 0zm1 0zm3 0zm4 0zm1 0zm2 0zm1 0zm2 0zm5 0zm3 0zm16 0zm18 0zm5 0zm15 0zm-116 1zm4 0zm2 0zm7 0zm1 0zm1 0zm1 0zm1 0zm2 0zm1 0zm1 0zm1 0zm2 0zm1 0zm1 0zm1 0zm5 0zm10 0zm1 0zm4 0zm4 0zm6 0zm10 0zm1 0zm3 0zm9 0zm25 0zm14 0zm-121 1zm2 0zm4 0zm5 0zm1 0zm3 0zm1 0zm1 0zm3 0zm1 0zm1 0zm1 0zm1 0zm2 0zm4 0zm4 0zm1 0zm1 0zm1 0zm3 0zm2 0zm4 0zm2 0zm2 0zm2 0zm16 0zm2 0zm15 0zm5 0zm11 0zm4 0zm-104 1zm6 0zm1 0zm6 0zm3 0zm3 0zm1 0zm1 0zm1 0zm2 0zm1 0zm6 0zm2 0zm7 0zm3 0zm8 0zm1 0zm20 0zm1 0zm19 0zm-89 1zm1 0zm3 0zm2 0zm2 0zm1 0zm3 0zm2 0zm3 0zm2 0zm2 0zm3 0zm2 0zm6 0zm2 0zm5 0zm2 0zm6 0zm5 0zm2 0zm8 0zm7 0zm16 0zm7 0zm20 0zm-115 1zm1 0zm2 0zm2 0zm3 0zm6 0zm2 0zm1 0zm3 0zm1 0zm2 0zm1 0zm3 0zm3 0zm1 0zm4 0zm1 0zm1 0zm2 0zm43 0zm3 0zm58 0zm3 0zm-143 1zm4 0zm3 0zm3 0zm1 0zm2 0zm1 0zm2 0zm1 0zm1 0zm5 0zm5 0zm3 0zm1 0zm7 0zm4 0zm3 0zm8 0zm4 0zm15 0zm7 0zm55 0zm-135 1zm3 0zm6 0zm1 0zm1 0zm1 0zm3 0zm1 0zm28 0zm1 0zm2 0zm1 0zm1 0zm1 0zm3 0zm8 0zm22 0zm-81 1zm3 0zm6 0zm1 0zm1 0zm1 0zm1 0zm1 0zm1 0zm1 0zm1 0zm4 0zm12 0zm2 0zm1 0zm1 0zm1 0zm5 0zm2 0zm2 0zm15 0zm12 0zm23 0zm5 0zm13 0zm-121 1zm10 0zm1 0zm2 0zm3 0zm3 0zm1 0zm5 0zm2 0zm8 0zm6 0zm2 0zm2 0zm1 0zm2 0zm1 0zm44 0zm4 0zm-92 1zm15 0zm17 0zm5 0zm17 0zm1 0zm16 0zm35 0zm-102 1zm2 0zm3 0zm5 0zm3 0zm3 0zm1 0zm7 0zm1 0zm2 0zm11 0zm4 0zm4 0zm-50 1zm1 0zm4 0zm5 0zm5 0zm6 0zm5 0zm4 0zm7 0zm1 0zm3 0zm7 0zm-45 1zm8 0zm6 0zm7 0zm6 0zm19 0zm2 0zm25 0zm19 0zm-96 1zm5 0zm1 0zm10 0zm5 0zm7 0zm9 0zm3 0zm20 0zm47 0zm-99 1zm9 0zm9 0zm4 0zm8 0zm55 0zm33 0zm-116 1zm2 0zm5 0zm10 0zm15 0zm7 0zm3 0zm12 0zm3 0zm2 0zm-71 1zm11 0zm4 0zm5 0zm3 0zm5 0zm4 0zm4 0zm4 0zm6 0zm-32 1zm3 0zm9 0zm4 0zm2 0zm-28 1zm21 0zm-22 1zm5 0zm22 0zm2 0zm8 0zm4 0zm26 0zm20 0zm-58 1zm23 0zm3 0zm80 0zm-119 1zm15 0zm-13 1zm5 2zm3 0zm-21 1zm40 1zm-25 1zm19 0zm46 0zm-85 1zm14 0zm-3 1zm-6 1zm63 0zm64 0zm-110 1zm15 0zm-27 3zm2 2zm15 3z"/>
<path transform="translate(364.5 333.5) scale(1 -1)" d="M0 0m47 1zm-15 1zm2 0zm-24 1zm24 0zm-10 2zm3 0zm-20 1zm81 0zm43 0zm-117 1zm27 0zm7 1zm97 0zm-103 1zm3 0zm-23 1zm27 0zm1 0zm55 0zm-104 1zm42 1zm22 0zm-59 1zm56 1zm-10 1zm14 0zm7 0zm-2 2zm7 0zm-25 1zm-35 2zm28 0zm2 0zm9 0zm4 0zm6 0zm32 0zm17 0zm-110 1zm35 0zm16 0zm5 0zm20 0zm-36 1zm13 0zm10 0zm16 0zm-79 1zm28 0zm7 0zm5 0zm15 0zm4 0zm1 0zm11 0zm10 0zm-68 1zm16 0zm5 0zm11 0zm20 0zm15 0zm2 0zm-52 1zm3 0zm10 0zm12 0zm4 0zm3 0zm-39 1zm10 0zm4 0zm4 0zm2 0zm4 0zm5 0zm5 0zm1 0zm10 0zm5 0zm-75 1zm28 0zm1 0zm2 0zm3 0zm3 0zm2 0zm2 0zm9 0zm3 0zm-29 1zm4 0zm1 0zm1 0zm1 0zm1 0zm3 0zm4 0zm6 0zm18 0zm-51 1zm8 0zm5 0zm14 0zm6 0zm2 0zm2 0zm2 0zm4 0zm2 0zm4 0zm2 0zm1 0zm6 0zm7 0zm4 0zm-59 1zm5 0zm8 0zm19 0zm1 0zm2 0zm9 0zm4 0zm6 0zm5 0zm31 0zm-114 1zm14 0zm11 0zm12 0zm2 0zm6 0zm3 0zm1 0zm10 0zm1 0zm1 0zm4 0zm10 0zm28 0zm-84 1zm7 0zm10 0zm3 0zm3 0zm1 0zm3 0zm1 0zm1 0zm2 0zm1 0zm5 0zm2 0zm4 0zm9 0zm45 0zm-106 1zm9 0zm14 0zm3 0zm1 0zm3 0zm9 0zm8 0zm3 0zm10 0zm8 0zm11 0zm7 0zm52 0zm-149 1zm24 0zm5 0zm4 0zm5 0zm1 0zm5 0zm3 0zm5 0zm1 0zm2 0zm4 0zm3 0zm5 0zm7 0zm7 0zm8 0zm-58 1zm1 0zm4 0zm11 0zm1 0zm2 0zm6 0zm1 0zm4 0zm5 0zm1 0zm2 0zm1 0zm2 0zm12 0zm4 0zm56 0zm-135 1zm13 0zm16 0zm1 0zm2 0zm1 0zm5 0zm1 0zm1 0zm2 0zm1 0zm3 0zm1 0zm1 0zm3 0zm1 0zm2 0zm4 0zm1 0zm1 0zm7 0zm1 0zm9 0zm53 0zm-118 1zm7 0zm5 0zm3 0zm6 0zm2 0zm3 0zm1 0zm1 0zm1 0zm2 0zm1 0zm3 0zm1 0zm1 0zm2 0zm1 0zm1 0zm1 0zm3 0zm5 0zm1 0zm3 0zm1 0zm7 0zm7 0zm12 0zm-74 1zm1 0zm8 0zm3 0zm1 0zm2 0zm5 0zm5 0zm1 0zm1 0zm2 0zm2 0zm4 0zm8 0zm2 0zm2 0zm2 0zm1 0zm1 0zm28 0zm-82 1zm5 0zm2 0zm1 0zm1 0zm1 0zm4 0zm1 0zm2 0zm3 0zm5 0zm2 0zm1 0zm1 0zm1 0zm8 0zm1 0zm1 0zm2 0zm1 0zm1 0zm5 0zm1 0zm6 0zm40 0zm-113 1zm16 0zm3 0zm3 0zm2 0zm4 0zm2 0zm2 0zm1 0zm1 0zm2 0zm1 0zm3 0zm2 0zm1 0zm2 0zm1 0zm1 0zm2 0zm2 0zm4 0zm1 0zm1 0zm1 0zm5 0zm-54 1zm7 0zm1 0zm3 0zm4 0zm5 0zm3 0zm3 0zm1 0zm6 0zm3 0zm4 0zm2 0zm4 0zm2 0zm1 0zm2 0zm1 0zm4 0zm8 0zm1 0zm3 0zm5 0zm1 0zm14 0zm-90 1zm9 0zm8 0zm1 0zm1 0zm1 0zm1 0zm5 0zm2 0zm1 0zm1 0zm1 0zm2 0zm5 0zm1 0zm2 0zm2 0zm2 0zm2 0zm2 0zm4 0zm2 0zm3 0zm2 0zm3 0zm5 0zm2 0zm3 0zm-75 1zm9 0zm4 0zm8 0zm2 0zm3 0zm2 0zm1 0zm1 0zm2 0zm4 0zm2 0zm1 0zm7 0zm1 0zm1 0zm1 0zm2 0zm1 0zm2 0zm1 0zm1 0zm1 0zm1 0zm3 0zm1 0zm1 0zm4 0zm1 0zm1 0zm4 0zm1 0zm-61 1zm8 0zm4 0zm1 0zm8 0zm4 0zm1 0zm1 0zm1 0zm1 0zm1 0zm1 0zm1 0zm3 0zm2 0zm2 0zm2 0zm2 0zm2 0zm1 0zm2 0zm7 0zm7 0zm6 0zm9 0zm6 0zm-107 1zm9 0zm6 0zm10 0zm5 0zm3 0zm1 0zm1 0zm2 0zm1 0zm2 0zm2 0zm3 0zm1 0zm1 0zm1 0zm4 0zm1 0zm1 0zm1 0zm1 0zm1 0zm2 0zm8 0zm1 0zm4 0zm2 0zm10 0zm5 0zm-79 1zm3 0zm6 0zm10 0zm1 0zm2 0zm4 0zm2 0zm1 0zm2 0zm1 0zm1 0zm2 0zm1 0zm9 0zm1 0zm1 0zm1 0zm1 0zm1 0zm1 0zm9 0zm1 0zm2 0zm2 0zm7 0zm7 0zm6 0zm3 0zm3 0zm-79 1zm19 0zm1 0zm3 0zm2 0zm1 0zm1 0zm1 0zm1 0zm2 0zm1 0zm2 0zm3 0zm1 0zm4 0zm1 0zm2 0zm4 0zm3 0zm1 0zm6 0zm2 0zm2 0zm1 0zm-70 1zm10 0zm3 0zm4 0zm2 0zm5 0zm3 0zm5 0zm1 0zm7 0zm2 0zm1 0zm3 0zm1 0zm2 0zm5 0zm3 0zm2 0zm4 0zm6 0zm8 0zm49 0zm-131 1zm1 0zm13 0zm3 0zm1 0zm3 0zm3 0zm2 0zm1 0zm2 0zm5 0zm1 0zm1 0zm1 0zm4 0zm3 0zm4 0zm1 0zm1 0zm4 0zm3 0zm3 0zm6 0zm3 0zm3 0zm2 0zm16 0zm2 0zm12 0zm-98 1zm9 0zm4 0zm5 0zm2 0zm2 0zm1 0zm2 0zm1 0zm5 0zm4 0zm1 0zm2 0zm1 0zm1 0zm4 0zm3 0zm1 0zm4 0zm1 0zm2 0zm2 0zm6 0zm4 0zm-83 1zm15 0zm14 0zm3 0zm4 0zm4 0zm1 0zm1 0zm1 0zm1 0zm5 0zm1 0zm1 0zm1 0zm1 0zm1 0zm1 0zm1 0zm1 0zm3 0zm2 0zm1 0zm1 0zm1 0zm2 0zm1 0zm1 0zm5 0zm2 0zm1 0zm2 0zm5 0zm2 0zm2 0zm13 0zm15 0zm-102 1zm3 0zm4 0zm4 0zm2 0zm1 0zm6 0zm1 0zm1 0zm5 0zm1 0zm1 0zm1 0zm1 0zm4 0zm4 0zm3 0zm1 0zm1 0zm4 0zm2 0zm2 0zm1 0zm1 0zm2 0zm2 0zm5 0zm9 0zm2 0zm-68 1zm10 0zm3 0zm1 0zm1 0zm2 0zm2 0zm2 0zm1 0zm3 0zm1 0zm1 0zm3 0zm2 0zm1 0zm1 0zm1 0zm1 0zm1 0zm1 0zm1 0zm2 0zm1 0zm1 0zm3 0zm2 0zm1 0zm1 0zm2 0zm2 0zm3 0zm4 0zm3 0zm2 0zm2 0zm1 0zm10 0zm2 0zm7 0zm-104 1zm25 0zm1 0zm3 0zm1 0zm1 0zm2 0zm3 0zm1 0zm1 0zm2 0zm1 0zm1 0zm2 0zm5 0zm2 0zm3 0zm1 0zm1 0zm1 0zm4 0zm4 0zm1 0zm1 0zm2 0zm2 0zm1 0zm4 0zm5 0zm3 0zm3 0zm1 0zm46 0zm-116 1zm3 0zm9 0zm2 0zm2 0zm2 0zm3 0zm5 0zm2 0zm3 0zm1 0zm1 0zm1 0zm1 0zm2 0zm2 0zm1 0zm1 0zm1 0zm2 0zm1 0zm2 0zm4 0zm2 0zm1 0zm3 0zm2 0zm4 0zm4 0zm22 0zm-103 1zm10 0zm8 0zm9 0zm1 0zm1 0zm3 0zm2 0zm2 0zm2 0zm1 0zm2 0zm1 0zm1 0zm2 0zm1 0zm4 0zm2 0zm1 0zm1 0zm1 0zm1 0zm2 0zm4 0zm1 0zm1 0zm2 0zm2 0zm4 0zm3 0zm1 0zm6 0zm3 0zm2 0zm3 0zm-90 1zm15 0zm4 0zm2 0zm1 0zm1 0zm5 0zm1 0zm3 0zm4 0zm1 0zm1 0zm6 0zm1 0zm1 0zm1 0zm1 0zm2 0zm6 0zm3 0zm1 0zm1 0zm1 0zm1 0zm2 0zm1 0zm1 0zm1 0zm1 0zm3 0zm1 0zm4 0zm2 0zm4 0zm1 0zm6 0zm7 0zm-100 1zm12 0zm6 0zm6 0zm1 0zm1 0zm1 0zm3 0zm3 0zm3 0zm3 0zm3 0zm1 0zm1 0zm4 0zm3 0zm1 0zm2 0zm6 0zm2 0zm1 0zm1 0zm5 0zm1 0zm2 0zm1 0zm1 0zm1 0zm3 0zm3 0zm3 0zm2 0zm3 0zm-61 1zm1 0zm8 0zm1 0zm1 0zm3 0zm1 0zm1 0zm3 0zm1 0zm2 0zm1 0zm1 0zm1 0zm1 0zm2 0zm1 0zm2 0zm2 0zm2 0zm2 0zm2 0zm2 0zm2 0zm1 0zm2 0zm3 0zm1 0zm2 0zm3 0zm1 0zm2 0zm1 0zm18 0zm-91 1zm9 0zm1 0zm7 0zm3 0zm4 0zm1 0zm4 0zm1 0zm1 0zm2 0zm3 0zm1 0zm1 0zm2 0zm2 0zm1 0zm1 0zm1 0zm2 0zm1 0zm1 0zm2 0zm1 0zm2 0zm1 0zm1 0zm2 0zm3 0zm2 0zm1 0zm1 0zm2 0zm1 0zm1 0zm5 0zm11 0zm-84 1zm4 0zm7 0zm1 0zm3 0zm4 0zm1 0zm2 0zm1 0zm1 0zm1 0zm1 0zm1 0zm4 0zm1 0zm1 0zm1 0zm1 0zm1 0zm3 0zm1 0zm5 0zm1 0zm1 0zm1 0zm1 0zm1 0zm1 0zm1 0zm1 0zm2 0zm1 0zm8 0zm2 0zm1 0zm4 0zm3 0zm4 0zm1 0zm4 0zm1 0zm-102 1zm9 0zm18 0zm1 0zm2 0zm3 0zm7 0zm4 0zm2 0zm1 0zm1 0zm1 0zm2 0zm1 0zm1 0zm3 0zm1 0zm1 0zm1 0zm2 0zm3 0zm1 0zm3 0zm4 0zm2 0zm1 0zm3 0zm3 0zm2 0zm1 0zm1 0zm1 0zm2 0zm4 0zm1 0zm4 0zm3 0zm1 0zm14 0zm-102 1zm5 0zm2 0zm5 0zm4 0zm2 0zm2 0zm1 0zm2 0zm2 0zm1 0zm1 0zm3 0zm1 0zm1 0zm2 0zm2 0zm1 0zm1 0zm1 0zm1 0zm2 0zm1 0zm4 0zm5 0zm1 0zm1 0zm2 0zm1 0zm1 0zm1 0zm2 0zm1 0zm5 0zm1 0zm2 0zm1 0zm2 0zm2 0zm3 0zm2 0zm7 0zm-91 1zm7 0zm1 0zm3 0zm4 0zm4 0zm2 0zm1 0zm1 0zm3 0zm1 0zm2 0zm6 0zm1 0zm2 0zm3 0zm2 0zm1 0zm2 0zm1 0zm2 0zm1 0zm1 0zm1 0zm1 0zm1 0zm1 0zm2 0zm1 0zm2 0zm2 0zm1 0zm1 0zm3 0zm1 0zm1 0zm1 0zm5 0zm1 0zm1 0zm2 0zm2 0zm4 0zm2 0zm2 0zm-69 1zm2 0zm2 0zm5 0zm2 0zm4 0zm1 0zm1 0zm5 0zm2 0zm3 0zm1 0zm1 0zm1 0zm1 0zm3 0zm2 0zm1 0zm2 0zm1 0zm1 0zm2 0zm3 0zm1 0zm1 0zm1 0zm1 0zm1 0zm1 0zm2 0zm1 0zm1 0zm1 0zm4 0zm1 0zm2 0zm5 0zm8 0zm5 0zm-109 1zm16 0zm3 0zm3 0zm4 0zm5 0zm3 0zm4 0zm1 0zm4 0zm2 0zm5 0zm2 0zm3 0zm1 0zm1 0zm1 0zm1 0zm1 0zm1 0zm3 0zm1 0zm1 0zm2 0zm1 0zm1 0zm1 0zm1 0zm1 0zm1 0zm1 0zm4 0zm2 0zm1 0zm1 0zm1 0zm1 0zm1 0zm4 0zm4 0zm2 0zm12 0zm-104 1zm19 0zm2 0zm4 0zm1 0zm1 0zm7 0zm1 0zm1 0zm1 0zm2 0zm1 0zm1 0zm1 0zm3 0zm2 0zm1 0zm1 0zm1 0zm1 0zm1 0zm1 0zm1 0zm1 0zm1 0zm1 0zm2 0zm1 0zm1 0zm2 0zm1 0zm2 0zm2 0zm2 0zm1 0zm2 0zm1 0zm1 0zm1 0zm1 0zm3 0zm2 0zm2 0zm1 0zm2 0zm3 0zm2 0zm3 0zm7 0zm-98 1zm10 0zm6 0zm5 0zm1 0zm1 0zm2 0zm1 0zm2 0zm2 0zm3 0zm2 0zm1 0zm2 0zm1 0zm3 0zm1 0zm1 0zm5 0zm1 0zm2 0zm2 0zm1 0zm1 0zm2 0zm1 0zm1 0zm1 0zm2 0zm1 0zm1 0zm1 0zm2 0zm1 0zm1 0zm2 0zm1 0zm3 0zm1 0zm3 0zm1 0zm1 0zm6 0zm4 0zm6 0zm-106 1zm18 0zm4 0zm1 0zm1 0zm2 0zm4 0zm1 0zm4 0zm3 0zm1 0zm3 0zm1 0zm1 0zm4 0zm1 0zm1 0zm1 0zm1 0zm1 0zm1 0zm2 0zm1 0zm2 0zm1 0zm1 0zm1 0zm2 0zm1 0zm1 0zm1 0zm1 0zm1 0zm1 0zm1 0zm1 0zm2 0zm1 0zm1 0zm1 0zm1 0zm1 0zm1 0zm2 0zm1 0zm2 0zm1 0zm2 0zm6 0zm3 0zm3 0zm18 0zm2 0zm-103 1zm1 0zm4 0zm1 0zm5 0zm3 0zm4 0zm2 0zm1 0zm1 0zm1 0zm1 0zm1 0zm3 0zm1 0zm1 0zm1 0zm1 0zm1 0zm2 0zm1 0zm1 0zm1 0zm2 0zm1 0zm1 0zm2 0zm2 0zm3 0zm1 0zm1 0zm1 0zm1 0zm2 0zm1 0zm1 0zm1 0zm4 0zm2 0zm2 0zm1 0zm2 0zm7 0zm3 0zm5 0zm1 0zm1 0zm14 0zm-92 1zm2 0zm1 0zm3 0zm2 0zm1 0zm1 0zm1 0zm1 0zm3 0zm1 0zm2 0zm2 0zm1 0zm1 0zm1 0zm2 0zm1 0zm1 0zm1 0zm1 0zm2 0zm2 0zm1 0zm1 0zm4 0zm1 0zm1 0zm1 0zm1 0zm1 0zm1 0zm1 0zm1 0zm1 0zm3 0zm3 0zm1 0zm1 0zm4 0zm2 0zm2 0zm1 0zm3 0zm2 0zm1 0zm6 0zm2 0zm14 0zm-111 1zm5 0zm1 0zm9 0zm3 0zm3 0zm1 0zm3 0zm3 0zm3 0zm1 0zm1 0zm1 0zm1 0zm2 0zm2 0zm1 0zm1 0zm1 0zm1 0zm1 0zm1 0zm1 0zm1 0zm1 0zm1 0zm1 0zm1 0zm1 0zm1 0zm1 0zm1 0zm1 0zm1 0zm1 0zm1 0zm1 0zm3 0zm1 0zm1 0zm1 0zm1 0zm1 0zm1 0zm1 0zm1 0zm1 0zm1 0zm1 0zm1 0zm1 0zm1 0zm1 0zm1 0zm2 0zm1 0zm1 0zm3 0zm1 0zm3 0zm2 0zm1 0zm10 0zm-103 1zm17 0zm2 0zm2 0zm1 0zm4 0zm2 0zm2 0zm1 0zm2 0zm1 0zm1 0zm1 0zm1 0zm1 0zm1 0zm2 0zm1 0zm1 0zm2 0zm1 0zm1 0zm1 0zm1 0zm1 0zm1 0zm1 0zm1 0zm1 0zm1 0zm1 0zm1 0zm2 0zm1 0zm1 0zm1 0zm1 0zm1 0zm1 0zm1 0zm1 0zm1 0zm1 0zm1 0zm2 0zm3 0zm1 0zm1 0zm1 0zm1 0zm1 0zm1 0zm2 0zm2 0zm1 0zm1 0zm2 0zm4 0zm4 0zm5 0zm-96 1zm4 0zm1 0zm1 0zm3 0zm2 0zm3 0zm4 0zm1 0zm1 0zm1 0zm2 0zm1 0zm2 0zm1 0zm1 0zm1 0zm2 0zm3 0zm1 0zm1 0zm1 0zm1 0zm2 0zm1 0zm2 0zm1 0zm1 0zm1 0zm1 0zm1 0zm1 0zm1 0zm1 0zm1 0zm1 0zm1 0zm1 0zm1 0zm1 0zm1 0zm1 0zm1 0zm1 0zm1 0zm1 0zm1 0zm2 0zm1 0zm1 0zm1 0zm1 0zm2 0zm1 0zm1 0zm1 0zm1 0zm1 0zm2 0zm1 0zm1 0zm2 0zm6 0zm3 0zm6 0zm-102 1zm4 0zm3 0zm4 0zm4 0zm2 0zm3 0zm3 0zm2 0zm2 0zm2 0zm2 0zm1 0zm1 0zm1 0zm4 0zm2 0zm1 0zm1 0zm1 0zm1 0zm1 0zm1 0zm2 0zm1 0zm1 0zm1 0zm1 0zm1 0zm1 0zm1 0zm1 0zm1 0zm1 0zm2 0zm1 0zm1 0zm1 0zm1 0zm1 0zm1 0zm1 0zm1 0zm1 0zm1 0zm1 0zm1 0zm1 0zm1 0zm1 0zm1 0zm1 0zm2 0zm2 0zm1 0zm4 0zm1 0zm1 0zm1 0zm1 0zm3 0zm2 0zm-94 1zm5 0zm2 0zm1 0zm8 0zm2 0zm3 0zm2 0zm1 0zm1 0zm2 0zm2 0zm1 0zm1 0zm1 0zm3 0zm3 0zm1 0zm1 0zm1 0zm1 0zm1 0zm1 0zm1 0zm1 0zm1 0zm1 0zm1 0zm1 0zm1 0zm1 0zm2 0zm1 0zm1 0zm1 0zm1 0zm1 0zm1 0zm1 0zm1 0zm1 0zm1 0zm1 0zm1 0zm1 0zm1 0zm1 0zm1 0zm1 0zm1 0zm2 0zm2 0zm1 0zm2 0zm1 0zm3 0zm1 0zm1 0zm5 0zm2 0zm4 0zm6 0zm8 0zm-117 1zm15 0zm6 0zm5 0zm2 0zm4 0zm1 0zm1 0zm1 0zm1 0zm1 0zm2 0zm1 0zm2 0zm1 0zm1 0zm1 0zm1 0zm1 0zm1 0zm2 0zm1 0zm1 0zm1 0zm1 0zm1 0zm1 0zm1 0zm1 0zm1 0zm2 0zm1 0zm1 0zm1 0zm1 0zm1 0zm1 0zm1 0zm1 0zm1 0zm1 0zm1 0zm1 0zm1 0zm1 0zm1 0zm1 0zm1 0zm1 0zm1 0zm1 0zm1 0zm1 0zm1 0zm1 0zm1 0zm1 0zm1 0zm1 0zm1 0zm2 0zm1 0zm3 0zm3 0zm8 0zm2 0zm2 0zm2 0zm-120 1zm16 0zm3 0zm2 0zm4 0zm2 0zm1 0zm6 0zm2 0zm1 0zm1 0zm6 0zm1 0zm2 0zm1 0zm1 0zm1 0zm1 0zm2 0zm1 0zm1 0zm3 0zm1 0zm1 0zm1 0zm1 0zm1 0zm1 0zm1 0zm1 0zm1 0zm1 0zm1 0zm1 0zm1 0zm1 0zm1 0zm1 0zm1 0zm1 0zm1 0zm1 0zm1 0zm2 0zm1 0zm1 0zm1 0zm1 0zm1 0zm1 0zm2 0zm1 0zm1 0zm1 0zm1 0zm1 0zm1 0zm1 0zm2 0zm2 0zm4 0zm7 0zm15 0zm-103 1zm4 0zm6 0zm2 0zm6 0zm1 0zm2 0zm1 0zm2 0zm3 0zm1 0zm1 0zm1 0zm2 0zm1 0zm1 0zm1 0zm1 0zm1 0zm1 0zm1 0zm1 0zm2 0zm1 0zm1 0zm1 0zm1 0zm1 0zm1 0zm1 0zm1 0zm1 0zm1 0zm1 0zm1 0zm1 0zm1 0zm1 0zm1 0zm1 0zm1 0zm1 0zm1 0zm1 0zm1 0zm1 0zm1 0zm2 0zm1 0zm1 0zm1 0zm1 0zm1 0zm1 0zm1 0zm1 0zm1 0zm1 0zm5 0zm1 0zm6 0zm8 0zm4 0zm-118 1zm22 0zm4 0zm1 0zm1 0zm3 0zm1 0zm2 0zm1 0zm2 0zm2 0zm2 0zm1 0zm1 0zm1 0zm1 0zm2 0zm1 0zm1 0zm1 0zm1 0zm2 0zm1 0zm1 0zm1 0zm1 0zm1 0zm1 0zm1 0zm1 0zm1 0zm1 0zm1 0zm1 0zm1 0zm1 0zm1 0zm1 0zm1 0zm1 0zm1 0zm1 0zm1 0zm1 0zm1 0zm1 0zm1 0zm1 0zm1 0zm1 0zm1 0zm1 0zm1 0zm1 0zm2 0zm3 0zm1 0zm1 0zm1 0zm1 0zm1 0zm1 0zm1 0zm2 0zm36 0zm-129 1zm6 0zm10 0zm1 0zm4 0zm5 0zm1 0zm1 0zm3 0zm1 0zm1 0zm1 0zm3 0zm1 0zm1 0zm1 0zm1 0zm1 0zm1 0zm1 0zm1 0zm1 0zm1 0zm1 0zm1 0zm1 0zm1 0zm1 0zm1 0zm1 0zm1 0zm1 0zm1 0zm1 0zm1 0zm1 0zm2 0zm1 0zm1 0zm1 0zm1 0zm1 0zm1 0zm1 0zm1 0zm1 0zm1 0zm1 0zm1 0zm1 0zm1 0zm1 0zm1 0zm1 0zm1 0zm1 0zm1 0zm1 0zm1 0zm1 0zm1 0zm1 0zm4 0zm1 0zm2 0zm3 0zm-105 1zm14 0zm7 0zm11 0zm1 0zm1 0zm3 0zm2 0zm1 0zm3 0zm1 0zm1 0zm1 0zm1 0zm1 0zm1 0zm1 0zm1 0zm1 0zm1 0zm2 0zm1 0zm1 0zm1 0zm1 0zm1 0zm1 0zm1 0zm1 0zm1 0zm1 0zm1 0zm1 0zm1 0zm1 0zm1 0zm1 0zm1 0zm1 0zm1 0zm1 0zm1 0zm1 0zm1 0zm1 0zm1 0zm1 0zm1 0zm1 0zm1 0zm1 0zm2 0zm1 0zm3 0zm1 0zm1 0zm2 0zm1 0zm1 0zm3 0zm1 0zm4 0zm3 0zm-95 1zm9 0zm2 0zm7 0zm2 0zm2 0zm1 0zm2 0zm1 0zm3 0zm2 0zm1 0zm2 0zm1 0zm2 0zm1 0zm1 0zm1 0zm1 0zm1 0zm1 0zm1 0zm1 0zm1 0zm1 0zm2 0zm1 0zm1 0zm1 0zm1 0zm1 0zm1 0zm1 0zm1 0zm1 0zm1 0zm1 0zm1 0zm1 0zm1 0zm1 0zm1 0zm1 0zm1 0zm1 0zm1 0zm1 0zm1 0zm1 0zm2 0zm1 0zm2 0zm1 0zm2 0zm2 0zm3 0zm2 0zm1 0zm4 0zm5 0zm2 0zm17 0zm-109 1zm8 0zm1 0zm4 0zm1 0zm4 0zm1 0zm1 0zm1 0zm2 0zm1 0zm2 0zm1 0zm2 0zm1 0zm1 0zm1 0zm1 0zm1 0zm1 0zm1 0zm1 0zm1 0zm1 0zm1 0zm1 0zm1 0zm1 0zm1 0zm1 0zm1 0zm1 0zm1 0zm1 0zm1 0zm1 0zm1 0zm1 0zm1 0zm1 0zm1 0zm1 0zm1 0zm1 0zm1 0zm1 0zm1 0zm1 0zm1 0zm1 0zm1 0zm1 0zm1 0zm1 0zm1 0zm1 0zm1 0zm2 0zm2 0zm1 0zm1 0zm3 0zm2 0zm3 0zm5 0zm1 0zm-106 1zm7 0zm14 0zm1 0zm2 0zm1 0zm2 0zm3 0zm3 0zm1 0zm1 0zm1 0zm2 0zm1 0zm1 0zm1 0zm1 0zm1 0zm1 0zm1 0zm1 0zm1 0zm2 0zm1 0zm1 0zm1 0zm1 0zm1 0zm1 0zm1 0zm1 0zm1 0zm1 0zm1 0zm1 0zm1 0zm1 0zm1 0zm1 0zm1 0zm1 0zm1 0zm1 0zm1 0zm1 0zm1 0zm1 0zm1 0zm1 0zm1 0zm1 0zm2 0zm1 0zm1 0zm1 0zm1 0zm2 0zm1 0zm1 0zm1 0zm3 0zm1 0zm2 0zm1 0zm1 0zm3 0zm25 0zm-107 1zm5 0zm1 0zm3 0zm4 0zm1 0zm1 0zm1 0zm1 0zm1 0zm1 0zm1 0zm1 0zm1 0zm1 0zm1 0zm1 0zm1 0zm1 0zm2 0zm1 0zm1 0zm1 0zm1 0zm1 0zm1 0zm1 0zm1 0zm1 0zm1 0zm1 0zm1 0zm1 0zm1 0zm1 0zm1 0zm1 0zm1 0zm1 0zm1 0zm1 0zm1 0zm1 0zm1 0zm1 0zm1 0zm1 0zm1 0zm1 0zm1 0zm1 0zm1 0zm1 0zm1 0zm1 0zm1 0zm1 0zm2 0zm1 0zm1 0zm1 0zm2 0zm5 0zm2 0zm5 0zm-105 1zm11 0zm6 0zm4 0zm1 0zm1 0zm3 0zm1 0zm1 0zm1 0zm3 0zm3 0zm5 0zm1 0zm1 0zm1 0zm1 0zm2 0zm1 0zm1 0zm1 0zm1 0zm1 0zm1 0zm1 0zm1 0zm1 0zm1 0zm1 0zm1 0zm1 0zm1 0zm1 0zm1 0zm1 0zm1 0zm1 0zm1 0zm1 0zm1 0zm1 0zm1 0zm1 0zm1 0zm1 0zm1 0zm1 0zm1 0zm1 0zm1 0zm1 0zm1 0zm1 0zm1 0zm1 0zm1 0zm1 0zm1 0zm1 0zm2 0zm1 0zm1 0zm1 0zm2 0zm1 0zm2 0zm1 0zm4 0zm1 0zm4 0zm-110 1zm13 0zm3 0zm2 0zm1 0zm5 0zm2 0zm7 0zm2 0zm1 0zm1 0zm2 0zm1 0zm1 0zm1 0zm1 0zm1 0zm1 0zm1 0zm2 0zm1 0zm1 0zm1 0zm1 0zm1 0zm1 0zm1 0zm1 0zm1 0zm1 0zm1 0zm1 0zm1 0zm1 0zm1 0zm1 0zm1 0zm1 0zm1 0zm1 0zm1 0zm1 0zm1 0zm1 0zm1 0zm1 0zm1 0zm1 0zm1 0zm1 0zm1 0zm1 0zm1 0zm1 0zm1 0zm1 0zm1 0zm1 0zm1 0zm1 0zm2 0zm2 0zm3 0zm1 0zm6 0zm1 0zm3 0zm6 0zm2 0zm14 0zm-124 1zm4 0zm4 0zm2 0zm3 0zm3 0zm1 0zm1 0zm2 0zm6 0zm6 0zm2 0zm1 0zm1 0zm1 0zm1 0zm1 0zm1 0zm1 0zm1 0zm2 0zm1 0zm1 0zm1 0zm1 0zm1 0zm1 0zm1 0zm2 0zm1 0zm1 0zm1 0zm1 0zm1 0zm1 0zm1 0zm1 0zm1 0zm1 0zm1 0zm1 0zm1 0zm1 0zm1 0zm1 0zm1 0zm1 0zm1 0zm1 0zm1 0zm1 0zm1 0zm1 0zm1 0zm1 0zm1 0zm1 0zm1 0zm1 0zm1 0zm1 0zm1 0zm2 0zm1 0zm2 0zm2 0zm3 0zm1 0zm6 0zm11 0zm5 0zm20 0zm-138 1zm5 0zm13 0zm4 0zm2 0zm7 0zm4 0zm2 0zm5 0zm1 0zm1 0zm2 0zm1 0zm1 0zm1 0zm1 0zm1 0zm1 0zm1 0zm1 0zm1 0zm1 0zm1 0zm1 0zm1 0zm1 0zm1 0zm1 0zm1 0zm1 0zm1 0zm1 0zm1 0zm1 0zm1 0zm1 0zm1 0zm1 0zm1 0zm1 0zm1 0zm1 0zm1 0zm1 0zm1 0zm1 0zm1 0zm1 0zm1 0zm1 0zm2 0zm1 0zm1 0zm3 0zm5 0zm19 0zm-104 1zm12 0zm1 0zm5 0zm3 0zm1 0zm2 0zm2 0zm1 0zm4 0zm1 0zm1 0zm1 0zm2 0zm1 0zm1 0zm1 0zm1 0zm1 0zm1 0zm1 0zm1 0zm1 0zm1 0zm1 0zm1 0zm1 0zm1 0zm1 0zm1 0zm1 0zm1 0zm1 0zm1 0zm1 0zm1 0zm1 0zm1 0zm1 0zm1 0zm1 0zm1 0zm1 0zm1 0zm1 0zm1 0zm1 0zm1 0zm1 0zm1 0zm1 0zm2 0zm1 0zm2 0zm1 0zm2 0zm4 0zm1 0zm5 0zm-109 1zm10 0zm4 0zm11 0zm6 0zm3 0zm8 0zm4 0zm1 0zm1 0zm1 0zm1 0zm1 0zm1 0zm1 0zm1 0zm1 0zm1 0zm1 0zm1 0zm2 0zm1 0zm1 0zm1 0zm1 0zm1 0zm1 0zm1 0zm1 0zm1 0zm1 0zm1 0zm1 0zm1 0zm1 0zm1 0zm1 0zm1 0zm1 0zm1 0zm1 0zm1 0zm1 0zm1 0zm1 0zm1 0zm1 0zm1 0zm1 0zm2 0zm1 0zm1 0zm1 0zm2 0zm1 0zm4 0zm1 0zm4 0zm3 0zm2 0zm3 0zm2 0zm7 0zm-121 1zm14 0zm10 0zm1 0zm1 0zm1 0zm2 0zm2 0zm1 0zm2 0zm1 0zm2 0zm1 0zm1 0zm1 0zm1 0zm1 0zm2 0zm1 0zm2 0zm1 0zm1 0zm1 0zm1 0zm1 0zm1 0zm2 0zm1 0zm1 0zm1 0zm1 0zm1 0zm1 0zm1 0zm1 0zm1 0zm1 0zm1 0zm1 0zm1 0zm1 0zm1 0zm1 0zm1 0zm1 0zm1 0zm1 0zm1 0zm1 0zm1 0zm1 0zm1 0zm1 0zm1 0zm1 0zm1 0zm1 0zm1 0zm1 0zm1 0zm1 0zm1 0zm3 0zm1 0zm1 0zm3 0zm2 0zm1 0zm1 0zm3 0zm23 0zm-120 1zm17 0zm4 0zm1 0zm1 0zm3 0zm2 0zm2 0zm2 0zm2 0zm1 0zm1 0zm1 0zm2 0zm1 0zm3 0zm1 0zm1 0zm2 0zm1 0zm1 0zm1 0zm2 0zm1 0zm1 0zm1 0zm1 0zm1 0zm1 0zm1 0zm1 0zm1 0zm1 0zm1 0zm1 0zm1 0zm1 0zm1 0zm1 0zm1 0zm1 0zm2 0zm1 0zm1 0zm1 0zm1 0zm1 0zm1 0zm2 0zm1 0zm1 0zm1 0zm1 0zm2 0zm9 0zm2 0zm-83 1zm1 0zm1 0zm1 0zm3 0zm3 0zm1 0zm5 0zm1 0zm2 0zm3 0zm1 0zm1 0zm1 0zm1 0zm1 0zm1 0zm3 0zm1 0zm1 0zm1 0zm1 0zm1 0zm1 0zm1 0zm1 0zm1 0zm1 0zm1 0zm1 0zm1 0zm1 0zm1 0zm1 0zm1 0zm1 0zm1 0zm1 0zm1 0zm1 0zm2 0zm1 0zm1 0zm1 0zm1 0zm1 0zm2 0zm1 0zm2 0zm1 0zm1 0zm1 0zm1 0zm1 0zm1 0zm1 0zm1 0zm2 0zm1 0zm2 0zm2 0zm1 0zm1 0zm1 0zm8 0zm3 0zm-88 1zm1 0zm5 0zm2 0zm1 0zm1 0zm2 0zm1 0zm4 0zm1 0zm1 0zm1 0zm1 0zm1 0zm2 0zm1 0zm1 0zm1 0zm1 0zm1 0zm1 0zm1 0zm3 0zm1 0zm2 0zm1 0zm1 0zm1 0zm1 0zm1 0zm1 0zm1 0zm1 0zm1 0zm1 0zm1 0zm1 0zm1 0zm1 0zm1 0zm1 0zm1 0zm1 0zm1 0zm1 0zm1 0zm1 0zm1 0zm1 0zm1 0zm1 0zm1 0zm1 0zm2 0zm2 0zm1 0zm1 0zm1 0zm1 0zm13 0zm2 0zm-92 1zm2 0zm1 0zm3 0zm5 0zm4 0zm1 0zm4 0zm1 0zm1 0zm3 0zm1 0zm1 0zm1 0zm1 0zm3 0zm1 0zm1 0zm1 0zm1 0zm1 0zm1 0zm1 0zm1 0zm1 0zm1 0zm1 0zm1 0zm1 0zm1 0zm1 0zm1 0zm1 0zm1 0zm1 0zm1 0zm1 0zm1 0zm1 0zm1 0zm1 0zm1 0zm1 0zm1 0zm1 0zm1 0zm1 0zm1 0zm1 0zm1 0zm1 0zm1 0zm1 0zm2 0zm3 0zm1 0zm10 0zm1 0zm5 0zm-89 1zm6 0zm3 0zm2 0zm6 0zm2 0zm1 0zm2 0zm3 0zm1 0zm1 0zm1 0zm1 0zm1 0zm1 0zm2 0zm1 0zm1 0zm1 0zm1 0zm2 0zm1 0zm1 0zm1 0zm1 0zm1 0zm1 0zm1 0zm1 0zm1 0zm1 0zm1 0zm1 0zm1 0zm1 0zm1 0zm1 0zm1 0zm1 0zm1 0zm2 0zm1 0zm1 0zm1 0zm1 0zm1 0zm1 0zm1 0zm1 0zm1 0zm1 0zm2 0zm1 0zm1 0zm1 0zm1 0zm5 0zm5 0zm1 0zm-111 1zm12 0zm5 0zm2 0zm10 0zm4 0zm2 0zm2 0zm2 0zm1 0zm1 0zm1 0zm1 0zm1 0zm1 0zm1 0zm1 0zm1 0zm1 0zm1 0zm2 0zm1 0zm1 0zm1 0zm1 0zm1 0zm1 0zm1 0zm1 0zm1 0zm1 0zm1 0zm1 0zm1 0zm1 0zm1 0zm1 0zm1 0zm1 0zm1 0zm1 0zm1 0zm1 0zm1 0zm1 0zm1 0zm1 0zm1 0zm1 0zm1 0zm1 0zm1 0zm1 0zm1 0zm1 0zm2 0zm1 0zm1 0zm1 0zm3 0zm1 0zm1 0zm1 0zm1 0zm1 0zm1 0zm2 0zm11 0zm5 0zm4 0zm-99 1zm1 0zm1 0zm3 0zm2 0zm3 0zm1 0zm2 0zm2 0zm3 0zm4 0zm1 0zm1 0zm1 0zm1 0zm1 0zm1 0zm1 0zm1 0zm2 0zm1 0zm1 0zm1 0zm1 0zm1 0zm1 0zm1 0zm1 0zm1 0zm1 0zm1 0zm1 0zm1 0zm1 0zm1 0zm1 0zm1 0zm1 0zm1 0zm1 0zm1 0zm1 0zm1 0zm1 0zm1 0zm2 0zm1 0zm1 0zm2 0zm1 0zm1 0zm1 0zm1 0zm1 0zm1 0zm1 0zm2 0zm1 0zm1 0zm3 0zm2 0zm2 0zm4 0zm3 0zm-101 1zm14 0zm1 0zm2 0zm1 0zm10 0zm1 0zm1 0zm1 0zm1 0zm1 0zm2 0zm3 0zm2 0zm1 0zm1 0zm1 0zm2 0zm2 0zm1 0zm1 0zm1 0zm1 0zm1 0zm1 0zm1 0zm1 0zm1 0zm1 0zm1 0zm1 0zm4 0zm1 0zm1 0zm1 0zm1 0zm1 0zm1 0zm1 0zm1 0zm1 0zm3 0zm1 0zm2 0zm1 0zm1 0zm4 0zm2 0zm1 0zm2 0zm7 0zm2 0zm-98 1zm5 0zm3 0zm12 0zm4 0zm12 0zm2 0zm1 0zm1 0zm1 0zm1 0zm1 0zm1 0zm1 0zm1 0zm1 0zm1 0zm1 0zm1 0zm1 0zm1 0zm1 0zm1 0zm1 0zm1 0zm1 0zm1 0zm1 0zm1 0zm2 0zm1 0zm1 0zm1 0zm2 0zm1 0zm1 0zm2 0zm1 0zm1 0zm1 0zm1 0zm1 0zm1 0zm1 0zm3 0zm2 0zm1 0zm1 0zm3 0zm3 0zm7 0zm10 0zm-98 1zm3 0zm7 0zm2 0zm3 0zm1 0zm1 0zm1 0zm1 0zm2 0zm1 0zm5 0zm1 0zm1 0zm1 0zm3 0zm1 0zm2 0zm1 0zm1 0zm1 0zm1 0zm2 0zm1 0zm2 0zm1 0zm1 0zm1 0zm1 0zm1 0zm1 0zm1 0zm1 0zm1 0zm1 0zm2 0zm1 0zm1 0zm1 0zm1 0zm2 0zm1 0zm1 0zm1 0zm1 0zm2 0zm2 0zm1 0zm1 0zm1 0zm22 0zm1 0zm-96 1zm9 0zm1 0zm4 0zm5 0zm1 0zm1 0zm1 0zm2 0zm2 0zm1 0zm1 0zm4 0zm1 0zm1 0zm1 0zm2 0zm1 0zm2 0zm1 0zm1 0zm1 0zm1 0zm3 0zm1 0zm1 0zm1 0zm1 0zm1 0zm1 0zm1 0zm1 0zm1 0zm1 0zm1 0zm1 0zm2 0zm1 0zm1 0zm1 0zm1 0zm1 0zm1 0zm1 0zm1 0zm1 0zm1 0zm2 0zm7 0zm-95 1zm8 0zm10 0zm1 0zm9 0zm2 0zm1 0zm3 0zm2 0zm2 0zm3 0zm2 0zm1 0zm1 0zm1 0zm2 0zm2 0zm1 0zm2 0zm1 0zm1 0zm1 0zm1 0zm2 0zm1 0zm1 0zm1 0zm1 0zm1 0zm1 0zm1 0zm1 0zm1 0zm1 0zm1 0zm3 0zm2 0zm3 0zm4 0zm1 0zm1 0zm1 0zm2 0zm2 0zm1 0zm1 0zm1 0zm4 0zm2 0zm-87 1zm5 0zm5 0zm5 0zm13 0zm2 0zm2 0zm2 0zm1 0zm1 0zm2 0zm2 0zm1 0zm4 0zm1 0zm1 0zm1 0zm2 0zm1 0zm1 0zm2 0zm1 0zm1 0zm1 0zm1 0zm2 0zm1 0zm1 0zm1 0zm1 0zm1 0zm1 0zm1 0zm1 0zm1 0zm1 0zm1 0zm1 0zm2 0zm1 0zm2 0zm3 0zm2 0zm8 0zm13 0zm-119 1zm6 0zm19 0zm6 0zm1 0zm2 0zm7 0zm3 0zm1 0zm1 0zm2 0zm1 0zm4 0zm1 0zm1 0zm5 0zm1 0zm1 0zm1 0zm1 0zm1 0zm1 0zm1 0zm1 0zm1 0zm2 0zm1 0zm1 0zm1 0zm1 0zm1 0zm1 0zm2 0zm1 0zm1 0zm1 0zm4 0zm3 0zm1 0zm2 0zm3 0zm2 0zm1 0zm1 0zm10 0zm-108 1zm23 0zm11 0zm1 0zm1 0zm5 0zm7 0zm3 0zm1 0zm2 0zm1 0zm2 0zm1 0zm1 0zm3 0zm2 0zm1 0zm1 0zm1 0zm1 0zm1 0zm1 0zm1 0zm1 0zm1 0zm1 0zm2 0zm1 0zm1 0zm2 0zm2 0zm4 0zm2 0zm3 0zm2 0zm2 0zm3 0zm1 0zm2 0zm3 0zm10 0zm21 0zm-107 1zm13 0zm7 0zm1 0zm4 0zm1 0zm1 0zm1 0zm1 0zm1 0zm1 0zm2 0zm2 0zm1 0zm1 0zm1 0zm1 0zm2 0zm1 0zm1 0zm1 0zm1 0zm1 0zm4 0zm1 0zm3 0zm1 0zm1 0zm2 0zm2 0zm2 0zm10 0zm-86 1zm8 0zm9 0zm3 0zm8 0zm4 0zm2 0zm1 0zm5 0zm2 0zm1 0zm4 0zm1 0zm1 0zm3 0zm1 0zm1 0zm1 0zm1 0zm1 0zm1 0zm1 0zm3 0zm1 0zm2 0zm2 0zm1 0zm2 0zm2 0zm4 0zm1 0zm4 0zm32 0zm-104 1zm1 0zm15 0zm2 0zm2 0zm3 0zm2 0zm2 0zm2 0zm1 0zm2 0zm1 0zm1 0zm1 0zm1 0zm1 0zm1 0zm1 0zm1 0zm3 0zm3 0zm1 0zm1 0zm1 0zm1 0zm1 0zm1 0zm5 0zm1 0zm3 0zm1 0zm1 0zm1 0zm2 0zm5 0zm2 0zm2 0zm9 0zm-77 1zm4 0zm1 0zm1 0zm5 0zm8 0zm4 0zm2 0zm1 0zm1 0zm1 0zm1 0zm4 0zm1 0zm1 0zm2 0zm1 0zm1 0zm2 0zm5 0zm6 0zm4 0zm18 0zm1 0zm9 0zm-92 1zm23 0zm1 0zm4 0zm2 0zm1 0zm6 0zm2 0zm4 0zm2 0zm1 0zm1 0zm2 0zm1 0zm4 0zm1 0zm3 0zm1 0zm3 0zm2 0zm13 0zm6 0zm-66 1zm3 0zm8 0zm1 0zm3 0zm6 0zm1 0zm1 0zm1 0zm1 0zm1 0zm1 0zm1 0zm1 0zm1 0zm4 0zm1 0zm2 0zm1 0zm3 0zm1 0zm2 0zm5 0zm4 0zm9 0zm1 0zm2 0zm-82 1zm3 0zm4 0zm3 0zm3 0zm5 0zm1 0zm3 0zm5 0zm1 0zm5 0zm1 0zm2 0zm1 0zm8 0zm1 0zm1 0zm1 0zm1 0zm1 0zm3 0zm1 0zm10 0zm3 0zm2 0zm2 0zm26 0zm2 0zm-87 1zm6 0zm9 0zm5 0zm1 0zm3 0zm2 0zm2 0zm6 0zm1 0zm4 0zm4 0zm3 0zm5 0zm8 0zm3 0zm4 0zm15 0zm5 0zm1 0zm9 0zm-97 1zm1 0zm4 0zm6 0zm2 0zm6 0zm2 0zm2 0zm8 0zm2 0zm5 0zm4 0zm3 0zm2 0zm2 0zm1 0zm10 0zm-42 1zm1 0zm9 0zm8 0zm3 0zm3 0zm8 0zm2 0zm5 0zm3 0zm4 0zm-65 1zm2 0zm28 0zm1 0zm1 0zm4 0zm2 0zm3 0zm8 0zm1 0zm45 0zm-108 1zm13 0zm24 0zm1 0zm4 0zm7 0zm1 0zm10 0zm9 0zm4 0zm13 0zm-75 1zm27 0zm4 0zm5 0zm3 0zm5 0zm2 0zm4 0zm2 0zm6 0zm26 0zm-94 1zm29 0zm9 0zm11 0zm6 0zm1 0zm11 0zm16 0zm15 0zm-87 1zm23 0zm2 0zm3 0zm22 0zm4 0zm-50 1zm5 0zm9 0zm5 0zm12 0zm9 0zm3 0zm13 0zm-91 1zm5 0zm48 0zm7 0zm8 0zm8 0zm24 0zm-44 1zm23 0zm-25 1zm20 0zm19 0zm-7 1zm29 0zm-58 1zm11 0zm23 0zm16 0zm-36 1zm2 0zm2 0zm-17 1zm31 0zm-12 1zm-49 2zm21 0zm4 0zm8 0zm16 2zm9 0zm-51 1zm45 0zm-5 1zm54 1zm-52 1zm35 0zm-55 1zm40 0zm-44 1zm-44 2zm11 1zm76 0zm-7 1zm-8 2zm-46 1z"/>
<path transform="translate(41.5 493.5) scale(1 -1)" d="M0 0m7 1zm0 1zm4 0zm-10 1zm6 0zm14 0zm-5 1zm-8 1zm5 0zm1 0zm2 0zm3 0zm23 0zm-27 1zm2 0zm-14 1zm6 0zm6 0zm-11 1zm3 0zm3 0zm3 0zm7 0zm-12 1zm1 0zm3 0zm5 0zm-6 1zm12 0zm16 0zm-33 1zm4 1zm4 0zm4 0zm3 0zm-10 1zm1 0zm6 0zm17 0zm-33 1zm12 0zm45 0zm-56 1zm2 0zm1 0zm-4 2zm4 0zm19 0zm-13 1zm7 0zm-12 1zm9 0zm9 0zm18 0zm-37 1zm8 0zm20 0zm4 0zm-26 1zm14 0zm8 0zm3 0zm-20 1zm8 0zm9 0zm11 0zm-42 1zm0 1zm-2 1zm8 0zm8 0zm25 0zm-15 1zm4 0zm4 0zm13 1zm-29 1zm9 0zm-2 1zm2 0zm1 0zm5 0zm2 0zm-21 1zm6 0zm1 0zm2 0zm5 0zm1 0zm2 0zm5 0zm1 0zm8 0zm-25 1zm5 0zm2 1zm3 0zm3 0zm11 0zm-25 1zm3 0zm1 0zm3 0zm5 0zm2 0zm8 0zm-18 1zm4 0zm10 0zm3 0zm5 0zm-25 1zm6 0zm2 0zm3 0zm2 0zm7 0zm-24 1zm6 0zm4 0zm3 0zm1 0zm1 0zm1 0zm5 0zm4 0zm-34 1zm7 0zm8 0zm8 0zm3 0zm1 0zm-13 1zm5 0zm2 0zm2 0zm2 0zm-11 1zm6 0zm2 0zm2 0zm1 0zm2 0zm2 0zm2 0zm1 0zm-20 1zm3 0zm1 0zm2 0zm1 0zm2 0zm1 0zm1 0zm1 0zm1 0zm3 0zm4 0zm1 0zm-16 1zm3 0zm2 0zm1 0zm1 0zm3 0zm16 0zm80 0zm-112 1zm5 0zm2 0zm4 0zm1 0zm2 0zm3 0zm7 0zm-25 1zm7 0zm2 0zm4 0zm1 0zm2 0zm2 0zm-16 1zm1 0zm2 0zm1 0zm2 0zm1 0zm2 0zm1 0zm3 0zm2 0zm2 0zm-22 1zm3 0zm1 0zm2 0zm1 0zm4 0zm3 0zm1 0zm1 0zm1 0zm4 0zm4 0zm-30 1zm15 0zm1 0zm2 0zm1 0zm1 0zm1 0zm2 0zm1 0zm1 0zm5 0zm-20 1zm1 0zm4 0zm1 0zm1 0zm1 0zm2 0zm1 0zm1 0zm1 0zm1 0zm5 0zm4 0zm-29 1zm1 0zm4 0zm2 0zm1 0zm1 0zm4 0zm2 0zm1 0zm3 0zm5 0zm1 0zm1 0zm1 0zm-24 1zm6 0zm1 0zm3 0zm1 0zm2 0zm1 0zm2 0zm1 0zm2 0zm1 0zm2 0zm2 0zm-23 1zm1 0zm3 0zm2 0zm1 0zm1 0zm1 0zm1 0zm2 0zm4 0zm5 0zm3 0zm-27 1zm2 0zm2 0zm4 0zm2 0zm2 0zm5 0zm2 0zm2 0zm1 0zm1 0zm9 0zm-33 1zm4 0zm1 0zm1 0zm2 0zm2 0zm1 0zm1 0zm2 0zm1 0zm1 0zm3 0zm1 0zm2 0zm2 0zm1 0zm2 0zm-27 1zm1 0zm2 0zm6 0zm6 0zm1 0zm3 0zm2 0zm3 0zm1 0zm1 0zm-30 1zm6 0zm3 0zm1 0zm2 0zm3 0zm1 0zm1 0zm2 0zm1 0zm2 0zm1 0zm2 0zm1 0zm3 0zm2 0zm6 0zm-27 1zm1 0zm2 0zm1 0zm3 0zm1 0zm1 0zm1 0zm1 0zm1 0zm1 0zm2 0zm2 0zm2 0zm5 0zm4 0zm-41 1zm5 0zm3 0zm3 0zm1 0zm1 0zm2 0zm1 0zm1 0zm1 0zm1 0zm3 0zm1 0zm2 0zm1 0zm3 0zm2 0zm4 0zm6 0zm-45 1zm11 0zm4 0zm1 0zm2 0zm1 0zm1 0zm1 0zm1 0zm1 0zm1 0zm1 0zm1 0zm1 0zm2 0zm1 0zm3 0zm4 0zm1 0zm2 0zm6 0zm-36 1zm3 0zm2 0zm2 0zm1 0zm1 0zm2 0zm1 0zm1 0zm1 0zm1 0zm2 0zm2 0zm2 0zm1 0zm1 0zm6 0zm14 0zm-37 1zm1 0zm1 0zm1 0zm2 0zm1 0zm3 0zm1 0zm1 0zm1 0zm1 0zm1 0zm1 0zm2 0zm1 0zm1 0zm1 0zm-38 1zm8 0zm4 0zm3 0zm3 0zm1 0zm2 0zm1 0zm1 0zm1 0zm2 0zm1 0zm2 0zm1 0zm2 0zm2 0zm2 0zm2 0zm6 0zm-34 1zm3 0zm1 0zm1 0zm6 0zm1 0zm1 0zm1 0zm2 0zm1 0zm1 0zm1 0zm1 0zm1 0zm1 0zm1 0zm1 0zm1 0zm1 0zm1 0zm1 0zm2 0zm10 0zm-50 1zm16 0zm1 0zm2 0zm1 0zm3 0zm1 0zm1 0zm1 0zm1 0zm1 0zm1 0zm1 0zm3 0zm1 0zm2 0zm1 0zm7 0zm4 0zm-41 1zm2 0zm1 0zm6 0zm2 0zm2 0zm1 0zm2 0zm1 0zm1 0zm1 0zm2 0zm1 0zm1 0zm2 0zm1 0zm1 0zm1 0zm1 0zm1 0zm1 0zm9 0zm-36 1zm2 0zm5 0zm1 0zm1 0zm1 0zm2 0zm1 0zm2 0zm1 0zm1 0zm3 0zm1 0zm1 0zm2 0zm1 0zm2 0zm2 0zm1 0zm1 0zm2 0zm-35 1zm1 0zm2 0zm1 0zm1 0zm1 0zm1 0zm2 0zm3 0zm1 0zm1 0zm1 0zm1 0zm2 0zm1 0zm1 0zm1 0zm1 0zm1 0zm1 0zm1 0zm1 0zm1 0zm2 0zm1 0zm3 0zm10 0zm-48 1zm1 0zm5 0zm1 0zm3 0zm1 0zm1 0zm1 0zm1 0zm2 0zm2 0zm1 0zm1 0zm1 0zm1 0zm2 0zm1 0zm2 0zm2 0zm1 0zm1 0zm1 0zm1 0zm1 0zm11 0zm-43 1zm4 0zm2 0zm3 0zm2 0zm1 0zm1 0zm1 0zm1 0zm1 0zm1 0zm1 0zm3 0zm1 0zm1 0zm1 0zm1 0zm1 0zm2 0zm2 0zm3 0zm2 0zm3 0zm-37 1zm3 0zm2 0zm2 0zm1 0zm1 0zm1 0zm2 0zm2 0zm1 0zm1 0zm1 0zm1 0zm1 0zm1 0zm3 0zm1 0zm1 0zm1 0zm1 0zm1 0zm1 0zm1 0zm2 0zm2 0zm1 0zm6 0zm1 0zm-38 1zm5 0zm1 0zm1 0zm1 0zm1 0zm2 0zm2 0zm1 0zm1 0zm1 0zm1 0zm1 0zm1 0zm1 0zm1 0zm2 0zm1 0zm2 0zm1 0zm1 0zm1 0zm4 0zm-42 1zm6 0zm1 0zm2 0zm3 0zm1 0zm1 0zm2 0zm1 0zm1 0zm1 0zm1 0zm1 0zm2 0zm1 0zm1 0zm2 0zm1 0zm1 0zm1 0zm1 0zm1 0zm1 0zm2 0zm1 0zm1 0zm2 0zm11 0zm-47 1zm6 0zm1 0zm3 0zm1 0zm1 0zm1 0zm1 0zm1 0zm1 0zm1 0zm2 0zm1 0zm1 0zm1 0zm1 0zm1 0zm1 0zm1 0zm1 0zm1 0zm2 0zm1 0zm1 0zm3 0zm1 0zm1 0zm4 0zm1 0zm-37 1zm1 0zm1 0zm1 0zm1 0zm1 0zm1 0zm1 0zm1 0zm1 0zm1 0zm1 0zm1 0zm1 0zm2 0zm2 0zm1 0zm3 0zm2 0zm2 0zm1 0zm1 0zm1 0zm2 0zm12 0zm-42 1zm1 0zm2 0zm1 0zm1 0zm1 0zm1 0zm1 0zm1 0zm1 0zm1 0zm1 0zm1 0zm1 0zm1 0zm2 0zm1 0zm1 0zm1 0zm1 0zm1 0zm1 0zm1 0zm1 0zm2 0zm1 0zm2 0zm1 0zm2 0zm2 0zm-41 1zm1 0zm4 0zm1 0zm2 0zm2 0zm2 0zm1 0zm1 0zm1 0zm1 0zm1 0zm1 0zm1 0zm1 0zm1 0zm1 0zm1 0zm1 0zm1 0zm1 0zm1 0zm1 0zm1 0zm1 0zm2 0zm1 0zm1 0zm1 0zm4 0zm-42 1zm10 0zm1 0zm1 0zm1 0zm1 0zm2 0zm1 0zm2 0zm1 0zm1 0zm2 0zm2 0zm1 0zm1 0zm1 0zm1 0zm1 0zm1 0zm1 0zm1 0zm1 0zm1 0zm1 0zm2 0zm6 0zm1 0zm-44 1zm3 0zm1 0zm4 0zm2 0zm1 0zm2 0zm1 0zm1 0zm1 0zm1 0zm2 0zm1 0zm1 0zm1 0zm1 0zm1 0zm1 0zm1 0zm1 0zm1 0zm1 0zm1 0zm1 0zm1 0zm1 0zm1 0zm1 0zm1 0zm2 0zm1 0zm3 0zm9 0zm65 0zm-106 1zm1 0zm1 0zm1 0zm1 0zm1 0zm3 0zm1 0zm1 0zm1 0zm1 0zm1 0zm1 0zm1 0zm1 0zm1 0zm2 0zm1 0zm1 0zm2 0zm1 0zm1 0zm3 0zm1 0zm2 0zm7 0zm-44 1zm1 0zm3 0zm1 0zm2 0zm1 0zm2 0zm1 0zm1 0zm1 0zm1 0zm1 0zm1 0zm1 0zm1 0zm1 0zm1 0zm1 0zm2 0zm1 0zm1 0zm1 0zm2 0zm1 0zm1 0zm1 0zm2 0zm2 0zm2 0zm1 0zm3 0zm2 0zm-44 1zm1 0zm3 0zm1 0zm1 0zm1 0zm1 0zm1 0zm1 0zm1 0zm1 0zm1 0zm1 0zm1 0zm1 0zm1 0zm1 0zm1 0zm1 0zm1 0zm1 0zm2 0zm1 0zm1 0zm1 0zm1 0zm1 0zm2 0zm3 0zm2 0zm7 0zm3 0zm-51 1zm4 0zm3 0zm1 0zm1 0zm1 0zm2 0zm1 0zm1 0zm1 0zm1 0zm1 0zm1 0zm1 0zm1 0zm1 0zm1 0zm1 0zm1 0zm1 0zm1 0zm1 0zm1 0zm1 0zm1 0zm1 0zm1 0zm1 0zm1 0zm1 0zm1 0zm1 0zm1 0zm1 0zm2 0zm1 0zm1 0zm2 0zm1 0zm2 0zm-43 1zm2 0zm2 0zm1 0zm1 0zm1 0zm1 0zm1 0zm1 0zm1 0zm1 0zm1 0zm1 0zm1 0zm1 0zm1 0zm1 0zm1 0zm1 0zm2 0zm1 0zm1 0zm1 0zm1 0zm1 0zm2 0zm1 0zm1 0zm2 0zm2 0zm1 0zm1 0zm2 0zm6 0zm-47 1zm2 0zm3 0zm2 0zm2 0zm1 0zm1 0zm2 0zm1 0zm2 0zm1 0zm2 0zm1 0zm1 0zm1 0zm1 0zm1 0zm1 0zm1 0zm1 0zm1 0zm1 0zm1 0zm1 0zm1 0zm2 0zm1 0zm3 0zm1 0zm1 0zm1 0zm2 0zm-46 1zm2 0zm1 0zm2 0zm3 0zm1 0zm2 0zm1 0zm1 0zm1 0zm1 0zm1 0zm1 0zm3 0zm1 0zm1 0zm1 0zm1 0zm1 0zm1 0zm1 0zm1 0zm1 0zm1 0zm1 0zm1 0zm2 0zm1 0zm2 0zm2 0zm1 0zm1 0zm1 0zm1 0zm-36 1zm2 0zm1 0zm1 0zm1 0zm2 0zm1 0zm1 0zm1 0zm1 0zm1 0zm1 0zm1 0zm1 0zm1 0zm1 0zm1 0zm2 0zm1 0zm1 0zm1 0zm1 0zm1 0zm1 0zm1 0zm1 0zm1 0zm1 0zm1 0zm1 0zm2 0zm1 0zm4 0zm1 0zm4 0zm-51 1zm5 0zm5 0zm1 0zm1 0zm1 0zm1 0zm1 0zm1 0zm1 0zm1 0zm1 0zm2 0zm1 0zm1 0zm1 0zm1 0zm1 0zm1 0zm1 0zm1 0zm1 0zm1 0zm1 0zm2 0zm1 0zm1 0zm1 0zm1 0zm2 0zm1 0zm2 0zm1 0zm6 0zm-48 1zm1 0zm3 0zm2 0zm1 0zm1 0zm1 0zm1 0zm1 0zm1 0zm1 0zm1 0zm1 0zm1 0zm1 0zm1 0zm1 0zm1 0zm1 0zm1 0zm1 0zm2 0zm1 0zm1 0zm1 0zm2 0zm1 0zm1 0zm1 0zm1 0zm1 0zm1 0zm2 0zm1 0zm2 0zm3 0zm4 0zm2 0zm-46 1zm2 0zm1 0zm1 0zm2 0zm1 0zm1 0zm1 0zm1 0zm1 0zm1 0zm1 0zm1 0zm1 0zm1 0zm1 0zm1 0zm1 0zm1 0zm1 0zm1 0zm1 0zm1 0zm1 0zm1 0zm1 0zm1 0zm1 0zm1 0zm2 0zm3 0zm1 0zm1 0zm6 0zm-43 1zm5 0zm1 0zm2 0zm1 0zm1 0zm1 0zm1 0zm1 0zm1 0zm1 0zm1 0zm1 0zm1 0zm1 0zm1 0zm1 0zm1 0zm1 0zm1 0zm1 0zm1 0zm1 0zm2 0zm2 0zm1 0zm2 0zm1 0zm1 0zm4 0zm2 0zm2 0zm3 0zm4 0zm-56 1zm7 0zm3 0zm1 0zm2 0zm1 0zm1 0zm1 0zm1 0zm1 0zm1 0zm1 0zm1 0zm1 0zm1 0zm1 0zm1 0zm1 0zm1 0zm1 0zm1 0zm1 0zm1 0zm1 0zm1 0zm1 0zm2 0zm1 0zm1 0zm1 0zm1 0zm1 0zm1 0zm-39 1zm1 0zm2 0zm2 0zm1 0zm1 0zm1 0zm1 0zm1 0zm1 0zm1 0zm1 0zm1 0zm1 0zm1 0zm1 0zm1 0zm2 0zm1 0zm1 0zm1 0zm1 0zm1 0zm1 0zm1 0zm1 0zm1 0zm1 0zm1 0zm1 0zm1 0zm1 0zm1 0zm2 0zm1 0zm1 0zm1 0zm5 0zm6 0zm-51 1zm2 0zm1 0zm2 0zm1 0zm1 0zm2 0zm1 0zm1 0zm1 0zm1 0zm1 0zm1 0zm1 0zm1 0zm1 0zm1 0zm1 0zm1 0zm1 0zm1 0zm1 0zm1 0zm1 0zm1 0zm1 0zm1 0zm1 0zm1 0zm1 0zm1 0zm1 0zm2 0zm1 0zm2 0zm1 0zm2 0zm-45 1zm5 0zm1 0zm3 0zm1 0zm2 0zm1 0zm1 0zm1 0zm1 0zm1 0zm1 0zm1 0zm1 0zm1 0zm1 0zm1 0zm1 0zm1 0zm1 0zm1 0zm1 0zm1 0zm1 0zm1 0zm1 0zm1 0zm1 0zm1 0zm1 0zm1 0zm1 0zm2 0zm1 0zm2 0zm1 0zm3 0zm2 0zm-42 1zm1 0zm1 0zm2 0zm1 0zm1 0zm1 0zm1 0zm1 0zm1 0zm1 0zm1 0zm1 0zm1 0zm1 0zm1 0zm1 0zm1 0zm1 0zm1 0zm1 0zm1 0zm1 0zm1 0zm1 0zm1 0zm1 0zm1 0zm2 0zm1 0zm1 0zm1 0zm2 0zm1 0zm1 0zm3 0zm7 0zm-49 1zm1 0zm1 0zm1 0zm3 0zm1 0zm1 0zm1 0zm1 0zm1 0zm1 0zm1 0zm1 0zm1 0zm1 0zm1 0zm1 0zm1 0zm1 0zm1 0zm1 0zm1 0zm1 0zm1 0zm1 0zm1 0zm1 0zm1 0zm1 0zm1 0zm1 0zm1 0zm1 0zm1 0zm1 0zm2 0zm2 0zm2 0zm6 0zm2 0zm-55 1zm1 0zm3 0zm1 0zm2 0zm1 0zm1 0zm1 0zm1 0zm1 0zm1 0zm1 0zm1 0zm1 0zm1 0zm1 0zm1 0zm1 0zm1 0zm1 0zm1 0zm1 0zm1 0zm1 0zm1 0zm2 0zm1 0zm1 0zm1 0zm1 0zm2 0zm1 0zm2 0zm1 0zm1 0zm1 0zm1 0zm6 0zm5 0zm-51 1zm4 0zm2 0zm1 0zm1 0zm1 0zm1 0zm1 0zm1 0zm1 0zm1 0zm1 0zm1 0zm1 0zm1 0zm1 0zm1 0zm1 0zm1 0zm1 0zm1 0zm1 0zm1 0zm1 0zm1 0zm1 0zm1 0zm1 0zm1 0zm1 0zm1 0zm1 0zm1 0zm1 0zm1 0zm2 0zm9 0zm4 0zm-54 1zm2 0zm1 0zm4 0zm1 0zm1 0zm1 0zm1 0zm1 0zm1 0zm1 0zm1 0zm1 0zm1 0zm1 0zm1 0zm1 0zm1 0zm1 0zm1 0zm1 0zm1 0zm1 0zm1 0zm1 0zm1 0zm1 0zm1 0zm1 0zm1 0zm1 0zm1 0zm2 0zm1 0zm1 0zm3 0zm1 0zm1 0zm-43 1zm2 0zm4 0zm1 0zm1 0zm1 0zm1 0zm1 0zm1 0zm1 0zm1 0zm1 0zm1 0zm1 0zm1 0zm1 0zm1 0zm1 0zm1 0zm1 0zm1 0zm1 0zm1 0zm1 0zm1 0zm1 0zm1 0zm1 0zm1 0zm1 0zm1 0zm1 0zm1 0zm1 0zm1 0zm1 0zm2 0zm2 0zm-45 1zm2 0zm1 0zm1 0zm1 0zm2 0zm1 0zm1 0zm1 0zm1 0zm1 0zm1 0zm1 0zm1 0zm1 0zm1 0zm1 0zm1 0zm1 0zm1 0zm1 0zm1 0zm1 0zm1 0zm1 0zm1 0zm1 0zm1 0zm1 0zm1 0zm1 0zm1 0zm1 0zm1 0zm1 0zm2 0zm1 0zm1 0zm3 0zm1 0zm2 0zm6 0zm-53 1zm2 0zm6 0zm1 0zm2 0zm1 0zm1 0zm1 0zm1 0zm1 0zm1 0zm1 0zm1 0zm1 0zm1 0zm1 0zm1 0zm1 0zm1 0zm1 0zm1 0zm1 0zm1 0zm1 0zm1 0zm1 0zm1 0zm1 0zm1 0zm1 0zm1 0zm1 0zm1 0zm1 0zm1 0zm4 0zm1 0zm1 0zm2 0zm5 0zm-52 1zm1 0zm1 0zm1 0zm2 0zm1 0zm1 0zm1 0zm1 0zm1 0zm2 0zm1 0zm1 0zm2 0zm1 0zm1 0zm1 0zm1 0zm1 0zm1 0zm1 0zm1 0zm1 0zm1 0zm1 0zm1 0zm1 0zm1 0zm1 0zm1 0zm1 0zm1 0zm1 0zm1 0zm1 0zm1 0zm2 0zm1 0zm3 0zm3 0zm-48 1zm4 0zm1 0zm3 0zm1 0zm1 0zm1 0zm1 0zm3 0zm1 0zm1 0zm1 0zm1 0zm1 0zm1 0zm1 0zm1 0zm1 0zm1 0zm1 0zm1 0zm1 0zm1 0zm1 0zm1 0zm1 0zm1 0zm1 0zm1 0zm1 0zm1 0zm2 0zm1 0zm1 0zm3 0zm1 0zm1 0zm-45 1zm1 0zm1 0zm1 0zm2 0zm4 0zm1 0zm1 0zm2 0zm1 0zm1 0zm1 0zm1 0zm1 0zm1 0zm1 0zm1 0zm1 0zm1 0zm1 0zm1 0zm1 0zm1 0zm2 0zm1 0zm1 0zm1 0zm1 0zm1 0zm1 0zm1 0zm1 0zm1 0zm1 0zm1 0zm1 0zm1 0zm1 0zm2 0zm1 0zm1 0zm3 0zm1 0zm-51 1zm1 0zm2 0zm1 0zm4 0zm1 0zm1 0zm1 0zm1 0zm1 0zm1 0zm1 0zm1 0zm1 0zm1 0zm1 0zm1 0zm1 0zm1 0zm1 0zm1 0zm1 0zm1 0zm1 0zm1 0zm1 0zm1 0zm1 0zm1 0zm1 0zm1 0zm1 0zm1 0zm1 0zm1 0zm1 0zm1 0zm2 0zm2 0zm1 0zm-44 1zm1 0zm1 0zm3 0zm1 0zm1 0zm1 0zm1 0zm1 0zm1 0zm1 0zm1 0zm1 0zm1 0zm1 0zm1 0zm1 0zm1 0zm1 0zm1 0zm1 0zm1 0zm1 0zm1 0zm1 0zm1 0zm1 0zm1 0zm1 0zm1 0zm1 0zm1 0zm1 0zm1 0zm1 0zm1 0zm3 0zm1 0zm3 0zm1 0zm-40 1zm1 0zm1 0zm1 0zm1 0zm1 0zm1 0zm1 0zm1 0zm1 0zm1 0zm1 0zm1 0zm1 0zm1 0zm1 0zm1 0zm1 0zm1 0zm1 0zm1 0zm1 0zm1 0zm1 0zm1 0zm1 0zm1 0zm1 0zm1 0zm1 0zm1 0zm1 0zm1 0zm3 0zm3 0zm1 0zm2 0zm-47 1zm1 0zm5 0zm2 0zm1 0zm2 0zm1 0zm1 0zm1 0zm1 0zm1 0zm1 0zm1 0zm1 0zm1 0zm1 0zm1 0zm1 0zm1 0zm1 0zm1 0zm1 0zm1 0zm1 0zm1 0zm1 0zm1 0zm1 0zm1 0zm2 0zm1 0zm2 0zm1 0zm4 0zm1 0zm1 0zm-47 1zm3 0zm2 0zm1 0zm1 0zm1 0zm1 0zm1 0zm2 0zm1 0zm1 0zm1 0zm1 0zm1 0zm1 0zm1 0zm1 0zm1 0zm1 0zm1 0zm1 0zm1 0zm1 0zm1 0zm1 0zm1 0zm1 0zm1 0zm1 0zm1 0zm1 0zm2 0zm1 0zm2 0zm1 0zm1 0zm1 0zm2 0zm2 0zm-44 1zm2 0zm4 0zm1 0zm1 0zm1 0zm1 0zm1 0zm2 0zm1 0zm1 0zm1 0zm1 0zm1 0zm1 0zm1 0zm1 0zm1 0zm1 0zm1 0zm1 0zm1 0zm1 0zm1 0zm1 0zm1 0zm1 0zm1 0zm1 0zm3 0zm1 0zm1 0zm1 0zm1 0zm1 0zm1 0zm1 0zm9 0zm-52 1zm3 0zm1 0zm5 0zm1 0zm1 0zm1 0zm1 0zm1 0zm1 0zm1 0zm1 0zm1 0zm1 0zm1 0zm1 0zm1 0zm1 0zm1 0zm1 0zm1 0zm1 0zm1 0zm1 0zm1 0zm1 0zm1 0zm2 0zm1 0zm5 0zm2 0zm3 0zm7 0zm-55 1zm7 0zm2 0zm1 0zm1 0zm2 0zm1 0zm1 0zm2 0zm1 0zm1 0zm1 0zm1 0zm1 0zm1 0zm1 0zm1 0zm1 0zm1 0zm1 0zm1 0zm1 0zm1 0zm1 0zm1 0zm1 0zm1 0zm1 0zm3 0zm1 0zm3 0zm3 0zm3 0zm7 0zm-54 1zm3 0zm2 0zm7 0zm1 0zm1 0zm2 0zm2 0zm1 0zm2 0zm1 0zm1 0zm1 0zm1 0zm1 0zm2 0zm1 0zm1 0zm1 0zm1 0zm1 0zm1 0zm1 0zm1 0zm2 0zm2 0zm3 0zm1 0zm20 0zm-63 1zm7 0zm1 0zm1 0zm2 0zm1 0zm2 0zm1 0zm1 0zm1 0zm2 0zm1 0zm1 0zm1 0zm1 0zm1 0zm1 0zm1 0zm1 0zm1 0zm1 0zm1 0zm1 0zm3 0zm1 0zm1 0zm1 0zm3 0zm3 0zm3 0zm2 0zm-51 1zm1 0zm1 0zm5 0zm1 0zm6 0zm1 0zm1 0zm1 0zm3 0zm1 0zm1 0zm1 0zm1 0zm1 0zm1 0zm1 0zm1 0zm1 0zm2 0zm1 0zm1 0zm1 0zm1 0zm1 0zm1 0zm3 0zm1 0zm5 0zm2 0zm2 0zm-45 1zm1 0zm2 0zm1 0zm2 0zm1 0zm1 0zm1 0zm1 0zm1 0zm1 0zm1 0zm1 0zm1 0zm1 0zm1 0zm1 0zm1 0zm1 0zm1 0zm2 0zm1 0zm1 0zm1 0zm2 0zm1 0zm1 0zm1 0zm1 0zm2 0zm1 0zm-30 1zm4 0zm1 0zm2 0zm1 0zm1 0zm1 0zm1 0zm1 0zm1 0zm2 0zm1 0zm1 0zm1 0zm1 0zm1 0zm1 0zm1 0zm1 0zm1 0zm1 0zm2 0zm1 0zm2 0zm2 0zm-38 1zm4 0zm4 0zm3 0zm1 0zm2 0zm2 0zm1 0zm2 0zm1 0zm4 0zm1 0zm1 0zm1 0zm4 0zm4 0zm1 0zm5 0zm2 0zm5 0zm-51 1zm9 0zm3 0zm1 0zm4 0zm2 0zm2 0zm1 0zm1 0zm1 0zm1 0zm1 0zm2 0zm1 0zm1 0zm1 0zm2 0zm8 0zm1 0zm2 0zm2 0zm-37 1zm3 0zm5 0zm2 0zm2 0zm1 0zm1 0zm1 0zm2 0zm1 0zm2 0zm1 0zm2 0zm1 0zm2 0zm9 0zm101 0zm-144 1zm2 0zm1 0zm7 0zm2 0zm3 0zm1 0zm3 0zm5 0zm4 0zm1 0zm5 0zm2 0zm3 0zm1 0zm-35 1zm9 0zm2 0zm2 0zm1 0zm1 0zm7 0zm1 0zm1 0zm3 0zm1 0zm5 0zm3 0zm11 0zm-44 1zm3 0zm3 0zm6 0zm1 0zm1 0zm1 0zm1 0zm1 0zm2 0zm2 0zm4 0zm1 0zm5 0zm2 0zm13 0zm67 0zm-110 1zm4 0zm2 0zm2 0zm5 0zm1 0zm3 0zm1 0zm1 0zm1 0zm1 0zm4 0zm4 0zm-39 1zm8 0zm5 0zm1 0zm2 0zm3 0zm2 0zm1 0zm1 0zm7 0zm4 0zm7 0zm-41 1zm9 0zm2 0zm8 0zm1 0zm2 0zm2 0zm1 0zm7 0zm3 0zm-28 1zm1 0zm5 0zm6 0zm6 0zm3 0zm7 0zm2 0zm16 0zm81 0zm-124 1zm1 0zm2 0zm3 0zm2 0zm1 0zm7 0zm-29 1zm9 0zm14 0zm6 0zm1 0zm11 0zm-26 1zm1 0zm2 0zm1 0zm5 0zm1 0zm2 0zm3 0zm4 0zm-14 1zm2 0zm1 0zm7 0zm-8 1zm9 0zm16 0zm-43 1zm22 0zm29 0zm-9 1zm63 1zm-104 2zm36 0zm-21 1zm-3 1zm28 0zm4 7zm-19 1zm0 3z"/>
<path transform="translate(205.5 494.5) scale(1 -1)" d="M0 0m16 1zm2 0zm38 0zm-50 1zm31 0zm-26 1zm13 0zm-10 1zm2 0zm2 0zm-16 1zm1 0zm0 1zm6 0zm4 0zm2 0zm-10 1zm9 0zm3 0zm-8 1zm1 0zm1 0zm41 0zm-43 1zm7 0zm78 0zm-64 1zm-28 1zm10 0zm31 0zm32 0zm-71 1zm3 0zm4 0zm6 0zm8 0zm7 0zm-27 1zm0 1zm4 0zm-8 1zm4 0zm11 0zm1 0zm-13 1zm6 0zm13 0zm6 0zm-28 1zm6 0zm9 0zm14 0zm23 0zm-34 1zm17 0zm-28 1zm6 0zm3 0zm-11 1zm11 1zm7 0zm17 0zm-31 1zm2 3zm6 0zm4 0zm-13 2zm14 0zm2 0zm3 0zm-2 1zm105 0zm-109 1zm12 0zm-17 1zm1 0zm4 0zm2 0zm-10 1zm26 0zm-17 1zm3 0zm14 0zm-26 1zm8 0zm1 0zm2 0zm2 0zm9 0zm2 0zm13 0zm-39 1zm4 0zm7 0zm2 0zm1 0zm5 0zm-10 1zm2 0zm2 0zm3 0zm9 0zm5 0zm109 0zm-141 1zm4 0zm7 0zm2 0zm5 0zm5 0zm-19 1zm1 0zm5 0zm1 0zm8 0zm-12 1zm5 0zm5 0zm7 0zm9 0zm-26 1zm2 0zm9 0zm4 0zm6 0zm3 0zm-23 1zm6 0zm1 0zm1 0zm1 0zm1 0zm7 0zm-18 1zm7 0zm3 0zm2 0zm6 0zm-21 1zm9 0zm1 0zm1 0zm1 0zm5 0zm2 0zm2 0zm4 0zm7 0zm3 0zm-39 1zm7 0zm6 0zm2 0zm2 0zm1 0zm2 0zm1 0zm4 0zm1 0zm1 0zm-18 1zm1 0zm7 0zm8 0zm2 0zm-31 1zm13 0zm4 0zm7 0zm2 0zm2 0zm11 0zm-27 1zm11 0zm3 0zm1 0zm2 0zm-23 1zm6 0zm1 0zm2 0zm1 0zm4 0zm6 0zm4 0zm1 0zm-29 1zm4 0zm2 0zm5 0zm3 0zm5 0zm1 0zm4 0zm1 0zm2 0zm1 0zm2 0zm-25 1zm1 0zm6 0zm1 0zm1 0zm1 0zm3 0zm2 0zm2 0zm1 0zm-18 1zm3 0zm3 0zm1 0zm2 0zm1 0zm1 0zm1 0zm1 0zm1 0zm1 0zm1 0zm-22 1zm6 0zm3 0zm1 0zm1 0zm2 0zm4 0zm3 0zm7 0zm1 0zm1 0zm1 0zm7 0zm-37 1zm4 0zm2 0zm2 0zm3 0zm1 0zm3 0zm1 0zm4 0zm2 0zm1 0zm3 0zm3 0zm5 0zm-34 1zm2 0zm1 0zm11 0zm2 0zm2 0zm1 0zm3 0zm1 0zm1 0zm1 0zm16 0zm-40 1zm7 0zm1 0zm2 0zm1 0zm1 0zm1 0zm1 0zm2 0zm1 0zm3 0zm1 0zm1 0zm1 0zm2 0zm-24 1zm9 0zm1 0zm2 0zm3 0zm3 0zm1 0zm1 0zm2 0zm1 0zm1 0zm3 0zm3 0zm9 0zm2 0zm7 0zm-54 1zm8 0zm4 0zm2 0zm1 0zm2 0zm3 0zm4 0zm1 0zm3 0zm9 0zm6 0zm1 0zm1 0zm-45 1zm3 0zm5 0zm1 0zm4 0zm1 0zm2 0zm3 0zm1 0zm2 0zm5 0zm8 0zm2 0zm-31 1zm11 0zm1 0zm4 0zm1 0zm2 0zm3 0zm3 0zm3 0zm3 0zm3 0zm1 0zm4 0zm-35 1zm7 0zm5 0zm2 0zm3 0zm2 0zm5 0zm5 0zm-35 1zm4 0zm3 0zm1 0zm1 0zm1 0zm1 0zm1 0zm1 0zm3 0zm3 0zm2 0zm1 0zm1 0zm1 0zm-30 1zm6 0zm2 0zm2 0zm2 0zm1 0zm1 0zm1 0zm3 0zm1 0zm1 0zm1 0zm2 0zm1 0zm1 0zm1 0zm1 0zm1 0zm1 0zm1 0zm1 0zm6 0zm15 0zm2 0zm-39 1zm1 0zm3 0zm2 0zm1 0zm1 0zm1 0zm1 0zm1 0zm1 0zm1 0zm3 0zm1 0zm5 0zm-36 1zm7 0zm2 0zm6 0zm1 0zm1 0zm2 0zm2 0zm1 0zm1 0zm2 0zm1 0zm1 0zm2 0zm2 0zm4 0zm3 0zm3 0zm-40 1zm5 0zm3 0zm1 0zm2 0zm1 0zm1 0zm3 0zm2 0zm1 0zm1 0zm2 0zm2 0zm1 0zm1 0zm1 0zm1 0zm3 0zm3 0zm1 0zm1 0zm-35 1zm7 0zm1 0zm3 0zm2 0zm2 0zm2 0zm1 0zm3 0zm1 0zm1 0zm1 0zm1 0zm2 0zm1 0zm1 0zm-29 1zm11 0zm1 0zm1 0zm2 0zm1 0zm1 0zm1 0zm1 0zm2 0zm1 0zm1 0zm4 0zm1 0zm1 0zm2 0zm6 0zm3 0zm1 0zm65 0zm-109 1zm4 0zm4 0zm2 0zm1 0zm5 0zm2 0zm2 0zm2 0zm2 0zm1 0zm2 0zm3 0zm1 0zm1 0zm1 0zm1 0zm8 0zm-42 1zm6 0zm1 0zm7 0zm1 0zm2 0zm1 0zm1 0zm2 0zm1 0zm1 0zm1 0zm1 0zm1 0zm1 0zm1 0zm1 0zm1 0zm3 0zm1 0zm1 0zm1 0zm4 0zm1 0zm4 0zm2 0zm-40 1zm2 0zm1 0zm1 0zm1 0zm1 0zm2 0zm2 0zm2 0zm1 0zm4 0zm2 0zm1 0zm1 0zm1 0zm1 0zm1 0zm1 0zm2 0zm2 0zm1 0zm9 0zm14 0zm-53 1zm4 0zm2 0zm1 0zm1 0zm2 0zm1 0zm1 0zm1 0zm2 0zm1 0zm1 0zm2 0zm1 0zm4 0zm3 0zm1 0zm1 0zm1 0zm3 0zm2 0zm2 0zm-43 1zm1 0zm5 0zm3 0zm1 0zm1 0zm1 0zm1 0zm3 0zm2 0zm1 0zm1 0zm2 0zm1 0zm2 0zm1 0zm1 0zm1 0zm1 0zm1 0zm3 0zm1 0zm2 0zm4 0zm7 0zm-48 1zm4 0zm4 0zm4 0zm1 0zm1 0zm2 0zm1 0zm3 0zm1 0zm2 0zm2 0zm1 0zm1 0zm1 0zm1 0zm2 0zm1 0zm2 0zm2 0zm4 0zm3 0zm8 0zm-49 1zm4 0zm1 0zm3 0zm1 0zm2 0zm1 0zm1 0zm1 0zm1 0zm1 0zm1 0zm1 0zm1 0zm1 0zm1 0zm1 0zm1 0zm2 0zm1 0zm1 0zm2 0zm1 0zm1 0zm1 0zm1 0zm3 0zm2 0zm3 0zm-40 1zm1 0zm6 0zm4 0zm1 0zm1 0zm1 0zm1 0zm1 0zm1 0zm1 0zm1 0zm1 0zm1 0zm1 0zm1 0zm1 0zm1 0zm2 0zm1 0zm1 0zm1 0zm2 0zm1 0zm1 0zm7 0zm-44 1zm1 0zm3 0zm2 0zm1 0zm2 0zm1 0zm2 0zm1 0zm1 0zm1 0zm1 0zm1 0zm1 0zm3 0zm1 0zm3 0zm2 0zm1 0zm2 0zm2 0zm1 0zm2 0zm1 0zm2 0zm2 0zm13 0zm-49 1zm2 0zm1 0zm1 0zm2 0zm2 0zm1 0zm1 0zm1 0zm1 0zm1 0zm1 0zm3 0zm1 0zm1 0zm3 0zm1 0zm1 0zm1 0zm1 0zm3 0zm1 0zm10 0zm3 0zm1 0zm10 0zm-58 1zm5 0zm2 0zm1 0zm1 0zm1 0zm1 0zm1 0zm1 0zm1 0zm1 0zm1 0zm1 0zm1 0zm1 0zm1 0zm1 0zm1 0zm1 0zm1 0zm1 0zm1 0zm1 0zm1 0zm1 0zm1 0zm2 0zm1 0zm2 0zm1 0zm1 0zm1 0zm2 0zm-40 1zm2 0zm2 0zm2 0zm1 0zm3 0zm2 0zm1 0zm1 0zm1 0zm1 0zm1 0zm1 0zm1 0zm1 0zm1 0zm1 0zm1 0zm1 0zm1 0zm1 0zm1 0zm1 0zm1 0zm2 0zm1 0zm3 0zm3 0zm6 0zm-43 1zm1 0zm1 0zm2 0zm2 0zm1 0zm1 0zm3 0zm1 0zm1 0zm1 0zm1 0zm1 0zm1 0zm1 0zm1 0zm1 0zm1 0zm1 0zm1 0zm1 0zm1 0zm3 0zm1 0zm1 0zm1 0zm1 0zm1 0zm4 0zm1 0zm5 0zm-44 1zm4 0zm1 0zm1 0zm1 0zm3 0zm1 0zm2 0zm1 0zm1 0zm1 0zm1 0zm1 0zm1 0zm3 0zm1 0zm1 0zm1 0zm1 0zm1 0zm1 0zm1 0zm1 0zm1 0zm1 0zm1 0zm1 0zm1 0zm2 0zm3 0zm3 0zm4 0zm-45 1zm1 0zm1 0zm1 0zm1 0zm4 0zm1 0zm1 0zm1 0zm1 0zm1 0zm1 0zm2 0zm1 0zm1 0zm1 0zm1 0zm1 0zm1 0zm1 0zm3 0zm1 0zm1 0zm1 0zm1 0zm1 0zm1 0zm2 0zm1 0zm1 0zm7 0zm-45 1zm3 0zm3 0zm1 0zm1 0zm1 0zm1 0zm1 0zm1 0zm1 0zm3 0zm2 0zm1 0zm1 0zm1 0zm1 0zm1 0zm1 0zm1 0zm2 0zm1 0zm2 0zm1 0zm2 0zm1 0zm3 0zm2 0zm6 0zm4 0zm-49 1zm2 0zm1 0zm1 0zm1 0zm1 0zm1 0zm1 0zm1 0zm1 0zm1 0zm1 0zm1 0zm1 0zm1 0zm1 0zm1 0zm2 0zm1 0zm1 0zm1 0zm1 0zm1 0zm1 0zm2 0zm1 0zm1 0zm1 0zm1 0zm1 0zm1 0zm5 0zm1 0zm4 0zm4 0zm-45 1zm1 0zm2 0zm1 0zm1 0zm1 0zm1 0zm1 0zm1 0zm1 0zm1 0zm1 0zm1 0zm1 0zm1 0zm1 0zm2 0zm1 0zm1 0zm1 0zm1 0zm1 0zm1 0zm1 0zm1 0zm1 0zm1 0zm1 0zm1 0zm4 0zm3 0zm2 0zm2 0zm13 0zm-55 1zm1 0zm2 0zm1 0zm2 0zm1 0zm1 0zm1 0zm1 0zm1 0zm1 0zm1 0zm1 0zm1 0zm2 0zm1 0zm1 0zm1 0zm1 0zm2 0zm1 0zm1 0zm1 0zm1 0zm2 0zm1 0zm1 0zm1 0zm1 0zm3 0zm5 0zm6 0zm-47 1zm3 0zm1 0zm2 0zm1 0zm1 0zm1 0zm1 0zm1 0zm1 0zm1 0zm1 0zm1 0zm1 0zm1 0zm1 0zm1 0zm1 0zm1 0zm1 0zm1 0zm1 0zm1 0zm1 0zm1 0zm1 0zm3 0zm1 0zm5 0zm1 0zm6 0zm7 0zm-52 1zm1 0zm2 0zm1 0zm1 0zm1 0zm1 0zm1 0zm1 0zm1 0zm1 0zm1 0zm1 0zm1 0zm1 0zm1 0zm1 0zm1 0zm1 0zm1 0zm1 0zm1 0zm1 0zm1 0zm1 0zm1 0zm1 0zm1 0zm1 0zm4 0zm1 0zm1 0zm1 0zm1 0zm3 0zm-39 1zm2 0zm1 0zm1 0zm3 0zm1 0zm2 0zm1 0zm1 0zm1 0zm2 0zm1 0zm1 0zm1 0zm1 0zm1 0zm1 0zm1 0zm1 0zm1 0zm1 0zm1 0zm1 0zm1 0zm1 0zm1 0zm1 0zm1 0zm1 0zm1 0zm3 0zm1 0zm10 0zm-49 1zm2 0zm1 0zm1 0zm1 0zm2 0zm1 0zm2 0zm1 0zm1 0zm1 0zm1 0zm1 0zm1 0zm1 0zm1 0zm1 0zm1 0zm1 0zm1 0zm1 0zm1 0zm1 0zm1 0zm1 0zm1 0zm2 0zm1 0zm1 0zm4 0zm7 0zm1 0zm9 0zm20 0zm-71 1zm1 0zm1 0zm1 0zm2 0zm1 0zm1 0zm1 0zm1 0zm1 0zm1 0zm1 0zm1 0zm1 0zm1 0zm1 0zm1 0zm1 0zm1 0zm1 0zm1 0zm1 0zm1 0zm1 0zm1 0zm1 0zm1 0zm1 0zm1 0zm1 0zm1 0zm1 0zm2 0zm1 0zm1 0zm5 0zm1 0zm2 0zm6 0zm4 0zm-56 1zm1 0zm1 0zm1 0zm1 0zm1 0zm1 0zm1 0zm1 0zm1 0zm1 0zm1 0zm1 0zm1 0zm1 0zm1 0zm1 0zm1 0zm1 0zm1 0zm1 0zm1 0zm1 0zm1 0zm1 0zm1 0zm1 0zm1 0zm1 0zm1 0zm1 0zm1 0zm1 0zm1 0zm5 0zm2 0zm3 0zm7 0zm-47 1zm2 0zm1 0zm1 0zm1 0zm1 0zm1 0zm1 0zm1 0zm1 0zm1 0zm1 0zm1 0zm1 0zm1 0zm1 0zm1 0zm1 0zm1 0zm1 0zm1 0zm1 0zm1 0zm1 0zm1 0zm1 0zm1 0zm1 0zm1 0zm1 0zm1 0zm2 0zm2 0zm2 0zm1 0zm2 0zm9 0zm-51 1zm1 0zm2 0zm1 0zm2 0zm2 0zm1 0zm1 0zm1 0zm1 0zm1 0zm1 0zm1 0zm1 0zm1 0zm1 0zm1 0zm1 0zm1 0zm1 0zm1 0zm1 0zm1 0zm1 0zm1 0zm1 0zm1 0zm1 0zm1 0zm2 0zm2 0zm1 0zm1 0zm-36 1zm2 0zm1 0zm1 0zm1 0zm1 0zm1 0zm1 0zm1 0zm1 0zm1 0zm1 0zm1 0zm1 0zm1 0zm1 0zm1 0zm1 0zm1 0zm1 0zm1 0zm1 0zm1 0zm1 0zm1 0zm1 0zm1 0zm1 0zm1 0zm2 0zm2 0zm3 0zm1 0zm1 0zm2 0zm5 0zm-47 1zm3 0zm1 0zm1 0zm1 0zm1 0zm1 0zm1 0zm1 0zm1 0zm1 0zm1 0zm1 0zm1 0zm1 0zm1 0zm1 0zm1 0zm1 0zm1 0zm1 0zm1 0zm1 0zm1 0zm1 0zm1 0zm1 0zm2 0zm1 0zm1 0zm1 0zm1 0zm1 0zm10 0zm53 0zm-98 1zm1 0zm1 0zm1 0zm3 0zm1 0zm1 0zm1 0zm1 0zm1 0zm1 0zm1 0zm1 0zm1 0zm1 0zm1 0zm1 0zm1 0zm1 0zm1 0zm1 0zm1 0zm1 0zm1 0zm1 0zm2 0zm1 0zm1 0zm1 0zm2 0zm1 0zm1 0zm2 0zm3 0zm3 0zm1 0zm8 0zm-52 1zm1 0zm1 0zm2 0zm1 0zm1 0zm1 0zm1 0zm1 0zm1 0zm1 0zm1 0zm1 0zm1 0zm1 0zm1 0zm1 0zm1 0zm1 0zm1 0zm1 0zm1 0zm1 0zm1 0zm1 0zm2 0zm1 0zm1 0zm1 0zm1 0zm1 0zm1 0zm1 0zm1 0zm2 0zm1 0zm1 0zm1 0zm41 0zm-81 1zm2 0zm2 0zm1 0zm1 0zm1 0zm1 0zm1 0zm1 0zm1 0zm1 0zm1 0zm1 0zm1 0zm1 0zm1 0zm1 0zm1 0zm1 0zm1 0zm1 0zm1 0zm1 0zm1 0zm1 0zm1 0zm1 0zm1 0zm1 0zm1 0zm1 0zm4 0zm1 0zm1 0zm1 0zm1 0zm6 0zm6 0zm-50 1zm1 0zm1 0zm1 0zm1 0zm1 0zm1 0zm1 0zm1 0zm1 0zm1 0zm1 0zm1 0zm1 0zm1 0zm1 0zm1 0zm1 0zm1 0zm1 0zm1 0zm1 0zm1 0zm1 0zm1 0zm1 0zm1 0zm2 0zm3 0zm1 0zm1 0zm1 0zm1 0zm4 0zm5 0zm7 0zm-50 1zm1 0zm1 0zm2 0zm1 0zm1 0zm1 0zm1 0zm1 0zm1 0zm1 0zm1 0zm1 0zm1 0zm1 0zm1 0zm1 0zm1 0zm1 0zm1 0zm1 0zm1 0zm1 0zm1 0zm1 0zm1 0zm1 0zm1 0zm1 0zm1 0zm1 0zm2 0zm2 0zm6 0zm4 0zm-47 1zm2 0zm1 0zm1 0zm1 0zm1 0zm1 0zm1 0zm1 0zm1 0zm1 0zm1 0zm1 0zm1 0zm1 0zm1 0zm1 0zm1 0zm1 0zm1 0zm1 0zm1 0zm1 0zm1 0zm1 0zm1 0zm1 0zm1 0zm1 0zm3 0zm1 0zm1 0zm3 0zm2 0zm3 0zm-42 1zm3 0zm1 0zm1 0zm1 0zm1 0zm1 0zm1 0zm1 0zm1 0zm1 0zm1 0zm1 0zm1 0zm1 0zm1 0zm1 0zm1 0zm1 0zm1 0zm1 0zm1 0zm1 0zm1 0zm1 0zm1 0zm1 0zm1 0zm1 0zm1 0zm1 0zm1 0zm2 0zm6 0zm1 0zm11 0zm-54 1zm1 0zm1 0zm1 0zm1 0zm2 0zm1 0zm1 0zm1 0zm1 0zm1 0zm2 0zm1 0zm1 0zm1 0zm1 0zm1 0zm1 0zm1 0zm1 0zm1 0zm1 0zm1 0zm1 0zm1 0zm1 0zm1 0zm1 0zm1 0zm1 0zm1 0zm1 0zm1 0zm2 0zm1 0zm-36 1zm1 0zm1 0zm2 0zm1 0zm1 0zm3 0zm1 0zm1 0zm1 0zm1 0zm1 0zm1 0zm1 0zm1 0zm1 0zm1 0zm1 0zm1 0zm1 0zm1 0zm1 0zm1 0zm1 0zm1 0zm1 0zm1 0zm2 0zm2 0zm1 0zm2 0zm6 0zm-42 1zm1 0zm1 0zm1 0zm1 0zm1 0zm1 0zm1 0zm1 0zm1 0zm2 0zm1 0zm1 0zm1 0zm1 0zm1 0zm1 0zm1 0zm1 0zm1 0zm1 0zm1 0zm1 0zm1 0zm1 0zm1 0zm1 0zm1 0zm1 0zm3 0zm1 0zm1 0zm1 0zm2 0zm1 0zm14 0zm-52 1zm1 0zm1 0zm1 0zm1 0zm1 0zm1 0zm1 0zm1 0zm1 0zm1 0zm1 0zm1 0zm1 0zm1 0zm1 0zm1 0zm1 0zm1 0zm1 0zm1 0zm1 0zm1 0zm1 0zm1 0zm1 0zm1 0zm2 0zm1 0zm1 0zm1 0zm1 0zm2 0zm2 0zm6 0zm9 0zm-52 1zm2 0zm3 0zm1 0zm1 0zm1 0zm2 0zm1 0zm1 0zm1 0zm1 0zm1 0zm1 0zm1 0zm1 0zm1 0zm1 0zm1 0zm1 0zm1 0zm1 0zm1 0zm1 0zm1 0zm1 0zm1 0zm1 0zm2 0zm3 0zm1 0zm1 0zm2 0zm1 0zm4 0zm-41 1zm1 0zm1 0zm2 0zm1 0zm1 0zm1 0zm1 0zm1 0zm1 0zm1 0zm1 0zm1 0zm1 0zm1 0zm1 0zm1 0zm1 0zm1 0zm1 0zm1 0zm1 0zm1 0zm1 0zm1 0zm1 0zm1 0zm1 0zm2 0zm5 0zm2 0zm1 0zm5 0zm9 0zm47 0zm-102 1zm2 0zm2 0zm2 0zm1 0zm1 0zm2 0zm1 0zm1 0zm1 0zm1 0zm1 0zm1 0zm1 0zm1 0zm1 0zm1 0zm1 0zm1 0zm1 0zm1 0zm1 0zm1 0zm1 0zm1 0zm1 0zm1 0zm1 0zm1 0zm3 0zm3 0zm2 0zm24 0zm-62 1zm1 0zm5 0zm1 0zm1 0zm2 0zm2 0zm1 0zm1 0zm1 0zm1 0zm1 0zm2 0zm1 0zm1 0zm1 0zm1 0zm2 0zm1 0zm1 0zm5 0zm1 0zm1 0zm3 0zm1 0zm5 0zm-43 1zm2 0zm1 0zm4 0zm2 0zm2 0zm1 0zm1 0zm2 0zm1 0zm1 0zm1 0zm2 0zm1 0zm1 0zm2 0zm1 0zm1 0zm1 0zm2 0zm1 0zm2 0zm1 0zm3 0zm1 0zm2 0zm7 0zm-48 1zm1 0zm6 0zm1 0zm3 0zm2 0zm2 0zm1 0zm1 0zm1 0zm1 0zm1 0zm1 0zm1 0zm1 0zm1 0zm1 0zm2 0zm1 0zm7 0zm1 0zm1 0zm5 0zm1 0zm-43 1zm4 0zm1 0zm3 0zm1 0zm1 0zm2 0zm1 0zm1 0zm2 0zm2 0zm1 0zm1 0zm1 0zm1 0zm1 0zm2 0zm4 0zm1 0zm2 0zm1 0zm3 0zm3 0zm19 0zm-55 1zm2 0zm2 0zm2 0zm1 0zm3 0zm1 0zm1 0zm2 0zm2 0zm1 0zm3 0zm1 0zm1 0zm2 0zm7 0zm2 0zm5 0zm1 0zm1 0zm2 0zm-44 1zm3 0zm4 0zm1 0zm1 0zm1 0zm2 0zm1 0zm4 0zm1 0zm1 0zm1 0zm1 0zm1 0zm2 0zm2 0zm9 0zm1 0zm-33 1zm1 0zm5 0zm2 0zm2 0zm1 0zm1 0zm1 0zm1 0zm3 0zm1 0zm1 0zm2 0zm1 0zm1 0zm1 0zm1 0zm2 0zm3 0zm5 0zm-32 1zm1 0zm1 0zm2 0zm1 0zm3 0zm1 0zm2 0zm1 0zm1 0zm1 0zm1 0zm1 0zm1 0zm1 0zm1 0zm2 0zm1 0zm2 0zm2 0zm2 0zm6 0zm1 0zm26 0zm-68 1zm2 0zm3 0zm3 0zm3 0zm1 0zm1 0zm2 0zm3 0zm3 0zm1 0zm2 0zm1 0zm1 0zm1 0zm2 0zm7 0zm1 0zm1 0zm-36 1zm12 0zm1 0zm2 0zm3 0zm1 0zm2 0zm2 0zm1 0zm1 0zm1 0zm1 0zm5 0zm3 0zm-36 1zm5 0zm5 0zm2 0zm3 0zm1 0zm1 0zm2 0zm4 0zm1 0zm8 0zm1 0zm8 0zm3 0zm-44 1zm6 0zm2 0zm1 0zm2 0zm2 0zm3 0zm2 0zm4 0zm1 0zm1 0zm4 0zm1 0zm5 0zm2 0zm4 0zm-31 1zm3 0zm2 0zm2 0zm1 0zm2 0zm1 0zm3 0zm7 0zm1 0zm2 0zm10 0zm-26 1zm5 0zm19 0zm2 0zm2 0zm-34 1zm2 0zm3 0zm3 0zm1 0zm3 0zm4 0zm26 0zm-44 1zm1 0zm5 0zm4 0zm2 0zm1 0zm2 0zm6 0zm-19 1zm2 0zm4 0zm2 0zm1 0zm2 0zm8 0zm5 0zm8 0zm6 0zm-45 1zm16 0zm2 0zm4 0zm-18 1zm9 0zm3 0zm3 0zm2 0zm-20 1zm1 0zm7 0zm1 0zm36 0zm-41 1zm4 0zm7 0zm1 0zm1 0zm-19 1zm7 0zm1 0zm1 0zm2 0zm1 0zm4 0zm21 0zm-29 1zm5 0zm9 0zm1 0zm2 0zm15 0zm-23 1zm5 0zm3 0zm3 0zm-15 1zm21 0zm-5 1zm-29 1zm31 0zm14 0zm-44 1zm29 0zm4 0zm-21 1zm19 0zm-31 1zm47 0zm-49 1zm28 0zm-24 1zm7 0zm7 1zm2 2zm-1 1zm25 0zm-24 3z"/>
<path transform="translate(364.5 493.5) scale(1 -1)" d="M0 0m60 3zm-54 2zm38 1zm6 0zm92 0zm-82 1zm80 1zm-110 1zm36 0zm-32 1zm15 0zm-29 3zm1 0zm18 0zm5 0zm8 0zm-23 2zm-16 1zm24 0zm3 0zm-23 1zm9 0zm2 0zm9 0zm5 0zm-10 1zm3 0zm-14 1zm1 0zm3 0zm5 0zm-15 1zm11 0zm5 0zm2 0zm1 0zm3 0zm6 0zm2 0zm-20 1zm1 0zm6 0zm3 0zm3 0zm-24 1zm2 0zm7 0zm5 0zm2 0zm5 0zm2 0zm3 0zm6 0zm-27 1zm5 0zm3 0zm1 0zm5 0zm1 0zm1 0zm1 0zm13 0zm1 0zm5 0zm49 0zm-91 1zm1 0zm15 0zm3 0zm1 0zm1 0zm3 0zm4 0zm2 0zm1 0zm1 0zm-24 1zm5 0zm1 0zm8 0zm1 0zm3 0zm1 0zm6 0zm-39 1zm8 0zm1 0zm1 0zm4 0zm3 0zm3 0zm3 0zm1 0zm1 0zm2 0zm1 0zm2 0zm5 0zm7 0zm-36 1zm4 0zm3 0zm1 0zm7 0zm3 0zm3 0zm1 0zm17 0zm-44 1zm5 0zm3 0zm5 0zm1 0zm1 0zm2 0zm3 0zm2 0zm1 0zm1 0zm3 0zm6 0zm6 0zm3 0zm-42 1zm2 0zm3 0zm3 0zm2 0zm3 0zm3 0zm1 0zm6 0zm1 0zm1 0zm1 0zm3 0zm2 0zm2 0zm1 0zm2 0zm5 0zm3 0zm2 0zm-46 1zm5 0zm7 0zm5 0zm5 0zm1 0zm2 0zm1 0zm1 0zm2 0zm6 0zm1 0zm3 0zm5 0zm-27 1zm5 0zm2 0zm1 0zm1 0zm1 0zm1 0zm3 0zm3 0zm1 0zm4 0zm2 0zm-39 1zm9 0zm1 0zm2 0zm1 0zm2 0zm1 0zm3 0zm1 0zm4 0zm1 0zm3 0zm1 0zm1 0zm1 0zm3 0zm1 0zm6 0zm-44 1zm9 0zm2 0zm1 0zm1 0zm2 0zm4 0zm1 0zm3 0zm1 0zm2 0zm2 0zm5 0zm1 0zm1 0zm5 0zm-39 1zm4 0zm8 0zm2 0zm2 0zm1 0zm2 0zm2 0zm1 0zm6 0zm1 0zm2 0zm4 0zm3 0zm2 0zm6 0zm41 0zm15 0zm-95 1zm3 0zm2 0zm1 0zm1 0zm3 0zm1 0zm2 0zm1 0zm2 0zm1 0zm2 0zm5 0zm2 0zm2 0zm2 0zm1 0zm1 0zm8 0zm-42 1zm2 0zm1 0zm2 0zm1 0zm3 0zm6 0zm1 0zm2 0zm3 0zm1 0zm2 0zm1 0zm2 0zm3 0zm1 0zm10 0zm-43 1zm1 0zm4 0zm4 0zm1 0zm1 0zm2 0zm1 0zm2 0zm1 0zm1 0zm1 0zm1 0zm1 0zm1 0zm1 0zm1 0zm1 0zm1 0zm1 0zm1 0zm2 0zm1 0zm2 0zm2 0zm8 0zm84 0zm-135 1zm8 0zm6 0zm1 0zm1 0zm4 0zm1 0zm1 0zm1 0zm1 0zm1 0zm2 0zm1 0zm2 0zm2 0zm3 0zm1 0zm1 0zm1 0zm2 0zm8 0zm-49 1zm5 0zm4 0zm3 0zm2 0zm2 0zm1 0zm1 0zm1 0zm2 0zm1 0zm2 0zm1 0zm1 0zm1 0zm1 0zm1 0zm1 0zm1 0zm1 0zm1 0zm3 0zm4 0zm1 0zm1 0zm2 0zm10 0zm2 0zm72 0zm-122 1zm2 0zm12 0zm1 0zm2 0zm2 0zm2 0zm1 0zm1 0zm1 0zm1 0zm2 0zm1 0zm2 0zm2 0zm2 0zm1 0zm41 0zm-75 1zm4 0zm6 0zm5 0zm2 0zm3 0zm1 0zm3 0zm1 0zm1 0zm1 0zm1 0zm1 0zm2 0zm1 0zm1 0zm1 0zm4 0zm3 0zm1 0zm1 0zm42 0zm35 0zm-123 1zm8 0zm3 0zm1 0zm1 0zm2 0zm3 0zm1 0zm1 0zm2 0zm1 0zm2 0zm1 0zm2 0zm1 0zm2 0zm1 0zm1 0zm1 0zm8 0zm-40 1zm10 0zm1 0zm1 0zm2 0zm1 0zm1 0zm2 0zm1 0zm1 0zm1 0zm1 0zm1 0zm1 0zm1 0zm1 0zm1 0zm3 0zm4 0zm5 0zm1 0zm4 0zm4 0zm28 0zm53 0zm-126 1zm3 0zm5 0zm2 0zm1 0zm2 0zm1 0zm1 0zm3 0zm1 0zm1 0zm2 0zm1 0zm1 0zm1 0zm2 0zm1 0zm1 0zm3 0zm3 0zm1 0zm5 0zm39 0zm7 0zm-90 1zm11 0zm3 0zm3 0zm1 0zm2 0zm2 0zm1 0zm1 0zm1 0zm2 0zm1 0zm1 0zm2 0zm1 0zm4 0zm2 0zm3 0zm47 0zm12 0zm-103 1zm7 0zm2 0zm4 0zm1 0zm4 0zm1 0zm1 0zm3 0zm2 0zm5 0zm1 0zm2 0zm1 0zm1 0zm3 0zm4 0zm28 0zm-72 1zm5 0zm5 0zm3 0zm6 0zm5 0zm1 0zm2 0zm1 0zm4 0zm1 0zm4 0zm1 0zm1 0zm2 0zm7 0zm25 0zm28 0zm-93 1zm6 0zm3 0zm1 0zm2 0zm2 0zm1 0zm1 0zm1 0zm1 0zm1 0zm1 0zm1 0zm3 0zm1 0zm2 0zm1 0zm4 0zm3 0zm3 0zm16 0zm-48 1zm1 0zm4 0zm1 0zm3 0zm2 0zm4 0zm1 0zm2 0zm4 0zm2 0zm3 0zm1 0zm-33 1zm4 0zm1 0zm5 0zm1 0zm2 0zm2 0zm1 0zm1 0zm1 0zm2 0zm1 0zm1 0zm2 0zm1 0zm1 0zm1 0zm1 0zm-37 1zm16 0zm3 0zm2 0zm1 0zm2 0zm2 0zm1 0zm1 0zm1 0zm1 0zm1 0zm1 0zm4 0zm1 0zm1 0zm1 0zm11 0zm37 0zm7 0zm-83 1zm1 0zm8 0zm1 0zm1 0zm1 0zm1 0zm1 0zm5 0zm2 0zm4 0zm1 0zm4 0zm2 0zm3 0zm1 0zm73 0zm-120 1zm13 0zm2 0zm1 0zm3 0zm2 0zm2 0zm1 0zm2 0zm2 0zm1 0zm3 0zm3 0zm2 0zm2 0zm1 0zm2 0zm1 0zm2 0zm5 0zm22 0zm33 0zm-97 1zm9 0zm1 0zm2 0zm1 0zm2 0zm1 0zm2 0zm2 0zm2 0zm2 0zm2 0zm2 0zm2 0zm1 0zm7 0zm2 0zm58 0zm1 0zm-96 1zm4 0zm3 0zm1 0zm5 0zm1 0zm1 0zm1 0zm2 0zm1 0zm3 0zm2 0zm6 0zm2 0zm2 0zm32 0zm19 0zm-89 1zm3 0zm6 0zm1 0zm2 0zm1 0zm1 0zm2 0zm1 0zm1 0zm3 0zm1 0zm1 0zm2 0zm1 0zm1 0zm1 0zm1 0zm1 0zm3 0zm2 0zm1 0zm4 0zm3 0zm58 0zm-97 1zm5 0zm2 0zm2 0zm1 0zm1 0zm1 0zm1 0zm2 0zm2 0zm1 0zm2 0zm2 0zm1 0zm2 0zm8 0zm27 0zm40 0zm4 0zm7 0zm-108 1zm5 0zm4 0zm1 0zm1 0zm1 0zm2 0zm1 0zm1 0zm1 0zm2 0zm1 0zm1 0zm1 0zm1 0zm1 0zm3 0zm3 0zm30 0zm28 0zm10 0zm6 0zm-113 1zm5 0zm5 0zm5 0zm1 0zm2 0zm2 0zm1 0zm1 0zm1 0zm1 0zm1 0zm1 0zm1 0zm2 0zm1 0zm2 0zm2 0zm1 0zm2 0zm1 0zm5 0zm54 0zm-98 1zm6 0zm8 0zm2 0zm1 0zm1 0zm2 0zm1 0zm1 0zm1 0zm1 0zm1 0zm4 0zm1 0zm2 0zm2 0zm8 0zm-46 1zm4 0zm7 0zm3 0zm1 0zm1 0zm1 0zm1 0zm1 0zm1 0zm1 0zm1 0zm1 0zm1 0zm1 0zm1 0zm2 0zm1 0zm1 0zm1 0zm2 0zm1 0zm2 0zm1 0zm1 0zm2 0zm2 0zm1 0zm38 0zm8 0zm17 0zm-96 1zm3 0zm1 0zm1 0zm1 0zm1 0zm3 0zm1 0zm1 0zm2 0zm1 0zm1 0zm1 0zm2 0zm1 0zm1 0zm3 0zm1 0zm2 0zm1 0zm2 0zm11 0zm30 0zm-82 1zm10 0zm4 0zm2 0zm2 0zm1 0zm1 0zm3 0zm2 0zm1 0zm1 0zm1 0zm1 0zm1 0zm1 0zm1 0zm1 0zm2 0zm1 0zm1 0zm1 0zm3 0zm2 0zm2 0zm3 0zm5 0zm-46 1zm1 0zm1 0zm3 0zm3 0zm2 0zm1 0zm1 0zm2 0zm1 0zm4 0zm1 0zm2 0zm3 0zm1 0zm1 0zm2 0zm1 0zm1 0zm2 0zm7 0zm20 0zm11 0zm-74 1zm2 0zm4 0zm1 0zm1 0zm1 0zm1 0zm1 0zm1 0zm4 0zm1 0zm1 0zm1 0zm1 0zm1 0zm1 0zm1 0zm1 0zm1 0zm1 0zm1 0zm1 0zm1 0zm1 0zm1 0zm1 0zm2 0zm2 0zm1 0zm9 0zm2 0zm2 0zm1 0zm28 0zm-72 1zm1 0zm1 0zm1 0zm1 0zm2 0zm1 0zm1 0zm1 0zm1 0zm1 0zm1 0zm1 0zm2 0zm2 0zm1 0zm2 0zm2 0zm1 0zm1 0zm1 0zm1 0zm2 0zm2 0zm1 0zm-39 1zm5 0zm3 0zm1 0zm3 0zm2 0zm1 0zm1 0zm1 0zm1 0zm2 0zm1 0zm1 0zm1 0zm1 0zm1 0zm1 0zm1 0zm3 0zm1 0zm1 0zm1 0zm1 0zm2 0zm1 0zm1 0zm1 0zm2 0zm5 0zm17 0zm4 0zm33 0zm-99 1zm5 0zm2 0zm2 0zm1 0zm1 0zm3 0zm2 0zm1 0zm1 0zm1 0zm1 0zm1 0zm1 0zm1 0zm1 0zm1 0zm1 0zm1 0zm1 0zm2 0zm1 0zm1 0zm2 0zm1 0zm2 0zm7 0zm1 0zm3 0zm3 0zm54 0zm-105 1zm3 0zm1 0zm3 0zm4 0zm1 0zm2 0zm1 0zm1 0zm1 0zm1 0zm2 0zm1 0zm2 0zm1 0zm1 0zm1 0zm1 0zm2 0zm1 0zm1 0zm1 0zm1 0zm1 0zm4 0zm1 0zm5 0zm2 0zm4 0zm28 0zm7 0zm-90 1zm1 0zm7 0zm1 0zm4 0zm2 0zm3 0zm3 0zm1 0zm1 0zm1 0zm1 0zm1 0zm1 0zm1 0zm1 0zm1 0zm1 0zm1 0zm1 0zm1 0zm1 0zm1 0zm2 0zm2 0zm1 0zm1 0zm1 0zm1 0zm6 0zm6 0zm2 0zm2 0zm-52 1zm2 0zm1 0zm1 0zm4 0zm1 0zm1 0zm1 0zm2 0zm1 0zm1 0zm2 0zm1 0zm1 0zm1 0zm1 0zm1 0zm1 0zm1 0zm1 0zm1 0zm1 0zm3 0zm7 0zm9 0zm4 0zm13 0zm5 0zm6 0zm15 0zm12 0zm-109 1zm5 0zm2 0zm1 0zm1 0zm2 0zm1 0zm3 0zm1 0zm1 0zm1 0zm1 0zm1 0zm1 0zm1 0zm1 0zm1 0zm1 0zm1 0zm1 0zm1 0zm1 0zm2 0zm1 0zm1 0zm1 0zm1 0zm2 0zm1 0zm1 0zm1 0zm1 0zm1 0zm4 0zm1 0zm4 0zm61 0zm-109 1zm5 0zm2 0zm1 0zm2 0zm2 0zm1 0zm1 0zm1 0zm1 0zm1 0zm2 0zm1 0zm1 0zm1 0zm1 0zm1 0zm1 0zm1 0zm1 0zm1 0zm1 0zm1 0zm1 0zm3 0zm1 0zm1 0zm1 0zm1 0zm5 0zm53 0zm-91 1zm1 0zm1 0zm2 0zm1 0zm2 0zm2 0zm1 0zm1 0zm1 0zm1 0zm1 0zm1 0zm1 0zm1 0zm1 0zm1 0zm1 0zm1 0zm1 0zm1 0zm1 0zm1 0zm1 0zm1 0zm2 0zm1 0zm2 0zm1 0zm2 0zm1 0zm1 0zm1 0zm5 0zm-45 1zm1 0zm1 0zm2 0zm1 0zm1 0zm1 0zm2 0zm1 0zm1 0zm1 0zm1 0zm1 0zm1 0zm1 0zm1 0zm1 0zm1 0zm1 0zm1 0zm1 0zm1 0zm1 0zm1 0zm2 0zm1 0zm1 0zm1 0zm1 0zm2 0zm1 0zm1 0zm1 0zm4 0zm3 0zm1 0zm9 0zm-56 1zm2 0zm2 0zm1 0zm1 0zm4 0zm1 0zm1 0zm1 0zm1 0zm1 0zm1 0zm1 0zm1 0zm1 0zm1 0zm1 0zm1 0zm1 0zm1 0zm1 0zm1 0zm1 0zm1 0zm1 0zm1 0zm1 0zm1 0zm1 0zm1 0zm1 0zm2 0zm1 0zm2 0zm1 0zm1 0zm3 0zm2 0zm13 0zm4 0zm24 0zm-82 1zm1 0zm1 0zm1 0zm2 0zm1 0zm1 0zm1 0zm1 0zm1 0zm1 0zm1 0zm1 0zm1 0zm1 0zm1 0zm1 0zm1 0zm1 0zm1 0zm1 0zm1 0zm1 0zm1 0zm1 0zm1 0zm1 0zm1 0zm1 0zm1 0zm1 0zm1 0zm1 0zm1 0zm1 0zm1 0zm2 0zm23 0zm14 0zm6 0zm14 0zm-95 1zm1 0zm2 0zm1 0zm2 0zm2 0zm1 0zm1 0zm1 0zm1 0zm1 0zm1 0zm1 0zm1 0zm1 0zm1 0zm1 0zm1 0zm1 0zm1 0zm1 0zm1 0zm1 0zm1 0zm1 0zm1 0zm1 0zm1 0zm1 0zm1 0zm1 0zm1 0zm1 0zm1 0zm5 0zm13 0zm3 0zm2 0zm19 0zm-86 1zm5 0zm1 0zm1 0zm2 0zm3 0zm1 0zm1 0zm1 0zm1 0zm1 0zm1 0zm1 0zm1 0zm1 0zm1 0zm1 0zm1 0zm1 0zm1 0zm2 0zm1 0zm1 0zm1 0zm1 0zm1 0zm1 0zm1 0zm1 0zm2 0zm1 0zm1 0zm1 0zm1 0zm2 0zm2 0zm9 0zm24 0zm-77 1zm1 0zm1 0zm1 0zm2 0zm1 0zm4 0zm1 0zm1 0zm1 0zm1 0zm1 0zm1 0zm1 0zm1 0zm1 0zm1 0zm1 0zm1 0zm1 0zm1 0zm1 0zm1 0zm1 0zm1 0zm1 0zm1 0zm1 0zm1 0zm1 0zm1 0zm1 0zm1 0zm1 0zm1 0zm1 0zm1 0zm1 0zm1 0zm1 0zm1 0zm3 0zm-47 1zm1 0zm2 0zm1 0zm4 0zm2 0zm1 0zm1 0zm1 0zm1 0zm1 0zm1 0zm1 0zm1 0zm1 0zm1 0zm1 0zm1 0zm1 0zm1 0zm1 0zm1 0zm1 0zm1 0zm1 0zm1 0zm1 0zm1 0zm1 0zm1 0zm1 0zm1 0zm1 0zm1 0zm1 0zm1 0zm1 0zm2 0zm3 0zm2 0zm1 0zm13 0zm-62 1zm3 0zm1 0zm2 0zm1 0zm1 0zm2 0zm2 0zm1 0zm1 0zm1 0zm1 0zm1 0zm1 0zm1 0zm1 0zm1 0zm1 0zm1 0zm1 0zm1 0zm1 0zm1 0zm1 0zm1 0zm1 0zm1 0zm1 0zm1 0zm1 0zm1 0zm1 0zm2 0zm3 0zm1 0zm3 0zm7 0zm12 0zm-64 1zm1 0zm1 0zm3 0zm4 0zm1 0zm1 0zm1 0zm1 0zm1 0zm1 0zm1 0zm1 0zm1 0zm1 0zm1 0zm1 0zm1 0zm1 0zm1 0zm1 0zm1 0zm1 0zm1 0zm1 0zm1 0zm1 0zm1 0zm1 0zm1 0zm1 0zm1 0zm1 0zm1 0zm1 0zm5 0zm5 0zm13 0zm20 0zm5 0zm-85 1zm3 0zm1 0zm1 0zm1 0zm1 0zm1 0zm1 0zm2 0zm1 0zm1 0zm1 0zm1 0zm1 0zm1 0zm1 0zm1 0zm1 0zm1 0zm1 0zm1 0zm1 0zm1 0zm1 0zm1 0zm1 0zm1 0zm1 0zm1 0zm1 0zm1 0zm1 0zm2 0zm1 0zm2 0zm1 0zm1 0zm6 0zm1 0zm6 0zm8 0zm-65 1zm1 0zm5 0zm1 0zm2 0zm1 0zm1 0zm1 0zm1 0zm1 0zm1 0zm1 0zm1 0zm1 0zm1 0zm1 0zm1 0zm1 0zm1 0zm1 0zm1 0zm1 0zm1 0zm1 0zm1 0zm1 0zm1 0zm1 0zm1 0zm1 0zm1 0zm1 0zm1 0zm1 0zm1 0zm2 0zm1 0zm7 0zm35 0zm-81 1zm2 0zm1 0zm1 0zm1 0zm1 0zm1 0zm1 0zm1 0zm1 0zm1 0zm1 0zm2 0zm1 0zm1 0zm1 0zm1 0zm1 0zm1 0zm1 0zm1 0zm1 0zm1 0zm1 0zm1 0zm1 0zm1 0zm1 0zm1 0zm1 0zm1 0zm1 0zm1 0zm1 0zm1 0zm2 0zm1 0zm1 0zm2 0zm3 0zm5 0zm1 0zm8 0zm8 0zm-67 1zm1 0zm1 0zm1 0zm1 0zm2 0zm1 0zm1 0zm1 0zm1 0zm1 0zm1 0zm1 0zm1 0zm1 0zm1 0zm1 0zm1 0zm1 0zm1 0zm1 0zm1 0zm1 0zm1 0zm1 0zm1 0zm1 0zm1 0zm1 0zm1 0zm1 0zm1 0zm1 0zm1 0zm1 0zm1 0zm1 0zm1 0zm1 0zm1 0zm1 0zm15 0zm33 0zm-90 1zm1 0zm1 0zm1 0zm2 0zm2 0zm1 0zm1 0zm1 0zm1 0zm1 0zm1 0zm1 0zm1 0zm1 0zm1 0zm1 0zm1 0zm1 0zm1 0zm1 0zm1 0zm1 0zm1 0zm1 0zm1 0zm1 0zm1 0zm1 0zm1 0zm1 0zm1 0zm1 0zm1 0zm1 0zm1 0zm4 0zm1 0zm1 0zm3 0zm1 0zm6 0zm16 0zm57 0zm-130 1zm1 0zm6 0zm1 0zm1 0zm1 0zm1 0zm1 0zm1 0zm1 0zm1 0zm1 0zm1 0zm1 0zm1 0zm1 0zm1 0zm1 0zm1 0zm1 0zm1 0zm1 0zm1 0zm1 0zm1 0zm1 0zm1 0zm1 0zm1 0zm1 0zm1 0zm1 0zm1 0zm1 0zm1 0zm1 0zm1 0zm1 0zm1 0zm1 0zm2 0zm6 0zm-52 1zm1 0zm2 0zm3 0zm1 0zm2 0zm1 0zm1 0zm1 0zm1 0zm1 0zm1 0zm1 0zm1 0zm1 0zm1 0zm1 0zm1 0zm1 0zm1 0zm1 0zm1 0zm1 0zm1 0zm1 0zm1 0zm1 0zm1 0zm1 0zm1 0zm1 0zm1 0zm1 0zm1 0zm1 0zm2 0zm1 0zm1 0zm1 0zm1 0zm1 0zm1 0zm1 0zm1 0zm1 0zm7 0zm4 0zm1 0zm6 0zm-61 1zm2 0zm1 0zm1 0zm2 0zm1 0zm1 0zm1 0zm1 0zm1 0zm1 0zm1 0zm1 0zm1 0zm1 0zm1 0zm1 0zm1 0zm1 0zm1 0zm1 0zm1 0zm1 0zm1 0zm1 0zm1 0zm1 0zm1 0zm1 0zm1 0zm1 0zm1 0zm1 0zm1 0zm3 0zm1 0zm3 0zm1 0zm17 0zm-63 1zm2 0zm2 0zm1 0zm2 0zm1 0zm1 0zm1 0zm1 0zm1 0zm1 0zm1 0zm1 0zm1 0zm1 0zm1 0zm1 0zm1 0zm1 0zm1 0zm1 0zm1 0zm1 0zm1 0zm1 0zm1 0zm1 0zm1 0zm1 0zm1 0zm1 0zm1 0zm2 0zm1 0zm1 0zm1 0zm1 0zm4 0zm1 0zm10 0zm22 0zm-79 1zm2 0zm1 0zm1 0zm1 0zm1 0zm1 0zm1 0zm2 0zm1 0zm1 0zm2 0zm2 0zm1 0zm1 0zm1 0zm1 0zm1 0zm1 0zm1 0zm1 0zm1 0zm1 0zm1 0zm1 0zm1 0zm1 0zm2 0zm1 0zm2 0zm1 0zm1 0zm1 0zm1 0zm1 0zm2 0zm1 0zm1 0zm4 0zm-49 1zm4 0zm3 0zm1 0zm2 0zm1 0zm1 0zm1 0zm1 0zm1 0zm1 0zm1 0zm1 0zm1 0zm1 0zm1 0zm1 0zm1 0zm1 0zm1 0zm1 0zm1 0zm1 0zm1 0zm1 0zm1 0zm1 0zm1 0zm1 0zm1 0zm1 0zm1 0zm1 0zm1 0zm1 0zm1 0zm1 0zm3 0zm2 0zm5 0zm4 0zm9 0zm-61 1zm1 0zm1 0zm2 0zm2 0zm1 0zm1 0zm1 0zm1 0zm1 0zm1 0zm1 0zm1 0zm1 0zm1 0zm1 0zm1 0zm1 0zm1 0zm1 0zm1 0zm1 0zm1 0zm1 0zm1 0zm1 0zm1 0zm1 0zm1 0zm1 0zm1 0zm1 0zm1 0zm1 0zm1 0zm1 0zm1 0zm1 0zm1 0zm2 0zm2 0zm3 0zm4 0zm-50 1zm3 0zm1 0zm1 0zm1 0zm1 0zm3 0zm2 0zm1 0zm1 0zm1 0zm1 0zm1 0zm1 0zm1 0zm1 0zm1 0zm1 0zm1 0zm1 0zm1 0zm1 0zm1 0zm1 0zm1 0zm1 0zm1 0zm1 0zm1 0zm1 0zm2 0zm2 0zm1 0zm2 0zm1 0zm1 0zm3 0zm3 0zm-54 1zm4 0zm2 0zm2 0zm1 0zm1 0zm1 0zm2 0zm1 0zm1 0zm1 0zm1 0zm1 0zm1 0zm1 0zm1 0zm1 0zm1 0zm1 0zm1 0zm1 0zm1 0zm1 0zm1 0zm1 0zm1 0zm1 0zm1 0zm1 0zm1 0zm1 0zm1 0zm1 0zm1 0zm1 0zm2 0zm2 0zm1 0zm2 0zm1 0zm4 0zm7 0zm-56 1zm2 0zm3 0zm2 0zm1 0zm1 0zm1 0zm1 0zm1 0zm1 0zm1 0zm1 0zm1 0zm1 0zm1 0zm1 0zm1 0zm1 0zm1 0zm1 0zm1 0zm1 0zm1 0zm1 0zm1 0zm1 0zm1 0zm1 0zm1 0zm1 0zm1 0zm1 0zm3 0zm1 0zm1 0zm1 0zm1 0zm1 0zm2 0zm3 0zm1 0zm5 0zm-55 1zm1 0zm3 0zm1 0zm2 0zm1 0zm1 0zm1 0zm2 0zm1 0zm1 0zm1 0zm1 0zm1 0zm1 0zm1 0zm1 0zm1 0zm1 0zm1 0zm1 0zm1 0zm1 0zm1 0zm1 0zm1 0zm1 0zm1 0zm1 0zm1 0zm1 0zm1 0zm1 0zm1 0zm1 0zm1 0zm1 0zm1 0zm-43 1zm4 0zm3 0zm2 0zm1 0zm1 0zm1 0zm2 0zm1 0zm1 0zm1 0zm1 0zm1 0zm1 0zm1 0zm1 0zm1 0zm1 0zm1 0zm1 0zm1 0zm1 0zm1 0zm1 0zm1 0zm1 0zm1 0zm1 0zm1 0zm2 0zm1 0zm1 0zm1 0zm2 0zm1 0zm1 0zm1 0zm2 0zm1 0zm7 0zm9 0zm-62 1zm3 0zm2 0zm2 0zm2 0zm1 0zm1 0zm1 0zm1 0zm1 0zm1 0zm1 0zm1 0zm1 0zm1 0zm1 0zm1 0zm1 0zm1 0zm1 0zm1 0zm1 0zm1 0zm1 0zm1 0zm1 0zm1 0zm1 0zm1 0zm1 0zm1 0zm2 0zm1 0zm1 0zm1 0zm3 0zm3 0zm2 0zm11 0zm3 0zm-61 1zm1 0zm6 0zm1 0zm1 0zm1 0zm1 0zm1 0zm1 0zm1 0zm1 0zm1 0zm1 0zm1 0zm1 0zm1 0zm1 0zm1 0zm1 0zm1 0zm1 0zm1 0zm1 0zm1 0zm1 0zm1 0zm1 0zm1 0zm1 0zm1 0zm1 0zm1 0zm1 0zm2 0zm1 0zm7 0zm4 0zm22 0zm5 0zm-77 1zm3 0zm1 0zm1 0zm1 0zm1 0zm1 0zm1 0zm1 0zm1 0zm1 0zm1 0zm1 0zm1 0zm1 0zm1 0zm1 0zm1 0zm1 0zm1 0zm1 0zm1 0zm1 0zm1 0zm1 0zm1 0zm1 0zm1 0zm1 0zm1 0zm1 0zm1 0zm1 0zm1 0zm2 0zm1 0zm1 0zm8 0zm-48 1zm1 0zm4 0zm3 0zm3 0zm1 0zm2 0zm1 0zm1 0zm1 0zm1 0zm1 0zm1 0zm1 0zm1 0zm1 0zm1 0zm1 0zm1 0zm1 0zm1 0zm1 0zm1 0zm1 0zm1 0zm1 0zm1 0zm1 0zm2 0zm1 0zm1 0zm1 0zm3 0zm2 0zm10 0zm35 0zm-89 1zm2 0zm2 0zm4 0zm1 0zm1 0zm1 0zm1 0zm1 0zm2 0zm2 0zm2 0zm1 0zm1 0zm1 0zm1 0zm1 0zm2 0zm1 0zm1 0zm1 0zm1 0zm1 0zm1 0zm1 0zm1 0zm2 0zm2 0zm1 0zm2 0zm2 0zm23 0zm32 0zm-101 1zm2 0zm1 0zm3 0zm1 0zm3 0zm1 0zm1 0zm2 0zm1 0zm1 0zm1 0zm1 0zm1 0zm1 0zm1 0zm1 0zm1 0zm1 0zm1 0zm1 0zm1 0zm1 0zm2 0zm1 0zm1 0zm1 0zm1 0zm1 0zm1 0zm2 0zm1 0zm1 0zm2 0zm1 0zm4 0zm-48 1zm8 0zm2 0zm1 0zm2 0zm1 0zm1 0zm1 0zm1 0zm1 0zm1 0zm1 0zm1 0zm1 0zm1 0zm1 0zm1 0zm1 0zm1 0zm1 0zm1 0zm2 0zm3 0zm2 0zm1 0zm1 0zm2 0zm1 0zm4 0zm4 0zm1 0zm4 0zm-49 1zm1 0zm3 0zm2 0zm1 0zm2 0zm1 0zm1 0zm1 0zm1 0zm1 0zm1 0zm1 0zm1 0zm1 0zm1 0zm1 0zm1 0zm1 0zm1 0zm1 0zm1 0zm1 0zm1 0zm1 0zm1 0zm1 0zm1 0zm1 0zm2 0zm1 0zm1 0zm2 0zm4 0zm5 0zm-43 1zm2 0zm2 0zm1 0zm2 0zm1 0zm1 0zm1 0zm1 0zm1 0zm2 0zm1 0zm1 0zm1 0zm1 0zm2 0zm3 0zm1 0zm1 0zm2 0zm1 0zm3 0zm3 0zm2 0zm2 0zm16 0zm-56 1zm3 0zm2 0zm1 0zm3 0zm1 0zm1 0zm1 0zm1 0zm1 0zm1 0zm1 0zm1 0zm1 0zm1 0zm1 0zm2 0zm1 0zm1 0zm1 0zm1 0zm1 0zm2 0zm1 0zm2 0zm1 0zm1 0zm1 0zm1 0zm1 0zm3 0zm3 0zm8 0zm-52 1zm1 0zm6 0zm4 0zm1 0zm1 0zm1 0zm1 0zm1 0zm1 0zm1 0zm1 0zm1 0zm1 0zm1 0zm1 0zm1 0zm1 0zm1 0zm1 0zm2 0zm2 0zm1 0zm1 0zm1 0zm3 0zm6 0zm-47 1zm1 0zm1 0zm5 0zm1 0zm2 0zm1 0zm2 0zm1 0zm3 0zm1 0zm1 0zm1 0zm1 0zm2 0zm1 0zm1 0zm1 0zm1 0zm1 0zm2 0zm1 0zm1 0zm1 0zm1 0zm6 0zm1 0zm-39 1zm1 0zm5 0zm4 0zm1 0zm1 0zm2 0zm1 0zm3 0zm1 0zm1 0zm1 0zm1 0zm1 0zm2 0zm1 0zm1 0zm1 0zm2 0zm2 0zm1 0zm3 0zm2 0zm7 0zm1 0zm-38 1zm1 0zm1 0zm2 0zm1 0zm1 0zm1 0zm3 0zm1 0zm1 0zm2 0zm1 0zm1 0zm1 0zm1 0zm1 0zm1 0zm1 0zm3 0zm1 0zm3 0zm1 0zm8 0zm-40 1zm5 0zm1 0zm1 0zm1 0zm2 0zm1 0zm1 0zm3 0zm1 0zm1 0zm2 0zm1 0zm2 0zm1 0zm1 0zm2 0zm1 0zm4 0zm8 0zm-38 1zm1 0zm1 0zm3 0zm2 0zm4 0zm1 0zm1 0zm2 0zm2 0zm2 0zm1 0zm2 0zm2 0zm1 0zm1 0zm4 0zm1 0zm-32 1zm4 0zm1 0zm2 0zm1 0zm2 0zm1 0zm3 0zm3 0zm1 0zm1 0zm1 0zm1 0zm3 0zm2 0zm1 0zm3 0zm4 0zm-40 1zm1 0zm4 0zm4 0zm1 0zm7 0zm1 0zm1 0zm2 0zm1 0zm3 0zm1 0zm1 0zm1 0zm1 0zm1 0zm1 0zm2 0zm2 0zm3 0zm1 0zm5 0zm2 0zm-38 1zm4 0zm6 0zm1 0zm2 0zm1 0zm1 0zm1 0zm1 0zm3 0zm3 0zm1 0zm3 0zm3 0zm-32 1zm8 0zm7 0zm1 0zm1 0zm1 0zm1 0zm1 0zm1 0zm2 0zm2 0zm2 0zm2 0zm1 0zm12 0zm-44 1zm3 0zm9 0zm5 0zm3 0zm1 0zm1 0zm2 0zm3 0zm1 0zm1 0zm1 0zm6 0zm-36 1zm6 0zm7 0zm3 0zm2 0zm1 0zm2 0zm1 0zm1 0zm1 0zm13 0zm3 0zm-44 1zm17 0zm2 0zm2 0zm7 0zm9 0zm5 0zm-29 1zm2 0zm3 0zm4 0zm1 0zm5 0zm9 0zm5 0zm15 0zm-56 1zm10 0zm11 0zm4 0zm3 0zm3 0zm7 0zm5 0zm-29 1zm5 0zm3 0zm4 0zm36 0zm-61 1zm16 0zm8 0zm9 0zm2 0zm-20 1zm16 0zm1 0zm-4 1zm-28 1zm15 0zm13 0zm10 0zm-30 1zm6 0zm8 0zm3 0zm3 0zm9 0zm-31 1zm8 0zm3 0zm-3 1zm24 3zm-15 1zm1 0zm-7 2zm12 1zm-3 1zm17 0zm-27 3zm-11 1zm-10 3z"/>
</g>
<g stroke="#111" stroke-width="1.15" fill="none">
<path d="M41.50 25.00 V179.50 M39.00 179.50 H195.00"/>
<path d="M205.50 25.00 V178.50 M203.00 178.50 H359.00"/>
<path d="M364.50 25.00 V177.50 M362.00 177.50 H518.00"/>
<path d="M41.50 183.00 V334.50 M39.00 334.50 H195.00"/>
<path d="M205.50 183.00 V334.50 M203.00 334.50 H359.00"/>
<path d="M364.50 183.00 V333.50 M362.00 333.50 H518.00"/>
<path d="M41.50 340.00 V493.50 M39.00 493.50 H195.00"/>
<path d="M205.50 340.00 V494.50 M203.00 494.50 H359.00"/>
<path d="M364.50 340.00 V493.50 M362.00 493.50 H518.00"/>
</g>
<g stroke="#222" stroke-width="0.7" fill="none">
<path d="M41.50 164.00 h-1.5M57.00 179.50 v1.5M41.50 154.93 h-1.5M66.07 179.50 v1.5M41.50 148.49 h-1.5M72.51 179.50 v1.5M41.50 143.50 h-1.5M77.50 179.50 v1.5M41.50 139.43 h-1.5M81.57 179.50 v1.5M41.50 135.98 h-1.5M85.02 179.50 v1.5M41.50 132.99 h-1.5M88.01 179.50 v1.5M41.50 130.36 h-1.5M90.64 179.50 v1.5M41.50 128.00 h-2.5M93.00 179.50 v2.5M41.50 112.50 h-1.5M108.50 179.50 v1.5M41.50 103.43 h-1.5M117.57 179.50 v1.5M41.50 96.99 h-1.5M124.01 179.50 v1.5M41.50 92.00 h-1.5M129.00 179.50 v1.5M41.50 87.93 h-1.5M133.07 179.50 v1.5M41.50 84.48 h-1.5M136.52 179.50 v1.5M41.50 81.49 h-1.5M139.51 179.50 v1.5M41.50 78.86 h-1.5M142.14 179.50 v1.5M41.50 76.50 h-2.5M144.50 179.50 v2.5M41.50 61.00 h-1.5M160.00 179.50 v1.5M41.50 51.93 h-1.5M169.07 179.50 v1.5M41.50 45.49 h-1.5M175.51 179.50 v1.5M41.50 40.50 h-1.5M180.50 179.50 v1.5M41.50 36.43 h-1.5M184.57 179.50 v1.5M41.50 32.98 h-1.5M188.02 179.50 v1.5M41.50 29.99 h-1.5M191.01 179.50 v1.5M41.50 27.36 h-1.5M193.64 179.50 v1.5"/>
<path d="M205.50 163.00 h-1.5M221.00 178.50 v1.5M205.50 153.93 h-1.5M230.07 178.50 v1.5M205.50 147.49 h-1.5M236.51 178.50 v1.5M205.50 142.50 h-1.5M241.50 178.50 v1.5M205.50 138.43 h-1.5M245.57 178.50 v1.5M205.50 134.98 h-1.5M249.02 178.50 v1.5M205.50 131.99 h-1.5M252.01 178.50 v1.5M205.50 129.36 h-1.5M254.64 178.50 v1.5M205.50 127.00 h-2.5M257.00 178.50 v2.5M205.50 111.50 h-1.5M272.50 178.50 v1.5M205.50 102.43 h-1.5M281.57 178.50 v1.5M205.50 95.99 h-1.5M288.01 178.50 v1.5M205.50 91.00 h-1.5M293.00 178.50 v1.5M205.50 86.93 h-1.5M297.07 178.50 v1.5M205.50 83.48 h-1.5M300.52 178.50 v1.5M205.50 80.49 h-1.5M303.51 178.50 v1.5M205.50 77.86 h-1.5M306.14 178.50 v1.5M205.50 75.50 h-2.5M308.50 178.50 v2.5M205.50 60.00 h-1.5M324.00 178.50 v1.5M205.50 50.93 h-1.5M333.07 178.50 v1.5M205.50 44.49 h-1.5M339.51 178.50 v1.5M205.50 39.50 h-1.5M344.50 178.50 v1.5M205.50 35.43 h-1.5M348.57 178.50 v1.5M205.50 31.98 h-1.5M352.02 178.50 v1.5M205.50 28.99 h-1.5M355.01 178.50 v1.5M205.50 26.36 h-1.5M357.64 178.50 v1.5"/>
<path d="M364.50 162.00 h-1.5M380.00 177.50 v1.5M364.50 152.93 h-1.5M389.07 177.50 v1.5M364.50 146.49 h-1.5M395.51 177.50 v1.5M364.50 141.50 h-1.5M400.50 177.50 v1.5M364.50 137.43 h-1.5M404.57 177.50 v1.5M364.50 133.98 h-1.5M408.02 177.50 v1.5M364.50 130.99 h-1.5M411.01 177.50 v1.5M364.50 128.36 h-1.5M413.64 177.50 v1.5M364.50 126.00 h-2.5M416.00 177.50 v2.5M364.50 110.50 h-1.5M431.50 177.50 v1.5M364.50 101.43 h-1.5M440.57 177.50 v1.5M364.50 94.99 h-1.5M447.01 177.50 v1.5M364.50 90.00 h-1.5M452.00 177.50 v1.5M364.50 85.93 h-1.5M456.07 177.50 v1.5M364.50 82.48 h-1.5M459.52 177.50 v1.5M364.50 79.49 h-1.5M462.51 177.50 v1.5M364.50 76.86 h-1.5M465.14 177.50 v1.5M364.50 74.50 h-2.5M467.50 177.50 v2.5M364.50 59.00 h-1.5M483.00 177.50 v1.5M364.50 49.93 h-1.5M492.07 177.50 v1.5M364.50 43.49 h-1.5M498.51 177.50 v1.5M364.50 38.50 h-1.5M503.50 177.50 v1.5M364.50 34.43 h-1.5M507.57 177.50 v1.5M364.50 30.98 h-1.5M511.02 177.50 v1.5M364.50 27.99 h-1.5M514.01 177.50 v1.5M364.50 25.36 h-1.5M516.64 177.50 v1.5"/>
<path d="M41.50 319.00 h-1.5M57.00 334.50 v1.5M41.50 309.93 h-1.5M66.07 334.50 v1.5M41.50 303.49 h-1.5M72.51 334.50 v1.5M41.50 298.50 h-1.5M77.50 334.50 v1.5M41.50 294.43 h-1.5M81.57 334.50 v1.5M41.50 290.98 h-1.5M85.02 334.50 v1.5M41.50 287.99 h-1.5M88.01 334.50 v1.5M41.50 285.36 h-1.5M90.64 334.50 v1.5M41.50 283.00 h-2.5M93.00 334.50 v2.5M41.50 267.50 h-1.5M108.50 334.50 v1.5M41.50 258.43 h-1.5M117.57 334.50 v1.5M41.50 251.99 h-1.5M124.01 334.50 v1.5M41.50 247.00 h-1.5M129.00 334.50 v1.5M41.50 242.93 h-1.5M133.07 334.50 v1.5M41.50 239.48 h-1.5M136.52 334.50 v1.5M41.50 236.49 h-1.5M139.51 334.50 v1.5M41.50 233.86 h-1.5M142.14 334.50 v1.5M41.50 231.50 h-2.5M144.50 334.50 v2.5M41.50 216.00 h-1.5M160.00 334.50 v1.5M41.50 206.93 h-1.5M169.07 334.50 v1.5M41.50 200.49 h-1.5M175.51 334.50 v1.5M41.50 195.50 h-1.5M180.50 334.50 v1.5M41.50 191.43 h-1.5M184.57 334.50 v1.5M41.50 187.98 h-1.5M188.02 334.50 v1.5M41.50 184.99 h-1.5M191.01 334.50 v1.5M41.50 182.36 h-1.5M193.64 334.50 v1.5"/>
<path d="M205.50 319.00 h-1.5M221.00 334.50 v1.5M205.50 309.93 h-1.5M230.07 334.50 v1.5M205.50 303.49 h-1.5M236.51 334.50 v1.5M205.50 298.50 h-1.5M241.50 334.50 v1.5M205.50 294.43 h-1.5M245.57 334.50 v1.5M205.50 290.98 h-1.5M249.02 334.50 v1.5M205.50 287.99 h-1.5M252.01 334.50 v1.5M205.50 285.36 h-1.5M254.64 334.50 v1.5M205.50 283.00 h-2.5M257.00 334.50 v2.5M205.50 267.50 h-1.5M272.50 334.50 v1.5M205.50 258.43 h-1.5M281.57 334.50 v1.5M205.50 251.99 h-1.5M288.01 334.50 v1.5M205.50 247.00 h-1.5M293.00 334.50 v1.5M205.50 242.93 h-1.5M297.07 334.50 v1.5M205.50 239.48 h-1.5M300.52 334.50 v1.5M205.50 236.49 h-1.5M303.51 334.50 v1.5M205.50 233.86 h-1.5M306.14 334.50 v1.5M205.50 231.50 h-2.5M308.50 334.50 v2.5M205.50 216.00 h-1.5M324.00 334.50 v1.5M205.50 206.93 h-1.5M333.07 334.50 v1.5M205.50 200.49 h-1.5M339.51 334.50 v1.5M205.50 195.50 h-1.5M344.50 334.50 v1.5M205.50 191.43 h-1.5M348.57 334.50 v1.5M205.50 187.98 h-1.5M352.02 334.50 v1.5M205.50 184.99 h-1.5M355.01 334.50 v1.5M205.50 182.36 h-1.5M357.64 334.50 v1.5"/>
<path d="M364.50 318.00 h-1.5M380.00 333.50 v1.5M364.50 308.93 h-1.5M389.07 333.50 v1.5M364.50 302.49 h-1.5M395.51 333.50 v1.5M364.50 297.50 h-1.5M400.50 333.50 v1.5M364.50 293.43 h-1.5M404.57 333.50 v1.5M364.50 289.98 h-1.5M408.02 333.50 v1.5M364.50 286.99 h-1.5M411.01 333.50 v1.5M364.50 284.36 h-1.5M413.64 333.50 v1.5M364.50 282.00 h-2.5M416.00 333.50 v2.5M364.50 266.50 h-1.5M431.50 333.50 v1.5M364.50 257.43 h-1.5M440.57 333.50 v1.5M364.50 250.99 h-1.5M447.01 333.50 v1.5M364.50 246.00 h-1.5M452.00 333.50 v1.5M364.50 241.93 h-1.5M456.07 333.50 v1.5M364.50 238.48 h-1.5M459.52 333.50 v1.5M364.50 235.49 h-1.5M462.51 333.50 v1.5M364.50 232.86 h-1.5M465.14 333.50 v1.5M364.50 230.50 h-2.5M467.50 333.50 v2.5M364.50 215.00 h-1.5M483.00 333.50 v1.5M364.50 205.93 h-1.5M492.07 333.50 v1.5M364.50 199.49 h-1.5M498.51 333.50 v1.5M364.50 194.50 h-1.5M503.50 333.50 v1.5M364.50 190.43 h-1.5M507.57 333.50 v1.5M364.50 186.98 h-1.5M511.02 333.50 v1.5M364.50 183.99 h-1.5M514.01 333.50 v1.5M364.50 181.36 h-1.5M516.64 333.50 v1.5"/>
<path d="M41.50 478.00 h-1.5M57.00 493.50 v1.5M41.50 468.93 h-1.5M66.07 493.50 v1.5M41.50 462.49 h-1.5M72.51 493.50 v1.5M41.50 457.50 h-1.5M77.50 493.50 v1.5M41.50 453.43 h-1.5M81.57 493.50 v1.5M41.50 449.98 h-1.5M85.02 493.50 v1.5M41.50 446.99 h-1.5M88.01 493.50 v1.5M41.50 444.36 h-1.5M90.64 493.50 v1.5M41.50 442.00 h-2.5M93.00 493.50 v2.5M41.50 426.50 h-1.5M108.50 493.50 v1.5M41.50 417.43 h-1.5M117.57 493.50 v1.5M41.50 410.99 h-1.5M124.01 493.50 v1.5M41.50 406.00 h-1.5M129.00 493.50 v1.5M41.50 401.93 h-1.5M133.07 493.50 v1.5M41.50 398.48 h-1.5M136.52 493.50 v1.5M41.50 395.49 h-1.5M139.51 493.50 v1.5M41.50 392.86 h-1.5M142.14 493.50 v1.5M41.50 390.50 h-2.5M144.50 493.50 v2.5M41.50 375.00 h-1.5M160.00 493.50 v1.5M41.50 365.93 h-1.5M169.07 493.50 v1.5M41.50 359.49 h-1.5M175.51 493.50 v1.5M41.50 354.50 h-1.5M180.50 493.50 v1.5M41.50 350.43 h-1.5M184.57 493.50 v1.5M41.50 346.98 h-1.5M188.02 493.50 v1.5M41.50 343.99 h-1.5M191.01 493.50 v1.5M41.50 341.36 h-1.5M193.64 493.50 v1.5"/>
<path d="M205.50 479.00 h-1.5M221.00 494.50 v1.5M205.50 469.93 h-1.5M230.07 494.50 v1.5M205.50 463.49 h-1.5M236.51 494.50 v1.5M205.50 458.50 h-1.5M241.50 494.50 v1.5M205.50 454.43 h-1.5M245.57 494.50 v1.5M205.50 450.98 h-1.5M249.02 494.50 v1.5M205.50 447.99 h-1.5M252.01 494.50 v1.5M205.50 445.36 h-1.5M254.64 494.50 v1.5M205.50 443.00 h-2.5M257.00 494.50 v2.5M205.50 427.50 h-1.5M272.50 494.50 v1.5M205.50 418.43 h-1.5M281.57 494.50 v1.5M205.50 411.99 h-1.5M288.01 494.50 v1.5M205.50 407.00 h-1.5M293.00 494.50 v1.5M205.50 402.93 h-1.5M297.07 494.50 v1.5M205.50 399.48 h-1.5M300.52 494.50 v1.5M205.50 396.49 h-1.5M303.51 494.50 v1.5M205.50 393.86 h-1.5M306.14 494.50 v1.5M205.50 391.50 h-2.5M308.50 494.50 v2.5M205.50 376.00 h-1.5M324.00 494.50 v1.5M205.50 366.93 h-1.5M333.07 494.50 v1.5M205.50 360.49 h-1.5M339.51 494.50 v1.5M205.50 355.50 h-1.5M344.50 494.50 v1.5M205.50 351.43 h-1.5M348.57 494.50 v1.5M205.50 347.98 h-1.5M352.02 494.50 v1.5M205.50 344.99 h-1.5M355.01 494.50 v1.5M205.50 342.36 h-1.5M357.64 494.50 v1.5"/>
<path d="M364.50 478.00 h-1.5M380.00 493.50 v1.5M364.50 468.93 h-1.5M389.07 493.50 v1.5M364.50 462.49 h-1.5M395.51 493.50 v1.5M364.50 457.50 h-1.5M400.50 493.50 v1.5M364.50 453.43 h-1.5M404.57 493.50 v1.5M364.50 449.98 h-1.5M408.02 493.50 v1.5M364.50 446.99 h-1.5M411.01 493.50 v1.5M364.50 444.36 h-1.5M413.64 493.50 v1.5M364.50 442.00 h-2.5M416.00 493.50 v2.5M364.50 426.50 h-1.5M431.50 493.50 v1.5M364.50 417.43 h-1.5M440.57 493.50 v1.5M364.50 410.99 h-1.5M447.01 493.50 v1.5M364.50 406.00 h-1.5M452.00 493.50 v1.5M364.50 401.93 h-1.5M456.07 493.50 v1.5M364.50 398.48 h-1.5M459.52 493.50 v1.5M364.50 395.49 h-1.5M462.51 493.50 v1.5M364.50 392.86 h-1.5M465.14 493.50 v1.5M364.50 390.50 h-2.5M467.50 493.50 v2.5M364.50 375.00 h-1.5M483.00 493.50 v1.5M364.50 365.93 h-1.5M492.07 493.50 v1.5M364.50 359.49 h-1.5M498.51 493.50 v1.5M364.50 354.50 h-1.5M503.50 493.50 v1.5M364.50 350.43 h-1.5M507.57 493.50 v1.5M364.50 346.98 h-1.5M511.02 493.50 v1.5M364.50 343.99 h-1.5M514.01 493.50 v1.5M364.50 341.36 h-1.5M516.64 493.50 v1.5"/>
</g>
<g stroke="#2a2a2a" stroke-width="0.85" fill="none">
<path stroke-dasharray="10.5 4.3" d="M41.00 128.50 H194.00"/><path stroke-dasharray="11 3.8" d="M92.50 23.00 V179.50"/>
<path stroke-dasharray="10.5 10.5" d="M206.80 127.50 H358.00"/><path stroke-dasharray="10.4 10.4" stroke-dashoffset="4.6" d="M256.50 24.00 V178.50"/>
<path stroke-dasharray="10.5 10.5" d="M367.60 126.50 H517.00"/><path stroke-dasharray="10.4 10.4" stroke-dashoffset="4.6" d="M416.50 24.00 V177.50"/>
<path stroke-dasharray="10.5 10.5" d="M43.00 284.50 H194.00"/><path stroke-dasharray="10.4 10.4" stroke-dashoffset="2.5" d="M92.50 182.00 V334.50"/>
<path stroke-dasharray="10.5 10.5" d="M206.80 283.50 H358.00"/><path stroke-dasharray="10.4 10.4" stroke-dashoffset="3.5" d="M256.50 182.00 V334.50"/>
<path stroke-dasharray="10.5 10.5" d="M367.60 283.50 H517.00"/><path stroke-dasharray="10.4 10.4" stroke-dashoffset="4.5" d="M416.50 182.00 V333.50"/>
<path stroke-dasharray="10.5 10.5" d="M43.00 441.50 H194.00"/><path stroke-dasharray="10.4 10.4" stroke-dashoffset="4.5" d="M92.50 339.00 V493.50"/>
<path stroke-dasharray="10.5 10.5" d="M206.80 441.50 H358.00"/><path stroke-dasharray="10.4 10.4" stroke-dashoffset="4.5" d="M256.50 339.00 V494.50"/>
<path stroke-dasharray="10.5 10.5" d="M367.60 441.50 H517.00"/><path stroke-dasharray="10.4 10.4" stroke-dashoffset="5.5" d="M416.50 339.00 V493.50"/>
</g>
<path d="M9.5 36V238M9.5 285V484" stroke="#000" stroke-width="1.3" fill="none"/>
<path d="M9.5 27L5 39H14ZM9.5 494L5 481.5H14Z" fill="#000"/>
</svg>
<svg width="520" height="540" viewBox="0 0 520 540" style="position:absolute;left:0;top:0" font-family="'Liberation Sans',sans-serif" font-weight="bold" fill="#000" stroke="#000" stroke-width="0.25">
<text x="67.00" y="12.00" font-size="14.8" text-anchor="start">Untransduced</text>
<text x="233.00" y="12.00" font-size="15" text-anchor="start">Transduced</text>
<text x="413.80" y="12.00" font-size="15" text-anchor="start">Normal</text>
<text x="145.60" y="172.20" font-size="15" text-anchor="start">CD18</text>
<text x="310.80" y="172.20" font-size="15" text-anchor="start">CD18</text>
<text x="471.80" y="172.20" font-size="15" text-anchor="start">CD18</text>
<text x="145.60" y="326.80" font-size="15" text-anchor="start">CD11a</text>
<text x="310.80" y="326.80" font-size="15" text-anchor="start">CD11a</text>
<text x="471.80" y="326.80" font-size="15" text-anchor="start">CD11a</text>
<text x="145.60" y="485.00" font-size="15" text-anchor="start">CD11b</text>
<text x="310.80" y="485.00" font-size="15" text-anchor="start">CD11b</text>
<text x="471.80" y="485.00" font-size="15" text-anchor="start">CD11b</text>
<text x="152.00" y="535.00" font-size="14.85" text-anchor="start">Relative Fluoresent Intensity (Log Scale)</text>
<text x="41.30" y="512.00" font-size="10" text-anchor="middle">0</text>
<text x="84.40" y="512.00" font-size="10" text-anchor="start">10<tspan dy="-4" font-size="8.5">1</tspan></text>
<text x="135.90" y="512.00" font-size="10" text-anchor="start">10<tspan dy="-4" font-size="8.5">2</tspan></text>
<text x="205.30" y="512.00" font-size="10" text-anchor="middle">0</text>
<text x="248.40" y="512.00" font-size="10" text-anchor="start">10<tspan dy="-4" font-size="8.5">1</tspan></text>
<text x="299.90" y="512.00" font-size="10" text-anchor="start">10<tspan dy="-4" font-size="8.5">2</tspan></text>
<text x="364.30" y="512.00" font-size="10" text-anchor="middle">0</text>
<text x="407.40" y="512.00" font-size="10" text-anchor="start">10<tspan dy="-4" font-size="8.5">1</tspan></text>
<text x="458.90" y="512.00" font-size="10" text-anchor="start">10<tspan dy="-4" font-size="8.5">2</tspan></text>
<text transform="translate(34.5 179.80) rotate(-90)" font-size="10" text-anchor="middle">0</text>
<text transform="translate(34.5 136.20) rotate(-90)" font-size="10">10<tspan dy="-4" font-size="8.5">1</tspan></text>
<text transform="translate(34.5 84.70) rotate(-90)" font-size="10">10<tspan dy="-4" font-size="8.5">2</tspan></text>
<text transform="translate(34.5 334.80) rotate(-90)" font-size="10" text-anchor="middle">0</text>
<text transform="translate(34.5 291.20) rotate(-90)" font-size="10">10<tspan dy="-4" font-size="8.5">1</tspan></text>
<text transform="translate(34.5 239.70) rotate(-90)" font-size="10">10<tspan dy="-4" font-size="8.5">2</tspan></text>
<text transform="translate(34.5 493.80) rotate(-90)" font-size="10" text-anchor="middle">0</text>
<text transform="translate(34.5 450.20) rotate(-90)" font-size="10">10<tspan dy="-4" font-size="8.5">1</tspan></text>
<text transform="translate(34.5 398.70) rotate(-90)" font-size="10">10<tspan dy="-4" font-size="8.5">2</tspan></text>
<text transform="translate(14 278.5) rotate(-90)" font-size="14">CD34</text>
</svg></div></body></html>
